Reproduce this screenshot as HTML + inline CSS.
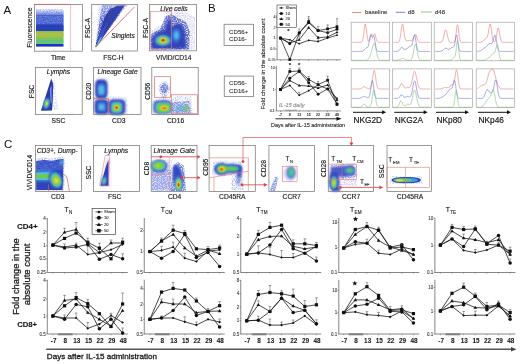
<!DOCTYPE html>
<html><head><meta charset="utf-8"><style>
html,body{margin:0;padding:0;background:#fff;width:520px;height:364px;overflow:hidden}
svg{display:block;filter:blur(0.3px)}
text{font-family:"Liberation Sans", sans-serif}
</style></head><body>
<svg width="520" height="364" viewBox="0 0 520 364">
<defs>
<linearGradient id="gA1" x1="0" y1="0" x2="0" y2="1"><stop offset="0" stop-color="#ffffff" stop-opacity="0"/><stop offset="0.5" stop-color="#b8c2f0"/><stop offset="1" stop-color="#4a60d0"/></linearGradient>
<linearGradient id="gA2" x1="0" y1="0" x2="0" y2="1"><stop offset="0" stop-color="#8a9ae6"/><stop offset="0.35" stop-color="#4d62d0"/><stop offset="1" stop-color="#2a38aa"/></linearGradient>
<filter id="b05" x="-30%" y="-30%" width="160%" height="160%"><feGaussianBlur stdDeviation="0.45"/></filter>
<filter id="b1" x="-30%" y="-30%" width="160%" height="160%"><feGaussianBlur stdDeviation="0.9"/></filter>
<filter id="spk" x="-10%" y="-10%" width="120%" height="120%"><feTurbulence type="fractalNoise" baseFrequency="0.85" numOctaves="2" seed="3" result="n"/><feComponentTransfer in="n" result="m"><feFuncA type="discrete" tableValues="0 0.1 0.5 0.9 1 1"/></feComponentTransfer><feComposite in="SourceGraphic" in2="m" operator="in" result="c"/><feGaussianBlur in="c" stdDeviation="0.35"/></filter>
<filter id="spk2" x="-10%" y="-10%" width="120%" height="120%"><feTurbulence type="fractalNoise" baseFrequency="0.9" numOctaves="2" seed="7" result="n"/><feComponentTransfer in="n" result="m"><feFuncA type="discrete" tableValues="0 0 0.15 0.5 0.9 1"/></feComponentTransfer><feComposite in="SourceGraphic" in2="m" operator="in" result="c"/><feGaussianBlur in="c" stdDeviation="0.4"/></filter>
</defs>
<rect width="520" height="364" fill="#fff"/>
<text x="3.50" y="14.00" font-size="11.5" text-anchor="start" font-weight="normal" font-style="normal" fill="#111" stroke="#111" stroke-width="0.00">A</text>
<rect x="36" y="7.5" width="27.5" height="9" fill="url(#gA1)"/>
<path d="M36,9 H63.5 V15 H36 Z" fill="#6f82dc" opacity="0.7" filter="url(#spk2)"/>
<rect x="36" y="15.5" width="27.5" height="16" fill="#3550c8" filter="url(#b05)"/>
<path d="M36,16 H63.5 V24 H36 Z" fill="#8da2ec" opacity="0.55" filter="url(#spk)"/>
<rect x="36" y="25" width="27.5" height="6" fill="#2a3bb0" opacity="0.8" filter="url(#b05)"/>
<rect x="36" y="31" width="27.5" height="13" fill="#7cc656" filter="url(#b05)"/>
<rect x="36" y="32.6" width="27.5" height="4.6" fill="#b8c448" opacity="0.7" filter="url(#b05)"/>
<path d="M36,33 H63.5 V36.5 H36 Z" fill="#e0a040" opacity="0.35" filter="url(#spk)"/>
<rect x="36" y="39.5" width="27.5" height="4" fill="#50c0a0" opacity="0.55" filter="url(#b05)"/>
<rect x="36" y="44" width="27.5" height="2.6" fill="#1f30c0" filter="url(#b05)"/>
<rect x="34.60" y="4.40" width="47.80" height="46.80" fill="none" stroke="#7a7a7a" stroke-width="0.75"/>
<line x1="44.16" y1="51.20" x2="44.16" y2="50.20" stroke="#999" stroke-width="0.4"/>
<line x1="34.60" y1="13.76" x2="35.60" y2="13.76" stroke="#999" stroke-width="0.4"/>
<line x1="53.72" y1="51.20" x2="53.72" y2="50.20" stroke="#999" stroke-width="0.4"/>
<line x1="34.60" y1="23.12" x2="35.60" y2="23.12" stroke="#999" stroke-width="0.4"/>
<line x1="63.28" y1="51.20" x2="63.28" y2="50.20" stroke="#999" stroke-width="0.4"/>
<line x1="34.60" y1="32.48" x2="35.60" y2="32.48" stroke="#999" stroke-width="0.4"/>
<line x1="72.84" y1="51.20" x2="72.84" y2="50.20" stroke="#999" stroke-width="0.4"/>
<line x1="34.60" y1="41.84" x2="35.60" y2="41.84" stroke="#999" stroke-width="0.4"/>
<polyline points="34.60,4.40 70.60,4.40" fill="none" stroke="#d86868" stroke-width="0.8"/>
<line x1="70.60" y1="4.40" x2="70.60" y2="51.20" stroke="#e09090" stroke-width="0.6"/>
<text x="32.30" y="27.70" font-size="6.7" text-anchor="middle" font-weight="normal" font-style="normal" fill="#111" stroke="#111" stroke-width="0.12" transform="rotate(-90 32.3 27.7)">Fluorescence</text>
<text x="58.20" y="59.60" font-size="6.7" text-anchor="middle" font-weight="normal" font-style="normal" fill="#111" stroke="#111" stroke-width="0.12">Time</text>
<path d="M95.5,47.5 L98.5,5 L128,5 Z" fill="#b0bcef" opacity="0.8" filter="url(#spk2)"/>
<path d="M95.3,47.5 L102,5 L126.5,5 Z" fill="url(#gA2)" opacity="0.95" filter="url(#spk)"/>
<path d="M95.5,47.3 L104,18 L110,9 L117,6 L124.5,5.5 L100,42 Z" fill="#2a37a4" stroke="none" stroke-width="0.7" opacity="0.9" filter="url(#b05)"/>
<path d="M95.6,47.2 L101,32 L107,22 L103,36 Z" fill="#3f5ad0" stroke="none" stroke-width="0.7" opacity="0.7" filter="url(#b05)"/>
<path d="M95.8,47 L99.5,39 L102.5,36 L97.5,46 Z" fill="#58c8e0" stroke="none" stroke-width="0.7" filter="url(#b05)"/>
<path d="M95.8,47.3 L97.8,43 L98.8,43.5 Z" fill="#73c84a" stroke="none" stroke-width="0.7" filter="url(#b05)"/>
<rect x="91.70" y="4.40" width="45.90" height="46.60" fill="none" stroke="#7a7a7a" stroke-width="0.75"/>
<line x1="100.88" y1="51.00" x2="100.88" y2="50.00" stroke="#999" stroke-width="0.4"/>
<line x1="91.70" y1="13.72" x2="92.70" y2="13.72" stroke="#999" stroke-width="0.4"/>
<line x1="110.06" y1="51.00" x2="110.06" y2="50.00" stroke="#999" stroke-width="0.4"/>
<line x1="91.70" y1="23.04" x2="92.70" y2="23.04" stroke="#999" stroke-width="0.4"/>
<line x1="119.24" y1="51.00" x2="119.24" y2="50.00" stroke="#999" stroke-width="0.4"/>
<line x1="91.70" y1="32.36" x2="92.70" y2="32.36" stroke="#999" stroke-width="0.4"/>
<line x1="128.42" y1="51.00" x2="128.42" y2="50.00" stroke="#999" stroke-width="0.4"/>
<line x1="91.70" y1="41.68" x2="92.70" y2="41.68" stroke="#999" stroke-width="0.4"/>
<line x1="95.50" y1="47.00" x2="134.60" y2="6.80" stroke="#d95a58" stroke-width="0.8"/>
<text x="90.30" y="28.00" font-size="6.7" text-anchor="middle" font-weight="normal" font-style="normal" fill="#111" stroke="#111" stroke-width="0.12" transform="rotate(-90 90.3 28.0)">FSC-A</text>
<text x="113.40" y="59.60" font-size="6.7" text-anchor="middle" font-weight="normal" font-style="normal" fill="#111" stroke="#111" stroke-width="0.12">FSC-H</text>
<text x="123.00" y="37.90" font-size="6.6" text-anchor="middle" font-weight="normal" font-style="italic" fill="#111" stroke="#111" stroke-width="0.12">Singlets</text>
<path d="M151,49.5 L151,30 L162,24 L166,10 L174,7 L184,10 L195,18 L195,49.5 Z" fill="#a8a6e6" opacity="0.55" filter="url(#spk2)"/>
<path d="M151,49.5 L151,34 L160,29 L166,16 L172,14 L178,18 L186,22 L190,32 L189,49.5 Z" fill="#3a4cc0" opacity="0.8" filter="url(#spk)"/>
<path d="M151.5,49 L152,38 L158,32 L165,30 L168,20 L171,19 L172,28 L175,24 L181,24 L185,32 L186,48 L170,49 Z" fill="#2b3ab0" stroke="none" stroke-width="0.7" opacity="0.9" filter="url(#b1)"/>
<ellipse cx="162.80" cy="40.50" rx="9.50" ry="6.20" fill="#3a5ad0" opacity="1.0" filter="url(#b1)"/>
<ellipse cx="176.30" cy="35.30" rx="4.80" ry="8.00" fill="#3a62d4" opacity="0.9" filter="url(#b1)"/>
<ellipse cx="176.30" cy="35.30" rx="3.00" ry="5.20" fill="#3a9ae0" opacity="1.0" filter="url(#b1)"/>
<ellipse cx="176.30" cy="35.30" rx="1.80" ry="3.30" fill="#52c6e6" opacity="0.9" filter="url(#b1)"/>
<ellipse cx="163.00" cy="40.50" rx="7.20" ry="4.70" fill="#52c6e6" opacity="1.0" filter="url(#b1)"/>
<ellipse cx="163.00" cy="40.50" rx="5.60" ry="3.60" fill="#73c84a" opacity="1.0" filter="url(#b1)"/>
<ellipse cx="163.10" cy="40.40" rx="3.30" ry="2.40" fill="#e5df2c" opacity="1.0" filter="url(#b1)"/>
<ellipse cx="163.10" cy="40.30" rx="1.70" ry="1.30" fill="#e2341e" opacity="1.0" filter="url(#b05)"/>
<rect x="149.50" y="4.40" width="47.10" height="46.40" fill="none" stroke="#7a7a7a" stroke-width="0.75"/>
<line x1="158.92" y1="50.80" x2="158.92" y2="49.80" stroke="#999" stroke-width="0.4"/>
<line x1="149.50" y1="13.68" x2="150.50" y2="13.68" stroke="#999" stroke-width="0.4"/>
<line x1="168.34" y1="50.80" x2="168.34" y2="49.80" stroke="#999" stroke-width="0.4"/>
<line x1="149.50" y1="22.96" x2="150.50" y2="22.96" stroke="#999" stroke-width="0.4"/>
<line x1="177.76" y1="50.80" x2="177.76" y2="49.80" stroke="#999" stroke-width="0.4"/>
<line x1="149.50" y1="32.24" x2="150.50" y2="32.24" stroke="#999" stroke-width="0.4"/>
<line x1="187.18" y1="50.80" x2="187.18" y2="49.80" stroke="#999" stroke-width="0.4"/>
<line x1="149.50" y1="41.52" x2="150.50" y2="41.52" stroke="#999" stroke-width="0.4"/>
<rect x="150.40" y="11.60" width="20.90" height="37.00" fill="none" stroke="#e08080" stroke-width="0.6"/>
<text x="147.70" y="28.00" font-size="6.7" text-anchor="middle" font-weight="normal" font-style="normal" fill="#111" stroke="#111" stroke-width="0.12" transform="rotate(-90 147.7 28.0)">FSC-A</text>
<text x="173.80" y="59.60" font-size="6.7" text-anchor="middle" font-weight="normal" font-style="normal" fill="#111" stroke="#111" stroke-width="0.12">ViViD/CD14</text>
<text x="173.90" y="11.40" font-size="6.7" text-anchor="middle" font-weight="normal" font-style="italic" fill="#111" stroke="#111" stroke-width="0.12">Live cells</text>
<path d="M42,111 L51,79 L55,84 L58.5,110 Z" fill="#b4bcec" opacity="0.7" filter="url(#spk2)"/>
<path d="M40.9,110.8 L46,95 L51.2,78.6 L53.2,84 L52.8,100 L52,110.6 Z" fill="#2c3aa8" stroke="none" stroke-width="0.7" filter="url(#b05)"/>
<path d="M49.8,89 L51.6,85 L52,104 L50.4,101 Z" fill="#8da0ee" stroke="none" stroke-width="0.7" opacity="0.75" filter="url(#b05)"/>
<ellipse cx="46.50" cy="103.50" rx="2.50" ry="5.00" fill="#3a8fe0" opacity="1.0" transform="rotate(14 46.5 103.5)" filter="url(#b1)"/>
<ellipse cx="46.50" cy="103.50" rx="2.00" ry="4.20" fill="#52c6e6" opacity="1.0" transform="rotate(14 46.5 103.5)" filter="url(#b1)"/>
<ellipse cx="46.60" cy="103.60" rx="1.60" ry="3.40" fill="#73c84a" opacity="1.0" transform="rotate(14 46.6 103.6)" filter="url(#b1)"/>
<ellipse cx="46.70" cy="103.60" rx="1.00" ry="2.00" fill="#d8e030" opacity="1.0" transform="rotate(14 46.7 103.6)" filter="url(#b05)"/>
<rect x="35.40" y="67.40" width="46.80" height="47.00" fill="none" stroke="#7a7a7a" stroke-width="0.75"/>
<line x1="44.76" y1="114.40" x2="44.76" y2="113.40" stroke="#999" stroke-width="0.4"/>
<line x1="35.40" y1="76.80" x2="36.40" y2="76.80" stroke="#999" stroke-width="0.4"/>
<line x1="54.12" y1="114.40" x2="54.12" y2="113.40" stroke="#999" stroke-width="0.4"/>
<line x1="35.40" y1="86.20" x2="36.40" y2="86.20" stroke="#999" stroke-width="0.4"/>
<line x1="63.48" y1="114.40" x2="63.48" y2="113.40" stroke="#999" stroke-width="0.4"/>
<line x1="35.40" y1="95.60" x2="36.40" y2="95.60" stroke="#999" stroke-width="0.4"/>
<line x1="72.84" y1="114.40" x2="72.84" y2="113.40" stroke="#999" stroke-width="0.4"/>
<line x1="35.40" y1="105.00" x2="36.40" y2="105.00" stroke="#999" stroke-width="0.4"/>
<text x="33.50" y="91.50" font-size="6.7" text-anchor="middle" font-weight="normal" font-style="normal" fill="#111" stroke="#111" stroke-width="0.12" transform="rotate(-90 33.5 91.5)">FSC</text>
<text x="58.40" y="123.10" font-size="6.7" text-anchor="middle" font-weight="normal" font-style="normal" fill="#111" stroke="#111" stroke-width="0.12">SSC</text>
<text x="58.50" y="74.20" font-size="6.7" text-anchor="middle" font-weight="normal" font-style="italic" fill="#111" stroke="#111" stroke-width="0.12">Lymphs</text>
<path d="M94,114 L94,97 L110,96 L127,97 L128,114 Z" fill="#aab6ee" opacity="0.6" filter="url(#spk2)"/>
<rect x="95.10" y="79.60" width="12.40" height="18.80" rx="3.41" ry="5.17" fill="#2d3fb5" opacity="1.0" filter="url(#b1)"/>
<rect x="94.70" y="99.40" width="13.80" height="14.80" rx="3.80" ry="4.07" fill="#2d3fb5" opacity="1.0" filter="url(#b1)"/>
<rect x="108.70" y="99.60" width="16.60" height="15.20" rx="4.57" ry="4.18" fill="#2d3fb5" opacity="1.0" filter="url(#b1)"/>
<rect x="97.00" y="83.00" width="8.60" height="13.20" rx="2.37" ry="3.63" fill="#3f6ad8" opacity="1.0" filter="url(#b1)"/>
<rect x="98.40" y="85.50" width="5.80" height="9.00" rx="1.59" ry="2.48" fill="#52c6e6" opacity="0.95" filter="url(#b1)"/>
<rect x="96.80" y="101.60" width="9.60" height="10.40" rx="2.64" ry="2.86" fill="#3f6ad8" opacity="1.0" filter="url(#b1)"/>
<rect x="98.80" y="104.00" width="5.60" height="6.00" rx="1.54" ry="1.65" fill="#52c6e6" opacity="0.95" filter="url(#b1)"/>
<rect x="110.40" y="101.00" width="12.80" height="12.40" rx="3.52" ry="3.41" fill="#3f6ad8" opacity="1.0" filter="url(#b1)"/>
<rect x="111.60" y="102.40" width="10.00" height="10.00" rx="2.75" ry="2.75" fill="#52c6e6" opacity="1.0" filter="url(#b1)"/>
<rect x="112.70" y="103.50" width="7.80" height="8.00" rx="2.15" ry="2.20" fill="#73c84a" opacity="1.0" filter="url(#b1)"/>
<ellipse cx="116.60" cy="107.60" rx="2.50" ry="2.40" fill="#e5df2c" opacity="1.0" filter="url(#b1)"/>
<ellipse cx="116.60" cy="107.60" rx="1.40" ry="1.20" fill="#e2341e" opacity="1.0" filter="url(#b05)"/>
<rect x="93.40" y="67.40" width="47.60" height="47.00" fill="none" stroke="#7a7a7a" stroke-width="0.75"/>
<line x1="102.92" y1="114.40" x2="102.92" y2="113.40" stroke="#999" stroke-width="0.4"/>
<line x1="93.40" y1="76.80" x2="94.40" y2="76.80" stroke="#999" stroke-width="0.4"/>
<line x1="112.44" y1="114.40" x2="112.44" y2="113.40" stroke="#999" stroke-width="0.4"/>
<line x1="93.40" y1="86.20" x2="94.40" y2="86.20" stroke="#999" stroke-width="0.4"/>
<line x1="121.96" y1="114.40" x2="121.96" y2="113.40" stroke="#999" stroke-width="0.4"/>
<line x1="93.40" y1="95.60" x2="94.40" y2="95.60" stroke="#999" stroke-width="0.4"/>
<line x1="131.48" y1="114.40" x2="131.48" y2="113.40" stroke="#999" stroke-width="0.4"/>
<line x1="93.40" y1="105.00" x2="94.40" y2="105.00" stroke="#999" stroke-width="0.4"/>
<polyline points="93.40,98.70 108.50,98.70 108.50,114.40" fill="none" stroke="#d95a58" stroke-width="0.8"/>
<text x="91.50" y="91.20" font-size="6.7" text-anchor="middle" font-weight="normal" font-style="normal" fill="#111" stroke="#111" stroke-width="0.12" transform="rotate(-90 91.5 91.2)">CD20</text>
<text x="118.80" y="123.10" font-size="6.7" text-anchor="middle" font-weight="normal" font-style="normal" fill="#111" stroke="#111" stroke-width="0.12">CD3</text>
<text x="117.60" y="74.20" font-size="6.7" text-anchor="middle" font-weight="normal" font-style="italic" fill="#111" stroke="#111" stroke-width="0.12">Lineage Gate</text>
<path d="M158.50,88.50 a6.00,7.50 0 1,0 12.00,0 a6.00,7.50 0 1,0 -12.00,0 Z" fill="#7a8ee0" opacity="0.7" filter="url(#spk2)"/>
<path d="M160.30,88.50 a4.00,5.00 0 1,0 8.00,0 a4.00,5.00 0 1,0 -8.00,0 Z" fill="#3e58c8" opacity="0.75" filter="url(#spk)"/>
<path d="M161,94 L167,94 L166,101 L162,101 Z" fill="#6a80dc" opacity="0.6" filter="url(#spk2)"/>
<path d="M153,114 L153,100 L172,99 L176,96 L191,96 L193,114 Z" fill="#95a3e8" opacity="0.6" filter="url(#spk2)"/>
<path d="M172,113.5 L172,102 L190,101 L191,113.5 Z" fill="#4058c8" opacity="0.55" filter="url(#spk)"/>
<rect x="153.50" y="100.50" width="18.00" height="13.00" rx="4.95" ry="3.58" fill="#2f44bc" opacity="0.95" filter="url(#b1)"/>
<rect x="155.20" y="102.30" width="15.60" height="10.40" rx="4.29" ry="2.86" fill="#52c6e6" opacity="0.9" filter="url(#b1)"/>
<rect x="157.00" y="103.60" width="13.00" height="8.40" rx="3.58" ry="2.31" fill="#73c84a" opacity="1.0" filter="url(#b1)"/>
<ellipse cx="164.20" cy="108.00" rx="4.20" ry="2.20" fill="#e5df2c" opacity="1.0" filter="url(#b1)"/>
<ellipse cx="164.40" cy="108.20" rx="2.40" ry="1.20" fill="#f08030" opacity="1.0" filter="url(#b05)"/>
<ellipse cx="181.00" cy="108.50" rx="6.00" ry="3.20" fill="#48b0d8" opacity="0.5" filter="url(#b1)"/>
<ellipse cx="186.00" cy="108.50" rx="2.80" ry="2.60" fill="#73c84a" opacity="0.75" filter="url(#b1)"/>
<rect x="151.80" y="67.40" width="46.40" height="47.00" fill="none" stroke="#7a7a7a" stroke-width="0.75"/>
<line x1="161.08" y1="114.40" x2="161.08" y2="113.40" stroke="#999" stroke-width="0.4"/>
<line x1="151.80" y1="76.80" x2="152.80" y2="76.80" stroke="#999" stroke-width="0.4"/>
<line x1="170.36" y1="114.40" x2="170.36" y2="113.40" stroke="#999" stroke-width="0.4"/>
<line x1="151.80" y1="86.20" x2="152.80" y2="86.20" stroke="#999" stroke-width="0.4"/>
<line x1="179.64" y1="114.40" x2="179.64" y2="113.40" stroke="#999" stroke-width="0.4"/>
<line x1="151.80" y1="95.60" x2="152.80" y2="95.60" stroke="#999" stroke-width="0.4"/>
<line x1="188.92" y1="114.40" x2="188.92" y2="113.40" stroke="#999" stroke-width="0.4"/>
<line x1="151.80" y1="105.00" x2="152.80" y2="105.00" stroke="#999" stroke-width="0.4"/>
<rect x="154.40" y="76.70" width="16.20" height="20.60" fill="none" stroke="#dd6a68" stroke-width="0.7"/>
<rect x="171.30" y="94.80" width="26.10" height="19.00" fill="none" stroke="#dd6a68" stroke-width="0.7"/>
<text x="150.00" y="91.20" font-size="6.7" text-anchor="middle" font-weight="normal" font-style="normal" fill="#111" stroke="#111" stroke-width="0.12" transform="rotate(-90 150.0 91.2)">CD56</text>
<text x="175.60" y="123.10" font-size="6.7" text-anchor="middle" font-weight="normal" font-style="normal" fill="#111" stroke="#111" stroke-width="0.12">CD16</text>
<text x="208.00" y="12.20" font-size="11.5" text-anchor="start" font-weight="normal" font-style="normal" fill="#111" stroke="#111" stroke-width="0.00">B</text>
<rect x="224.10" y="24.30" width="29.40" height="21.20" fill="none" stroke="#8a8a8a" stroke-width="0.9"/>
<text x="229.10" y="33.90" font-size="6.1" text-anchor="start" font-weight="normal" font-style="normal" fill="#333" stroke="#333" stroke-width="0.11">CD56+</text>
<text x="229.10" y="40.70" font-size="6.1" text-anchor="start" font-weight="normal" font-style="normal" fill="#333" stroke="#333" stroke-width="0.11">CD16-</text>
<rect x="224.30" y="76.10" width="29.20" height="20.50" fill="none" stroke="#8a8a8a" stroke-width="0.9"/>
<text x="229.10" y="85.20" font-size="6.1" text-anchor="start" font-weight="normal" font-style="normal" fill="#333" stroke="#333" stroke-width="0.11">CD56-</text>
<text x="229.10" y="92.50" font-size="6.1" text-anchor="start" font-weight="normal" font-style="normal" fill="#333" stroke="#333" stroke-width="0.11">CD16+</text>
<text x="265.30" y="64.00" font-size="6.05" text-anchor="middle" font-weight="normal" font-style="normal" fill="#222" stroke="#222" stroke-width="0.11" transform="rotate(-90 265.3 64.0)">Fold change in the absolute count</text>
<line x1="277.10" y1="15.00" x2="277.10" y2="59.80" stroke="#444" stroke-width="0.6"/>
<line x1="277.10" y1="59.80" x2="341.00" y2="59.80" stroke="#444" stroke-width="0.6"/>
<line x1="275.90" y1="17.00" x2="277.10" y2="17.00" stroke="#444" stroke-width="0.45"/>
<text x="275.50" y="18.33" font-size="3.7" text-anchor="end" font-weight="normal" font-style="normal" fill="#333" stroke="#333" stroke-width="0.07">4</text>
<line x1="275.90" y1="27.30" x2="277.10" y2="27.30" stroke="#444" stroke-width="0.45"/>
<text x="275.50" y="28.63" font-size="3.7" text-anchor="end" font-weight="normal" font-style="normal" fill="#333" stroke="#333" stroke-width="0.07">2</text>
<line x1="275.90" y1="38.00" x2="277.10" y2="38.00" stroke="#444" stroke-width="0.45"/>
<text x="275.50" y="39.33" font-size="3.7" text-anchor="end" font-weight="normal" font-style="normal" fill="#333" stroke="#333" stroke-width="0.07">1</text>
<line x1="275.90" y1="49.00" x2="277.10" y2="49.00" stroke="#444" stroke-width="0.45"/>
<text x="275.50" y="50.33" font-size="3.7" text-anchor="end" font-weight="normal" font-style="normal" fill="#333" stroke="#333" stroke-width="0.07">0.5</text>
<line x1="275.90" y1="59.80" x2="277.10" y2="59.80" stroke="#444" stroke-width="0.45"/>
<text x="275.50" y="61.13" font-size="3.7" text-anchor="end" font-weight="normal" font-style="normal" fill="#333" stroke="#333" stroke-width="0.07">0.25</text>
<line x1="280.50" y1="59.80" x2="280.50" y2="61.00" stroke="#444" stroke-width="0.45"/>
<line x1="289.80" y1="59.80" x2="289.80" y2="61.00" stroke="#444" stroke-width="0.45"/>
<line x1="299.20" y1="59.80" x2="299.20" y2="61.00" stroke="#444" stroke-width="0.45"/>
<line x1="308.70" y1="59.80" x2="308.70" y2="61.00" stroke="#444" stroke-width="0.45"/>
<line x1="318.10" y1="59.80" x2="318.10" y2="61.00" stroke="#444" stroke-width="0.45"/>
<line x1="327.60" y1="59.80" x2="327.60" y2="61.00" stroke="#444" stroke-width="0.45"/>
<line x1="337.00" y1="59.80" x2="337.00" y2="61.00" stroke="#444" stroke-width="0.45"/>
<polyline points="280.50,38.10 289.80,39.80 299.20,43.70 308.70,40.30 318.10,41.50 327.60,38.00 337.00,35.20" fill="none" stroke="#1a1a1a" stroke-width="0.75"/>
<line x1="318.10" y1="41.50" x2="318.10" y2="36.50" stroke="#5a5a5a" stroke-width="0.55"/>
<line x1="317.00" y1="36.50" x2="319.21" y2="36.50" stroke="#4a4a4a" stroke-width="0.55"/>
<path d="M280.50,36.95 L281.65,38.10 L280.50,39.25 L279.35,38.10 Z" fill="#111"/>
<path d="M289.80,38.65 L290.95,39.80 L289.80,40.95 L288.65,39.80 Z" fill="#111"/>
<path d="M299.20,42.55 L300.35,43.70 L299.20,44.85 L298.05,43.70 Z" fill="#111"/>
<path d="M308.70,39.15 L309.85,40.30 L308.70,41.45 L307.55,40.30 Z" fill="#111"/>
<path d="M318.10,40.35 L319.25,41.50 L318.10,42.65 L316.95,41.50 Z" fill="#111"/>
<path d="M327.60,36.85 L328.75,38.00 L327.60,39.15 L326.45,38.00 Z" fill="#111"/>
<path d="M337.00,34.05 L338.15,35.20 L337.00,36.35 L335.85,35.20 Z" fill="#111"/>
<polyline points="280.50,38.10 289.80,43.70 299.20,33.00 308.70,22.80 318.10,30.60 327.60,32.70 337.00,29.30" fill="none" stroke="#1a1a1a" stroke-width="0.75"/>
<line x1="308.70" y1="22.80" x2="308.70" y2="18.80" stroke="#5a5a5a" stroke-width="0.55"/>
<line x1="307.59" y1="18.80" x2="309.81" y2="18.80" stroke="#4a4a4a" stroke-width="0.55"/>
<circle cx="280.50" cy="38.10" r="1.49" fill="#111"/>
<circle cx="289.80" cy="43.70" r="1.49" fill="#111"/>
<circle cx="299.20" cy="33.00" r="1.49" fill="#111"/>
<circle cx="308.70" cy="22.80" r="1.49" fill="#111"/>
<circle cx="318.10" cy="30.60" r="1.49" fill="#111"/>
<circle cx="327.60" cy="32.70" r="1.49" fill="#111"/>
<circle cx="337.00" cy="29.30" r="1.49" fill="#111"/>
<polyline points="280.50,38.10 289.80,43.00 299.20,39.80 308.70,27.60 318.10,37.80 327.60,36.90 337.00,32.30" fill="none" stroke="#1a1a1a" stroke-width="0.75"/>
<line x1="299.20" y1="39.80" x2="299.20" y2="35.80" stroke="#5a5a5a" stroke-width="0.55"/>
<line x1="298.09" y1="35.80" x2="300.31" y2="35.80" stroke="#4a4a4a" stroke-width="0.55"/>
<line x1="327.60" y1="36.90" x2="327.60" y2="32.90" stroke="#5a5a5a" stroke-width="0.55"/>
<line x1="326.50" y1="32.90" x2="328.71" y2="32.90" stroke="#4a4a4a" stroke-width="0.55"/>
<path d="M280.50,36.48 L282.03,39.15 L278.97,39.15 Z" fill="#111"/>
<path d="M289.80,41.38 L291.33,44.05 L288.27,44.05 Z" fill="#111"/>
<path d="M299.20,38.18 L300.73,40.85 L297.67,40.85 Z" fill="#111"/>
<path d="M308.70,25.99 L310.23,28.65 L307.17,28.65 Z" fill="#111"/>
<path d="M318.10,36.18 L319.63,38.85 L316.57,38.85 Z" fill="#111"/>
<path d="M327.60,35.28 L329.13,37.95 L326.07,37.95 Z" fill="#111"/>
<path d="M337.00,30.68 L338.53,33.35 L335.47,33.35 Z" fill="#111"/>
<polyline points="280.50,38.10 289.80,59.60 299.20,33.00 308.70,21.60 318.10,30.60 327.60,28.90 337.00,26.70" fill="none" stroke="#1a1a1a" stroke-width="0.75"/>
<line x1="299.20" y1="33.00" x2="299.20" y2="29.00" stroke="#5a5a5a" stroke-width="0.55"/>
<line x1="298.09" y1="29.00" x2="300.31" y2="29.00" stroke="#4a4a4a" stroke-width="0.55"/>
<line x1="308.70" y1="21.60" x2="308.70" y2="16.60" stroke="#5a5a5a" stroke-width="0.55"/>
<line x1="307.59" y1="16.60" x2="309.81" y2="16.60" stroke="#4a4a4a" stroke-width="0.55"/>
<line x1="318.10" y1="30.60" x2="318.10" y2="26.60" stroke="#5a5a5a" stroke-width="0.55"/>
<line x1="317.00" y1="26.60" x2="319.21" y2="26.60" stroke="#4a4a4a" stroke-width="0.55"/>
<line x1="327.60" y1="28.90" x2="327.60" y2="24.90" stroke="#5a5a5a" stroke-width="0.55"/>
<line x1="326.50" y1="24.90" x2="328.71" y2="24.90" stroke="#4a4a4a" stroke-width="0.55"/>
<line x1="337.00" y1="26.70" x2="337.00" y2="18.70" stroke="#5a5a5a" stroke-width="0.55"/>
<line x1="335.89" y1="18.70" x2="338.11" y2="18.70" stroke="#4a4a4a" stroke-width="0.55"/>
<rect x="279.14" y="36.74" width="2.72" height="2.72" fill="#111"/>
<rect x="288.44" y="58.24" width="2.72" height="2.72" fill="#111"/>
<rect x="297.84" y="31.64" width="2.72" height="2.72" fill="#111"/>
<rect x="307.34" y="20.24" width="2.72" height="2.72" fill="#111"/>
<rect x="316.74" y="29.24" width="2.72" height="2.72" fill="#111"/>
<rect x="326.24" y="27.54" width="2.72" height="2.72" fill="#111"/>
<rect x="335.64" y="25.34" width="2.72" height="2.72" fill="#111"/>
<text x="288.50" y="33.20" font-size="6" text-anchor="middle" font-weight="bold" font-style="normal" fill="#111" stroke="#111" stroke-width="0.06">*</text>
<rect x="277.00" y="5.00" width="19.30" height="22.60" fill="#fff" stroke="#444" stroke-width="0.6"/>
<line x1="279.00" y1="7.90" x2="283.70" y2="7.90" stroke="#222" stroke-width="0.6"/>
<path d="M281.30,6.69 L282.51,7.90 L281.30,9.12 L280.09,7.90 Z" fill="#111"/>
<text x="285.60" y="9.30" font-size="3.9" text-anchor="start" font-weight="normal" font-style="normal" fill="#222" stroke="#222" stroke-width="0.07">Sham</text>
<line x1="279.00" y1="13.50" x2="283.70" y2="13.50" stroke="#222" stroke-width="0.6"/>
<circle cx="281.30" cy="13.50" r="1.57" fill="#111"/>
<text x="285.60" y="14.90" font-size="3.9" text-anchor="start" font-weight="normal" font-style="normal" fill="#222" stroke="#222" stroke-width="0.07">10</text>
<line x1="279.00" y1="18.90" x2="283.70" y2="18.90" stroke="#222" stroke-width="0.6"/>
<path d="M281.30,17.19 L282.92,20.01 L279.68,20.01 Z" fill="#111"/>
<text x="285.60" y="20.30" font-size="3.9" text-anchor="start" font-weight="normal" font-style="normal" fill="#222" stroke="#222" stroke-width="0.07">20</text>
<line x1="279.00" y1="24.30" x2="283.70" y2="24.30" stroke="#222" stroke-width="0.6"/>
<rect x="279.86" y="22.86" width="2.88" height="2.88" fill="#111"/>
<text x="285.60" y="25.70" font-size="3.9" text-anchor="start" font-weight="normal" font-style="normal" fill="#222" stroke="#222" stroke-width="0.07">50</text>
<line x1="276.40" y1="65.70" x2="276.40" y2="110.90" stroke="#444" stroke-width="0.6"/>
<line x1="276.40" y1="110.90" x2="341.00" y2="110.90" stroke="#444" stroke-width="0.6"/>
<line x1="275.20" y1="67.80" x2="276.40" y2="67.80" stroke="#444" stroke-width="0.45"/>
<text x="274.80" y="69.13" font-size="3.7" text-anchor="end" font-weight="normal" font-style="normal" fill="#333" stroke="#333" stroke-width="0.07">10</text>
<line x1="275.20" y1="89.40" x2="276.40" y2="89.40" stroke="#444" stroke-width="0.45"/>
<text x="274.80" y="90.73" font-size="3.7" text-anchor="end" font-weight="normal" font-style="normal" fill="#333" stroke="#333" stroke-width="0.07">1</text>
<line x1="275.20" y1="110.90" x2="276.40" y2="110.90" stroke="#444" stroke-width="0.45"/>
<text x="274.80" y="112.23" font-size="3.7" text-anchor="end" font-weight="normal" font-style="normal" fill="#333" stroke="#333" stroke-width="0.07">0.1</text>
<line x1="280.50" y1="110.90" x2="280.50" y2="112.10" stroke="#444" stroke-width="0.45"/>
<line x1="289.80" y1="110.90" x2="289.80" y2="112.10" stroke="#444" stroke-width="0.45"/>
<line x1="299.20" y1="110.90" x2="299.20" y2="112.10" stroke="#444" stroke-width="0.45"/>
<line x1="308.70" y1="110.90" x2="308.70" y2="112.10" stroke="#444" stroke-width="0.45"/>
<line x1="318.10" y1="110.90" x2="318.10" y2="112.10" stroke="#444" stroke-width="0.45"/>
<line x1="327.60" y1="110.90" x2="327.60" y2="112.10" stroke="#444" stroke-width="0.45"/>
<line x1="337.00" y1="110.90" x2="337.00" y2="112.10" stroke="#444" stroke-width="0.45"/>
<text x="280.50" y="116.00" font-size="3.6" text-anchor="middle" font-weight="bold" font-style="normal" fill="#333" stroke="#333" stroke-width="0.04">-7</text>
<text x="289.80" y="116.00" font-size="3.6" text-anchor="middle" font-weight="bold" font-style="normal" fill="#333" stroke="#333" stroke-width="0.04">8</text>
<text x="299.20" y="116.00" font-size="3.6" text-anchor="middle" font-weight="bold" font-style="normal" fill="#333" stroke="#333" stroke-width="0.04">13</text>
<text x="308.70" y="116.00" font-size="3.6" text-anchor="middle" font-weight="bold" font-style="normal" fill="#333" stroke="#333" stroke-width="0.04">15</text>
<text x="318.10" y="116.00" font-size="3.6" text-anchor="middle" font-weight="bold" font-style="normal" fill="#333" stroke="#333" stroke-width="0.04">22</text>
<text x="327.60" y="116.00" font-size="3.6" text-anchor="middle" font-weight="bold" font-style="normal" fill="#333" stroke="#333" stroke-width="0.04">29</text>
<text x="337.00" y="116.00" font-size="3.6" text-anchor="middle" font-weight="bold" font-style="normal" fill="#333" stroke="#333" stroke-width="0.04">48</text>
<polyline points="280.50,89.40 289.80,85.50 299.20,95.20 308.70,90.70 318.10,85.00 327.60,89.00 337.00,98.30" fill="none" stroke="#1a1a1a" stroke-width="0.75"/>
<line x1="299.20" y1="95.20" x2="299.20" y2="92.20" stroke="#5a5a5a" stroke-width="0.55"/>
<line x1="298.09" y1="92.20" x2="300.31" y2="92.20" stroke="#4a4a4a" stroke-width="0.55"/>
<path d="M280.50,88.25 L281.65,89.40 L280.50,90.55 L279.35,89.40 Z" fill="#111"/>
<path d="M289.80,84.35 L290.95,85.50 L289.80,86.65 L288.65,85.50 Z" fill="#111"/>
<path d="M299.20,94.05 L300.35,95.20 L299.20,96.35 L298.05,95.20 Z" fill="#111"/>
<path d="M308.70,89.55 L309.85,90.70 L308.70,91.85 L307.55,90.70 Z" fill="#111"/>
<path d="M318.10,83.85 L319.25,85.00 L318.10,86.15 L316.95,85.00 Z" fill="#111"/>
<path d="M327.60,87.85 L328.75,89.00 L327.60,90.15 L326.45,89.00 Z" fill="#111"/>
<path d="M337.00,97.15 L338.15,98.30 L337.00,99.45 L335.85,98.30 Z" fill="#111"/>
<polyline points="280.50,89.40 289.80,78.30 299.20,71.50 308.70,82.70 318.10,94.20 327.60,89.00 337.00,104.00" fill="none" stroke="#1a1a1a" stroke-width="0.75"/>
<circle cx="280.50" cy="89.40" r="1.49" fill="#111"/>
<circle cx="289.80" cy="78.30" r="1.49" fill="#111"/>
<circle cx="299.20" cy="71.50" r="1.49" fill="#111"/>
<circle cx="308.70" cy="82.70" r="1.49" fill="#111"/>
<circle cx="318.10" cy="94.20" r="1.49" fill="#111"/>
<circle cx="327.60" cy="89.00" r="1.49" fill="#111"/>
<circle cx="337.00" cy="104.00" r="1.49" fill="#111"/>
<polyline points="280.50,89.40 289.80,80.50 299.20,85.50 308.70,86.00 318.10,88.00 327.60,85.00 337.00,100.00" fill="none" stroke="#1a1a1a" stroke-width="0.75"/>
<path d="M280.50,87.79 L282.03,90.45 L278.97,90.45 Z" fill="#111"/>
<path d="M289.80,78.89 L291.33,81.55 L288.27,81.55 Z" fill="#111"/>
<path d="M299.20,83.89 L300.73,86.55 L297.67,86.55 Z" fill="#111"/>
<path d="M308.70,84.39 L310.23,87.05 L307.17,87.05 Z" fill="#111"/>
<path d="M318.10,86.39 L319.63,89.05 L316.57,89.05 Z" fill="#111"/>
<path d="M327.60,83.39 L329.13,86.05 L326.07,86.05 Z" fill="#111"/>
<path d="M337.00,98.39 L338.53,101.05 L335.47,101.05 Z" fill="#111"/>
<polyline points="280.50,89.40 289.80,71.50 299.20,71.00 308.70,79.50 318.10,84.60 327.60,80.20 337.00,104.50" fill="none" stroke="#1a1a1a" stroke-width="0.75"/>
<line x1="289.80" y1="71.50" x2="289.80" y2="68.50" stroke="#5a5a5a" stroke-width="0.55"/>
<line x1="288.69" y1="68.50" x2="290.91" y2="68.50" stroke="#4a4a4a" stroke-width="0.55"/>
<line x1="299.20" y1="71.00" x2="299.20" y2="68.00" stroke="#5a5a5a" stroke-width="0.55"/>
<line x1="298.09" y1="68.00" x2="300.31" y2="68.00" stroke="#4a4a4a" stroke-width="0.55"/>
<line x1="308.70" y1="79.50" x2="308.70" y2="76.50" stroke="#5a5a5a" stroke-width="0.55"/>
<line x1="307.59" y1="76.50" x2="309.81" y2="76.50" stroke="#4a4a4a" stroke-width="0.55"/>
<line x1="318.10" y1="84.60" x2="318.10" y2="81.60" stroke="#5a5a5a" stroke-width="0.55"/>
<line x1="317.00" y1="81.60" x2="319.21" y2="81.60" stroke="#4a4a4a" stroke-width="0.55"/>
<line x1="327.60" y1="80.20" x2="327.60" y2="76.20" stroke="#5a5a5a" stroke-width="0.55"/>
<line x1="326.50" y1="76.20" x2="328.71" y2="76.20" stroke="#4a4a4a" stroke-width="0.55"/>
<line x1="337.00" y1="104.50" x2="337.00" y2="100.50" stroke="#5a5a5a" stroke-width="0.55"/>
<line x1="335.89" y1="100.50" x2="338.11" y2="100.50" stroke="#4a4a4a" stroke-width="0.55"/>
<rect x="279.14" y="88.04" width="2.72" height="2.72" fill="#111"/>
<rect x="288.44" y="70.14" width="2.72" height="2.72" fill="#111"/>
<rect x="297.84" y="69.64" width="2.72" height="2.72" fill="#111"/>
<rect x="307.34" y="78.14" width="2.72" height="2.72" fill="#111"/>
<rect x="316.74" y="83.24" width="2.72" height="2.72" fill="#111"/>
<rect x="326.24" y="78.84" width="2.72" height="2.72" fill="#111"/>
<rect x="335.64" y="103.14" width="2.72" height="2.72" fill="#111"/>
<text x="289.80" y="67.00" font-size="6" text-anchor="middle" font-weight="bold" font-style="normal" fill="#111" stroke="#111" stroke-width="0.06">*</text>
<text x="299.20" y="67.00" font-size="6" text-anchor="middle" font-weight="bold" font-style="normal" fill="#111" stroke="#111" stroke-width="0.06">*</text>
<text x="279.00" y="106.90" font-size="5.5" text-anchor="start" font-weight="normal" font-style="italic" fill="#888" stroke="#888" stroke-width="0.10">IL-15 daily</text>
<line x1="285.20" y1="110.40" x2="297.00" y2="110.40" stroke="#999" stroke-width="1.3"/>
<line x1="275.50" y1="118.80" x2="338.00" y2="118.80" stroke="#111" stroke-width="0.9"/>
<path d="M341.5,118.8 L336.5,116.8 L336.5,120.8 Z" fill="#111" stroke="none" stroke-width="0.7"/>
<text x="271.00" y="126.90" font-size="5.45" text-anchor="start" font-weight="normal" font-style="normal" fill="#222" stroke="#222" stroke-width="0.10">Days after IL-15 administration</text>
<line x1="352.00" y1="12.50" x2="361.50" y2="12.50" stroke="#e26a6a" stroke-width="0.8"/>
<text x="365.00" y="14.20" font-size="6" text-anchor="start" font-weight="normal" font-style="normal" fill="#333" stroke="#333" stroke-width="0.11">baseline</text>
<line x1="395.80" y1="12.30" x2="405.40" y2="12.30" stroke="#6262cc" stroke-width="0.8"/>
<text x="407.80" y="14.20" font-size="6" text-anchor="start" font-weight="normal" font-style="normal" fill="#333" stroke="#333" stroke-width="0.11">d8</text>
<line x1="420.80" y1="12.00" x2="432.30" y2="12.00" stroke="#74bc70" stroke-width="0.8"/>
<text x="435.00" y="14.20" font-size="6" text-anchor="start" font-weight="normal" font-style="normal" fill="#333" stroke="#333" stroke-width="0.11">d48</text>
<rect x="351.20" y="22.20" width="38.50" height="38.60" fill="#fff" stroke="#a0a0a0" stroke-width="0.65"/>
<polyline points="352.20,42.40 352.58,42.41 352.96,42.44 353.34,42.40 353.72,42.40 354.10,42.41 354.48,42.37 354.86,42.40 355.24,42.41 355.62,42.43 356.00,42.36 356.38,42.38 356.76,42.36 357.14,42.43 357.52,42.42 357.90,42.35 358.28,42.45 358.66,42.45 359.04,42.42 359.42,42.41 359.80,42.36 360.18,42.34 360.56,42.38 360.94,42.28 361.32,42.19 361.71,41.91 362.09,41.36 362.47,40.68 362.85,39.28 363.23,37.42 363.61,34.54 363.99,31.45 364.37,28.18 364.75,25.71 365.13,24.13 365.51,24.06 365.89,26.15 366.27,28.80 366.65,31.87 367.03,34.91 367.41,37.34 367.79,39.26 368.17,40.53 368.55,41.03 368.93,41.30 369.31,40.65 369.69,39.86 370.07,38.29 370.45,37.03 370.83,35.53 371.21,34.02 371.59,33.76 371.97,34.43 372.35,34.80 372.73,35.69 373.11,35.60 373.49,35.15 373.87,34.85 374.25,34.33 374.63,33.80 375.01,34.12 375.39,35.32 375.77,37.13 376.15,38.58 376.53,39.68 376.91,40.80 377.29,41.46 377.67,41.88 378.05,42.27 378.43,42.30 378.81,42.38 379.19,42.39 379.57,42.37 379.96,42.42 380.34,42.36 380.72,42.41 381.10,42.36 381.48,42.39 381.86,42.37 382.24,42.38 382.62,42.45 383.00,42.43 383.38,42.38 383.76,42.44 384.14,42.37 384.52,42.39 384.90,42.44 385.28,42.41 385.66,42.36 386.04,42.45 386.42,42.37 386.80,42.38 387.18,42.43 387.56,42.38 387.94,42.38 388.32,42.36 388.70,42.36" fill="none" stroke="#e26a6a" stroke-width="0.55"/>
<polyline points="352.20,51.51 352.58,51.47 352.96,51.51 353.34,51.49 353.72,51.50 354.10,51.55 354.48,51.50 354.86,51.51 355.24,51.54 355.62,51.47 356.00,51.47 356.38,51.54 356.76,51.53 357.14,51.47 357.52,51.47 357.90,51.52 358.28,51.54 358.66,51.47 359.04,51.54 359.42,51.53 359.80,51.50 360.18,51.47 360.56,51.43 360.94,51.39 361.32,51.46 361.71,51.31 362.09,51.28 362.47,51.05 362.85,51.06 363.23,50.76 363.61,50.36 363.99,49.98 364.37,49.82 364.75,49.14 365.13,48.81 365.51,48.59 365.89,48.43 366.27,48.09 366.65,47.78 367.03,47.96 367.41,47.44 367.79,46.98 368.17,46.38 368.55,45.24 368.93,43.22 369.31,41.02 369.69,38.73 370.07,36.73 370.45,34.98 370.83,34.67 371.21,35.46 371.59,36.42 371.97,37.07 372.35,37.52 372.73,37.27 373.11,36.39 373.49,35.81 373.87,35.86 374.25,37.44 374.63,39.10 375.01,41.67 375.39,43.70 375.77,46.43 376.15,48.26 376.53,49.73 376.91,50.45 377.29,51.19 377.67,51.23 378.05,51.42 378.43,51.49 378.81,51.53 379.19,51.52 379.57,51.52 379.96,51.53 380.34,51.54 380.72,51.49 381.10,51.52 381.48,51.54 381.86,51.54 382.24,51.49 382.62,51.53 383.00,51.54 383.38,51.51 383.76,51.51 384.14,51.49 384.52,51.51 384.90,51.51 385.28,51.46 385.66,51.51 386.04,51.55 386.42,51.54 386.80,51.52 387.18,51.49 387.56,51.52 387.94,51.51 388.32,51.49 388.70,51.53" fill="none" stroke="#6262cc" stroke-width="0.55"/>
<polyline points="352.20,60.26 352.58,60.33 352.96,60.25 353.34,60.31 353.72,60.30 354.10,60.27 354.48,60.32 354.86,60.30 355.24,60.31 355.62,60.34 356.00,60.28 356.38,60.25 356.76,60.28 357.14,60.32 357.52,60.27 357.90,60.27 358.28,60.34 358.66,60.32 359.04,60.29 359.42,60.34 359.80,60.28 360.18,60.32 360.56,60.27 360.94,60.29 361.32,60.33 361.71,60.34 362.09,60.34 362.47,60.29 362.85,60.31 363.23,60.28 363.61,60.26 363.99,60.30 364.37,60.33 364.75,60.33 365.13,60.32 365.51,60.34 365.89,60.25 366.27,60.22 366.65,60.20 367.03,60.08 367.41,59.87 367.79,59.68 368.17,59.40 368.55,58.85 368.93,58.13 369.31,57.58 369.69,56.76 370.07,55.52 370.45,54.27 370.83,53.13 371.21,52.43 371.59,50.66 371.97,49.70 372.35,48.16 372.73,46.53 373.11,45.54 373.49,43.94 373.87,43.40 374.25,43.56 374.63,43.76 375.01,45.42 375.39,46.54 375.77,48.34 376.15,50.28 376.53,52.61 376.91,54.32 377.29,55.98 377.67,57.27 378.05,58.32 378.43,59.10 378.81,59.50 379.19,59.68 379.57,59.99 379.96,60.09 380.34,60.15 380.72,60.25 381.10,60.30 381.48,60.26 381.86,60.27 382.24,60.28 382.62,60.32 383.00,60.30 383.38,60.31 383.76,60.33 384.14,60.29 384.52,60.33 384.90,60.34 385.28,60.26 385.66,60.34 386.04,60.32 386.42,60.26 386.80,60.30 387.18,60.31 387.56,60.34 387.94,60.29 388.32,60.31 388.70,60.34" fill="none" stroke="#74bc70" stroke-width="0.55"/>
<line x1="358.90" y1="60.80" x2="358.90" y2="59.90" stroke="#aaa" stroke-width="0.4"/>
<line x1="366.60" y1="60.80" x2="366.60" y2="59.90" stroke="#aaa" stroke-width="0.4"/>
<line x1="374.30" y1="60.80" x2="374.30" y2="59.90" stroke="#aaa" stroke-width="0.4"/>
<line x1="382.00" y1="60.80" x2="382.00" y2="59.90" stroke="#aaa" stroke-width="0.4"/>
<rect x="351.20" y="68.90" width="38.50" height="38.70" fill="#fff" stroke="#a0a0a0" stroke-width="0.65"/>
<polyline points="352.20,89.03 352.58,89.04 352.96,89.00 353.34,89.02 353.72,88.97 354.10,89.02 354.48,89.03 354.86,89.01 355.24,89.02 355.62,88.97 356.00,89.04 356.38,89.05 356.76,89.05 357.14,89.00 357.52,89.03 357.90,88.98 358.28,89.04 358.66,89.03 359.04,88.96 359.42,88.91 359.80,88.92 360.18,88.88 360.56,88.82 360.94,88.67 361.32,88.36 361.71,88.42 362.09,87.91 362.47,87.90 362.85,87.36 363.23,87.14 363.61,87.09 363.99,86.64 364.37,86.55 364.75,86.73 365.13,86.93 365.51,87.18 365.89,87.37 366.27,87.76 366.65,87.87 367.03,88.30 367.41,88.23 367.79,88.47 368.17,88.71 368.55,88.78 368.93,88.88 369.31,88.86 369.69,88.77 370.07,88.68 370.45,88.20 370.83,87.44 371.21,86.41 371.59,85.09 371.97,83.09 372.35,80.17 372.73,77.78 373.11,75.11 373.49,72.47 373.87,70.99 374.25,70.28 374.63,71.28 375.01,73.03 375.39,75.59 375.77,78.02 376.15,81.35 376.53,83.49 376.91,85.35 377.29,86.92 377.67,87.76 378.05,88.32 378.43,88.72 378.81,88.79 379.19,88.93 379.57,88.96 379.96,89.04 380.34,89.04 380.72,88.98 381.10,89.00 381.48,88.96 381.86,88.99 382.24,89.03 382.62,89.04 383.00,89.00 383.38,88.98 383.76,88.97 384.14,89.01 384.52,89.04 384.90,88.96 385.28,89.03 385.66,88.95 386.04,88.97 386.42,88.97 386.80,89.02 387.18,88.98 387.56,88.99 387.94,89.01 388.32,88.96 388.70,89.02" fill="none" stroke="#e26a6a" stroke-width="0.55"/>
<polyline points="352.20,98.36 352.58,98.40 352.96,98.38 353.34,98.37 353.72,98.40 354.10,98.39 354.48,98.39 354.86,98.39 355.24,98.40 355.62,98.37 356.00,98.37 356.38,98.41 356.76,98.41 357.14,98.40 357.52,98.43 357.90,98.40 358.28,98.41 358.66,98.33 359.04,98.36 359.42,98.32 359.80,98.27 360.18,98.11 360.56,97.96 360.94,98.01 361.32,97.59 361.71,97.66 362.09,97.40 362.47,96.88 362.85,96.71 363.23,96.72 363.61,96.39 363.99,96.24 364.37,96.55 364.75,96.44 365.13,96.72 365.51,96.63 365.89,96.96 366.27,97.30 366.65,97.27 367.03,97.54 367.41,97.87 367.79,98.04 368.17,98.05 368.55,97.58 368.93,97.29 369.31,96.59 369.69,95.19 370.07,93.41 370.45,90.69 370.83,87.74 371.21,84.83 371.59,82.23 371.97,80.93 372.35,80.42 372.73,81.29 373.11,82.93 373.49,85.66 373.87,88.63 374.25,91.78 374.63,94.15 375.01,95.84 375.39,96.67 375.77,97.41 376.15,98.14 376.53,98.21 376.91,98.35 377.29,98.35 377.67,98.39 378.05,98.40 378.43,98.39 378.81,98.41 379.19,98.35 379.57,98.42 379.96,98.43 380.34,98.37 380.72,98.40 381.10,98.42 381.48,98.39 381.86,98.37 382.24,98.37 382.62,98.40 383.00,98.35 383.38,98.44 383.76,98.43 384.14,98.42 384.52,98.44 384.90,98.41 385.28,98.39 385.66,98.41 386.04,98.40 386.42,98.45 386.80,98.43 387.18,98.38 387.56,98.44 387.94,98.42 388.32,98.43 388.70,98.43" fill="none" stroke="#6262cc" stroke-width="0.55"/>
<polyline points="352.20,107.19 352.58,107.24 352.96,107.24 353.34,107.22 353.72,107.23 354.10,107.23 354.48,107.19 354.86,107.22 355.24,107.16 355.62,107.18 356.00,107.20 356.38,107.15 356.76,107.19 357.14,107.21 357.52,107.21 357.90,107.17 358.28,107.24 358.66,107.21 359.04,107.17 359.42,107.20 359.80,107.17 360.18,107.12 360.56,107.03 360.94,106.98 361.32,106.77 361.71,106.52 362.09,106.19 362.47,105.85 362.85,105.00 363.23,104.82 363.61,104.53 363.99,104.12 364.37,104.17 364.75,104.19 365.13,104.59 365.51,105.10 365.89,105.45 366.27,105.95 366.65,106.55 367.03,106.71 367.41,106.90 367.79,107.08 368.17,107.11 368.55,107.18 368.93,107.12 369.31,107.07 369.69,106.72 370.07,106.57 370.45,106.07 370.83,104.88 371.21,103.94 371.59,101.73 371.97,99.62 372.35,96.84 372.73,94.43 373.11,92.21 373.49,90.20 373.87,90.24 374.25,90.31 374.63,91.86 375.01,94.13 375.39,96.57 375.77,99.14 376.15,101.68 376.53,103.52 376.91,104.81 377.29,105.95 377.67,106.40 378.05,106.67 378.43,106.99 378.81,107.07 379.19,107.13 379.57,107.21 379.96,107.18 380.34,107.24 380.72,107.22 381.10,107.15 381.48,107.25 381.86,107.24 382.24,107.16 382.62,107.24 383.00,107.19 383.38,107.20 383.76,107.25 384.14,107.17 384.52,107.20 384.90,107.24 385.28,107.22 385.66,107.20 386.04,107.25 386.42,107.23 386.80,107.21 387.18,107.16 387.56,107.21 387.94,107.20 388.32,107.17 388.70,107.16" fill="none" stroke="#74bc70" stroke-width="0.55"/>
<line x1="358.90" y1="107.60" x2="358.90" y2="106.70" stroke="#aaa" stroke-width="0.4"/>
<line x1="366.60" y1="107.60" x2="366.60" y2="106.70" stroke="#aaa" stroke-width="0.4"/>
<line x1="374.30" y1="107.60" x2="374.30" y2="106.70" stroke="#aaa" stroke-width="0.4"/>
<line x1="382.00" y1="107.60" x2="382.00" y2="106.70" stroke="#aaa" stroke-width="0.4"/>
<line x1="353.00" y1="112.30" x2="383.20" y2="112.30" stroke="#111" stroke-width="1.0"/>
<path d="M386.10,112.3 L382.10,110.3 L382.10,114.3 Z" fill="#111" stroke="none" stroke-width="0.7"/>
<text x="353.50" y="122.70" font-size="8.3" text-anchor="start" font-weight="normal" font-style="normal" fill="#111" stroke="#111" stroke-width="0.15">NKG2D</text>
<rect x="392.50" y="22.20" width="38.80" height="38.60" fill="#fff" stroke="#a0a0a0" stroke-width="0.65"/>
<polyline points="393.50,42.40 393.88,42.36 394.26,42.39 394.64,42.42 395.02,42.40 395.40,42.38 395.78,42.41 396.16,42.39 396.54,42.43 396.91,42.40 397.29,42.43 397.67,42.40 398.05,42.31 398.43,42.10 398.81,41.69 399.19,41.42 399.57,40.45 399.95,38.95 400.33,36.78 400.71,34.13 401.09,31.42 401.47,28.38 401.85,25.90 402.23,24.36 402.61,24.12 402.98,24.67 403.36,26.79 403.74,30.04 404.12,32.90 404.50,35.55 404.88,37.28 405.26,38.90 405.64,40.03 406.02,40.67 406.40,41.01 406.78,40.88 407.16,41.02 407.54,40.75 407.92,40.66 408.30,40.81 408.68,40.69 409.05,40.67 409.43,40.55 409.81,40.59 410.19,40.51 410.57,40.60 410.95,40.80 411.33,40.84 411.71,40.47 412.09,40.31 412.47,40.26 412.85,39.63 413.23,38.93 413.61,37.68 413.99,36.70 414.37,35.55 414.75,35.01 415.12,34.24 415.50,34.37 415.88,35.00 416.26,35.46 416.64,36.71 417.02,38.04 417.40,39.30 417.78,40.09 418.16,40.87 418.54,41.35 418.92,42.01 419.30,42.07 419.68,42.21 420.06,42.34 420.44,42.37 420.82,42.41 421.19,42.37 421.57,42.43 421.95,42.36 422.33,42.37 422.71,42.42 423.09,42.36 423.47,42.38 423.85,42.42 424.23,42.42 424.61,42.38 424.99,42.36 425.37,42.39 425.75,42.42 426.13,42.39 426.51,42.36 426.89,42.42 427.26,42.41 427.64,42.44 428.02,42.44 428.40,42.44 428.78,42.39 429.16,42.43 429.54,42.38 429.92,42.38 430.30,42.39" fill="none" stroke="#e26a6a" stroke-width="0.55"/>
<polyline points="393.50,51.54 393.88,51.54 394.26,51.47 394.64,51.49 395.02,51.49 395.40,51.48 395.78,51.48 396.16,51.48 396.54,51.45 396.91,51.46 397.29,51.44 397.67,51.34 398.05,51.24 398.43,51.02 398.81,50.59 399.19,50.42 399.57,49.99 399.95,49.18 400.33,48.47 400.71,48.14 401.09,47.71 401.47,47.44 401.85,47.55 402.23,47.51 402.61,47.87 402.98,47.91 403.36,48.55 403.74,49.04 404.12,49.03 404.50,49.22 404.88,49.56 405.26,49.59 405.64,49.12 406.02,49.18 406.40,48.74 406.78,48.76 407.16,48.45 407.54,47.98 407.92,47.68 408.30,47.65 408.68,47.23 409.05,47.07 409.43,46.63 409.81,46.39 410.19,46.55 410.57,46.25 410.95,46.00 411.33,45.75 411.71,45.36 412.09,44.50 412.47,43.32 412.85,41.27 413.23,39.49 413.61,37.34 413.99,35.82 414.37,34.92 414.75,35.10 415.12,36.36 415.50,38.49 415.88,40.87 416.26,43.48 416.64,46.01 417.02,48.02 417.40,49.28 417.78,50.24 418.16,50.74 418.54,51.27 418.92,51.42 419.30,51.43 419.68,51.44 420.06,51.46 420.44,51.49 420.82,51.48 421.19,51.55 421.57,51.46 421.95,51.48 422.33,51.46 422.71,51.51 423.09,51.53 423.47,51.47 423.85,51.46 424.23,51.50 424.61,51.51 424.99,51.54 425.37,51.45 425.75,51.46 426.13,51.47 426.51,51.47 426.89,51.47 427.26,51.52 427.64,51.51 428.02,51.47 428.40,51.47 428.78,51.48 429.16,51.47 429.54,51.53 429.92,51.48 430.30,51.50" fill="none" stroke="#6262cc" stroke-width="0.55"/>
<polyline points="393.50,60.33 393.88,60.30 394.26,60.28 394.64,60.34 395.02,60.34 395.40,60.28 395.78,60.30 396.16,60.34 396.54,60.27 396.91,60.23 397.29,60.18 397.67,60.24 398.05,60.17 398.43,60.03 398.81,59.94 399.19,59.80 399.57,59.54 399.95,59.59 400.33,59.25 400.71,58.86 401.09,58.55 401.47,58.54 401.85,58.35 402.23,58.44 402.61,58.39 402.98,58.40 403.36,58.34 403.74,58.51 404.12,58.79 404.50,59.00 404.88,59.45 405.26,59.53 405.64,59.76 406.02,60.04 406.40,59.97 406.78,60.10 407.16,60.13 407.54,60.25 407.92,60.19 408.30,60.30 408.68,60.31 409.05,60.31 409.43,60.22 409.81,60.20 410.19,60.18 410.57,59.97 410.95,59.77 411.33,59.38 411.71,58.96 412.09,57.93 412.47,56.85 412.85,55.01 413.23,53.39 413.61,51.07 413.99,49.25 414.37,46.72 414.75,45.68 415.12,44.30 415.50,44.36 415.88,44.95 416.26,45.99 416.64,48.27 417.02,50.03 417.40,52.19 417.78,54.07 418.16,55.92 418.54,57.38 418.92,58.51 419.30,59.09 419.68,59.69 420.06,59.80 420.44,60.09 420.82,60.20 421.19,60.30 421.57,60.31 421.95,60.31 422.33,60.25 422.71,60.29 423.09,60.32 423.47,60.27 423.85,60.31 424.23,60.30 424.61,60.25 424.99,60.35 425.37,60.33 425.75,60.27 426.13,60.31 426.51,60.28 426.89,60.29 427.26,60.30 427.64,60.28 428.02,60.28 428.40,60.29 428.78,60.32 429.16,60.28 429.54,60.27 429.92,60.32 430.30,60.28" fill="none" stroke="#74bc70" stroke-width="0.55"/>
<line x1="400.26" y1="60.80" x2="400.26" y2="59.90" stroke="#aaa" stroke-width="0.4"/>
<line x1="408.02" y1="60.80" x2="408.02" y2="59.90" stroke="#aaa" stroke-width="0.4"/>
<line x1="415.78" y1="60.80" x2="415.78" y2="59.90" stroke="#aaa" stroke-width="0.4"/>
<line x1="423.54" y1="60.80" x2="423.54" y2="59.90" stroke="#aaa" stroke-width="0.4"/>
<rect x="392.50" y="68.90" width="38.80" height="38.70" fill="#fff" stroke="#a0a0a0" stroke-width="0.65"/>
<polyline points="393.50,89.04 393.88,89.01 394.26,89.02 394.64,88.98 395.02,89.03 395.40,88.96 395.78,88.96 396.16,88.95 396.54,89.00 396.91,88.99 397.29,88.89 397.67,88.84 398.05,88.75 398.43,88.51 398.81,87.97 399.19,87.51 399.57,86.81 399.95,85.99 400.33,85.27 400.71,84.28 401.09,84.06 401.47,83.41 401.85,83.41 402.23,83.76 402.61,84.39 402.98,85.16 403.36,85.74 403.74,86.45 404.12,87.08 404.50,87.34 404.88,87.73 405.26,87.94 405.64,88.03 406.02,87.88 406.40,87.73 406.78,87.61 407.16,87.31 407.54,87.40 407.92,87.40 408.30,87.55 408.68,87.36 409.05,87.46 409.43,87.43 409.81,87.33 410.19,86.96 410.57,86.25 410.95,85.13 411.33,84.22 411.71,82.79 412.09,80.82 412.47,78.75 412.85,76.83 413.23,74.66 413.61,73.40 413.99,72.37 414.37,71.33 414.75,71.41 415.12,72.05 415.50,72.71 415.88,74.83 416.26,76.49 416.64,78.24 417.02,80.20 417.40,82.18 417.78,84.01 418.16,85.44 418.54,86.37 418.92,87.45 419.30,87.82 419.68,88.28 420.06,88.45 420.44,88.81 420.82,88.81 421.19,88.97 421.57,88.96 421.95,88.99 422.33,89.00 422.71,88.97 423.09,89.04 423.47,89.05 423.85,89.03 424.23,89.01 424.61,88.96 424.99,89.03 425.37,88.98 425.75,89.04 426.13,88.97 426.51,89.01 426.89,89.03 427.26,88.97 427.64,89.00 428.02,88.96 428.40,88.95 428.78,88.97 429.16,89.05 429.54,89.04 429.92,89.02 430.30,88.98" fill="none" stroke="#e26a6a" stroke-width="0.55"/>
<polyline points="393.50,98.42 393.88,98.42 394.26,98.39 394.64,98.41 395.02,98.43 395.40,98.35 395.78,98.37 396.16,98.39 396.54,98.35 396.91,98.37 397.29,98.36 397.67,98.26 398.05,98.22 398.43,97.99 398.81,97.86 399.19,97.45 399.57,97.14 399.95,96.39 400.33,96.10 400.71,95.34 401.09,95.29 401.47,94.87 401.85,94.77 402.23,94.91 402.61,95.36 402.98,95.83 403.36,96.33 403.74,96.74 404.12,96.94 404.50,97.31 404.88,97.30 405.26,97.25 405.64,96.95 406.02,96.80 406.40,96.68 406.78,96.68 407.16,96.43 407.54,96.40 407.92,96.40 408.30,96.68 408.68,96.57 409.05,96.59 409.43,96.95 409.81,97.03 410.19,96.81 410.57,96.40 410.95,95.82 411.33,94.62 411.71,93.41 412.09,91.40 412.47,89.40 412.85,87.41 413.23,85.28 413.61,83.28 413.99,81.55 414.37,81.19 414.75,80.97 415.12,81.43 415.50,82.83 415.88,84.76 416.26,86.81 416.64,88.94 417.02,91.55 417.40,93.43 417.78,94.81 418.16,96.08 418.54,96.77 418.92,97.53 419.30,97.72 419.68,98.15 420.06,98.23 420.44,98.35 420.82,98.31 421.19,98.41 421.57,98.35 421.95,98.40 422.33,98.44 422.71,98.35 423.09,98.37 423.47,98.38 423.85,98.38 424.23,98.36 424.61,98.44 424.99,98.43 425.37,98.39 425.75,98.39 426.13,98.41 426.51,98.35 426.89,98.35 427.26,98.44 427.64,98.38 428.02,98.40 428.40,98.44 428.78,98.45 429.16,98.40 429.54,98.37 429.92,98.38 430.30,98.44" fill="none" stroke="#6262cc" stroke-width="0.55"/>
<polyline points="393.50,107.24 393.88,107.17 394.26,107.23 394.64,107.19 395.02,107.20 395.40,107.16 395.78,107.23 396.16,107.24 396.54,107.13 396.91,107.12 397.29,106.97 397.67,106.94 398.05,106.33 398.43,105.84 398.81,105.38 399.19,104.30 399.57,103.54 399.95,102.48 400.33,101.52 400.71,100.63 401.09,100.80 401.47,101.26 401.85,101.70 402.23,102.46 402.61,103.55 402.98,104.50 403.36,105.37 403.74,105.61 404.12,105.82 404.50,105.84 404.88,105.85 405.26,105.65 405.64,105.17 406.02,104.98 406.40,104.78 406.78,104.42 407.16,104.10 407.54,104.08 407.92,104.40 408.30,104.39 408.68,104.36 409.05,104.68 409.43,104.54 409.81,104.91 410.19,104.46 410.57,104.05 410.95,103.32 411.33,102.02 411.71,100.94 412.09,99.12 412.47,97.27 412.85,95.73 413.23,93.43 413.61,91.99 413.99,91.15 414.37,90.12 414.75,90.08 415.12,90.81 415.50,91.62 415.88,93.64 416.26,95.49 416.64,96.81 417.02,99.01 417.40,100.96 417.78,102.34 418.16,103.92 418.54,104.76 418.92,105.42 419.30,106.14 419.68,106.57 420.06,106.74 420.44,106.98 420.82,107.10 421.19,107.13 421.57,107.16 421.95,107.22 422.33,107.21 422.71,107.20 423.09,107.24 423.47,107.17 423.85,107.23 424.23,107.17 424.61,107.21 424.99,107.17 425.37,107.19 425.75,107.23 426.13,107.23 426.51,107.23 426.89,107.17 427.26,107.20 427.64,107.17 428.02,107.21 428.40,107.20 428.78,107.15 429.16,107.21 429.54,107.22 429.92,107.21 430.30,107.24" fill="none" stroke="#74bc70" stroke-width="0.55"/>
<line x1="400.26" y1="107.60" x2="400.26" y2="106.70" stroke="#aaa" stroke-width="0.4"/>
<line x1="408.02" y1="107.60" x2="408.02" y2="106.70" stroke="#aaa" stroke-width="0.4"/>
<line x1="415.78" y1="107.60" x2="415.78" y2="106.70" stroke="#aaa" stroke-width="0.4"/>
<line x1="423.54" y1="107.60" x2="423.54" y2="106.70" stroke="#aaa" stroke-width="0.4"/>
<line x1="394.30" y1="112.30" x2="424.80" y2="112.30" stroke="#111" stroke-width="1.0"/>
<path d="M427.70,112.3 L423.70,110.3 L423.70,114.3 Z" fill="#111" stroke="none" stroke-width="0.7"/>
<text x="394.80" y="122.70" font-size="8.3" text-anchor="start" font-weight="normal" font-style="normal" fill="#111" stroke="#111" stroke-width="0.15">NKG2A</text>
<rect x="434.20" y="22.20" width="38.40" height="38.60" fill="#fff" stroke="#a0a0a0" stroke-width="0.65"/>
<polyline points="435.20,42.37 435.58,42.37 435.96,42.35 436.34,42.40 436.72,42.39 437.10,42.39 437.47,42.38 437.85,42.43 438.23,42.36 438.61,42.44 438.99,42.41 439.37,42.40 439.75,42.42 440.13,42.34 440.51,42.29 440.89,42.24 441.27,42.07 441.65,41.83 442.02,41.54 442.40,40.89 442.78,39.89 443.16,38.83 443.54,37.07 443.92,35.74 444.30,33.54 444.68,31.88 445.06,30.46 445.44,30.00 445.82,29.96 446.20,30.49 446.57,31.18 446.95,33.00 447.33,34.78 447.71,36.49 448.09,38.48 448.47,39.36 448.85,40.57 449.23,41.38 449.61,41.93 449.99,41.94 450.37,42.21 450.75,42.34 451.12,42.31 451.50,42.35 451.88,42.43 452.26,42.36 452.64,42.38 453.02,42.36 453.40,42.34 453.78,42.20 454.16,41.88 454.54,41.72 454.92,40.73 455.30,39.18 455.68,36.59 456.05,33.54 456.43,30.31 456.81,26.94 457.19,24.96 457.57,24.76 457.95,25.52 458.33,28.11 458.71,31.87 459.09,34.96 459.47,37.47 459.85,39.69 460.23,41.09 460.60,41.61 460.98,42.11 461.36,42.32 461.74,42.40 462.12,42.40 462.50,42.44 462.88,42.40 463.26,42.39 463.64,42.43 464.02,42.39 464.40,42.43 464.78,42.37 465.15,42.38 465.53,42.37 465.91,42.40 466.29,42.37 466.67,42.37 467.05,42.37 467.43,42.40 467.81,42.38 468.19,42.39 468.57,42.45 468.95,42.42 469.33,42.44 469.70,42.37 470.08,42.39 470.46,42.36 470.84,42.42 471.22,42.39 471.60,42.38" fill="none" stroke="#e26a6a" stroke-width="0.55"/>
<polyline points="435.20,51.45 435.58,51.47 435.96,51.48 436.34,51.49 436.72,51.54 437.10,51.52 437.47,51.48 437.85,51.48 438.23,51.46 438.61,51.54 438.99,51.47 439.37,51.51 439.75,51.49 440.13,51.48 440.51,51.33 440.89,51.30 441.27,51.21 441.65,50.95 442.02,51.04 442.40,50.61 442.78,50.50 443.16,50.08 443.54,49.53 443.92,49.30 444.30,48.87 444.68,48.47 445.06,48.28 445.44,48.34 445.82,48.03 446.20,48.21 446.57,48.40 446.95,48.66 447.33,48.70 447.71,49.16 448.09,49.13 448.47,49.42 448.85,49.39 449.23,49.07 449.61,48.90 449.99,48.67 450.37,48.56 450.75,48.11 451.12,47.81 451.50,47.82 451.88,47.36 452.26,47.32 452.64,47.34 453.02,47.26 453.40,47.05 453.78,46.65 454.16,46.13 454.54,44.72 454.92,42.90 455.30,40.65 455.68,37.79 456.05,36.11 456.43,35.31 456.81,35.06 457.19,36.90 457.57,39.30 457.95,42.32 458.33,45.02 458.71,47.02 459.09,48.96 459.47,49.91 459.85,50.76 460.23,51.13 460.60,51.31 460.98,51.43 461.36,51.46 461.74,51.49 462.12,51.48 462.50,51.46 462.88,51.49 463.26,51.50 463.64,51.47 464.02,51.52 464.40,51.47 464.78,51.46 465.15,51.48 465.53,51.49 465.91,51.47 466.29,51.51 466.67,51.52 467.05,51.51 467.43,51.52 467.81,51.45 468.19,51.49 468.57,51.49 468.95,51.46 469.33,51.49 469.70,51.46 470.08,51.50 470.46,51.51 470.84,51.50 471.22,51.48 471.60,51.48" fill="none" stroke="#6262cc" stroke-width="0.55"/>
<polyline points="435.20,60.25 435.58,60.28 435.96,60.34 436.34,60.31 436.72,60.28 437.10,60.32 437.47,60.27 437.85,60.30 438.23,60.31 438.61,60.35 438.99,60.29 439.37,60.31 439.75,60.34 440.13,60.33 440.51,60.31 440.89,60.31 441.27,60.29 441.65,60.29 442.02,60.28 442.40,60.33 442.78,60.34 443.16,60.29 443.54,60.34 443.92,60.25 444.30,60.26 444.68,60.30 445.06,60.28 445.44,60.29 445.82,60.35 446.20,60.26 446.57,60.27 446.95,60.27 447.33,60.32 447.71,60.27 448.09,60.25 448.47,60.30 448.85,60.28 449.23,60.26 449.61,60.27 449.99,60.26 450.37,60.19 450.75,60.10 451.12,59.95 451.50,59.82 451.88,59.56 452.26,58.93 452.64,58.49 453.02,58.26 453.40,57.60 453.78,57.45 454.16,57.20 454.54,56.94 454.92,56.61 455.30,55.55 455.68,53.33 456.05,50.76 456.43,47.12 456.81,43.65 457.19,41.04 457.57,40.43 457.95,42.42 458.33,45.58 458.71,49.43 459.09,53.26 459.47,56.26 459.85,58.16 460.23,59.40 460.60,59.82 460.98,60.12 461.36,60.21 461.74,60.25 462.12,60.32 462.50,60.26 462.88,60.30 463.26,60.33 463.64,60.30 464.02,60.27 464.40,60.34 464.78,60.34 465.15,60.26 465.53,60.28 465.91,60.30 466.29,60.33 466.67,60.29 467.05,60.32 467.43,60.28 467.81,60.32 468.19,60.28 468.57,60.28 468.95,60.33 469.33,60.33 469.70,60.33 470.08,60.31 470.46,60.29 470.84,60.32 471.22,60.31 471.60,60.33" fill="none" stroke="#74bc70" stroke-width="0.55"/>
<line x1="441.88" y1="60.80" x2="441.88" y2="59.90" stroke="#aaa" stroke-width="0.4"/>
<line x1="449.56" y1="60.80" x2="449.56" y2="59.90" stroke="#aaa" stroke-width="0.4"/>
<line x1="457.24" y1="60.80" x2="457.24" y2="59.90" stroke="#aaa" stroke-width="0.4"/>
<line x1="464.92" y1="60.80" x2="464.92" y2="59.90" stroke="#aaa" stroke-width="0.4"/>
<rect x="434.20" y="68.90" width="38.40" height="38.70" fill="#fff" stroke="#a0a0a0" stroke-width="0.65"/>
<polyline points="435.20,89.03 435.58,88.96 435.96,88.99 436.34,89.02 436.72,88.97 437.10,88.97 437.47,88.95 437.85,89.01 438.23,89.04 438.61,89.04 438.99,88.95 439.37,89.00 439.75,88.95 440.13,88.95 440.51,88.89 440.89,88.90 441.27,88.84 441.65,88.55 442.02,88.64 442.40,88.30 442.78,88.11 443.16,88.02 443.54,88.01 443.92,87.95 444.30,87.47 444.68,87.44 445.06,87.25 445.44,87.42 445.82,87.41 446.20,87.40 446.57,87.42 446.95,87.66 447.33,87.68 447.71,87.43 448.09,87.39 448.47,87.34 448.85,87.20 449.23,87.03 449.61,86.48 449.99,86.30 450.37,85.91 450.75,85.73 451.12,85.16 451.50,84.96 451.88,84.77 452.26,85.06 452.64,84.60 453.02,84.51 453.40,83.90 453.78,83.24 454.16,81.81 454.54,80.31 454.92,77.72 455.30,75.44 455.68,72.68 456.05,70.71 456.43,69.96 456.81,70.18 457.19,71.63 457.57,73.97 457.95,77.00 458.33,80.55 458.71,82.91 459.09,84.95 459.47,86.57 459.85,87.72 460.23,88.51 460.60,88.59 460.98,88.90 461.36,88.94 461.74,88.97 462.12,89.02 462.50,88.99 462.88,88.95 463.26,89.00 463.64,89.02 464.02,89.01 464.40,88.98 464.78,89.04 465.15,89.04 465.53,89.05 465.91,88.99 466.29,89.03 466.67,89.02 467.05,88.97 467.43,88.95 467.81,88.97 468.19,88.96 468.57,88.96 468.95,88.99 469.33,89.03 469.70,88.98 470.08,89.00 470.46,88.95 470.84,88.97 471.22,89.05 471.60,88.95" fill="none" stroke="#e26a6a" stroke-width="0.55"/>
<polyline points="435.20,98.40 435.58,98.43 435.96,98.42 436.34,98.41 436.72,98.37 437.10,98.40 437.47,98.39 437.85,98.37 438.23,98.37 438.61,98.23 438.99,98.29 439.37,98.16 439.75,98.13 440.13,97.93 440.51,98.04 440.89,97.61 441.27,97.64 441.65,97.34 442.02,97.20 442.40,96.97 442.78,96.84 443.16,96.65 443.54,96.18 443.92,96.01 444.30,95.58 444.68,95.22 445.06,95.17 445.44,94.54 445.82,94.04 446.20,93.74 446.57,93.50 446.95,92.74 447.33,92.51 447.71,91.87 448.09,91.40 448.47,90.58 448.85,90.05 449.23,89.65 449.61,89.44 449.99,89.26 450.37,88.87 450.75,89.10 451.12,88.96 451.50,88.72 451.88,88.41 452.26,87.88 452.64,86.16 453.02,85.03 453.40,82.90 453.78,81.67 454.16,80.19 454.54,80.76 454.92,81.27 455.30,83.53 455.68,85.54 456.05,88.48 456.43,91.36 456.81,93.38 457.19,95.22 457.57,96.66 457.95,97.56 458.33,97.82 458.71,98.10 459.09,98.26 459.47,98.40 459.85,98.34 460.23,98.40 460.60,98.38 460.98,98.41 461.36,98.37 461.74,98.41 462.12,98.44 462.50,98.44 462.88,98.41 463.26,98.40 463.64,98.41 464.02,98.36 464.40,98.43 464.78,98.42 465.15,98.40 465.53,98.42 465.91,98.39 466.29,98.39 466.67,98.37 467.05,98.41 467.43,98.41 467.81,98.40 468.19,98.35 468.57,98.41 468.95,98.39 469.33,98.41 469.70,98.41 470.08,98.44 470.46,98.37 470.84,98.40 471.22,98.45 471.60,98.42" fill="none" stroke="#6262cc" stroke-width="0.55"/>
<polyline points="435.20,107.18 435.58,107.22 435.96,107.25 436.34,107.19 436.72,107.24 437.10,107.16 437.47,107.25 437.85,107.20 438.23,107.17 438.61,107.23 438.99,107.21 439.37,107.24 439.75,107.23 440.13,107.23 440.51,107.20 440.89,107.25 441.27,107.16 441.65,107.24 442.02,107.22 442.40,107.18 442.78,107.23 443.16,107.20 443.54,107.20 443.92,107.24 444.30,107.17 444.68,107.18 445.06,107.21 445.44,107.16 445.82,107.21 446.20,107.23 446.57,107.20 446.95,107.17 447.33,107.23 447.71,107.24 448.09,107.23 448.47,107.20 448.85,107.24 449.23,107.23 449.61,107.17 449.99,107.19 450.37,107.16 450.75,107.15 451.12,107.18 451.50,107.23 451.88,107.21 452.26,107.08 452.64,106.95 453.02,106.65 453.40,106.21 453.78,105.03 454.16,103.40 454.54,100.45 454.92,97.91 455.30,94.20 455.68,91.84 456.05,90.60 456.43,90.69 456.81,92.06 457.19,95.23 457.57,98.31 457.95,101.07 458.33,103.60 458.71,105.21 459.09,106.31 459.47,106.71 459.85,107.04 460.23,107.16 460.60,107.15 460.98,107.16 461.36,107.22 461.74,107.20 462.12,107.16 462.50,107.16 462.88,107.24 463.26,107.21 463.64,107.19 464.02,107.17 464.40,107.25 464.78,107.22 465.15,107.22 465.53,107.19 465.91,107.18 466.29,107.19 466.67,107.16 467.05,107.21 467.43,107.19 467.81,107.23 468.19,107.19 468.57,107.20 468.95,107.20 469.33,107.24 469.70,107.18 470.08,107.22 470.46,107.17 470.84,107.21 471.22,107.18 471.60,107.24" fill="none" stroke="#74bc70" stroke-width="0.55"/>
<line x1="441.88" y1="107.60" x2="441.88" y2="106.70" stroke="#aaa" stroke-width="0.4"/>
<line x1="449.56" y1="107.60" x2="449.56" y2="106.70" stroke="#aaa" stroke-width="0.4"/>
<line x1="457.24" y1="107.60" x2="457.24" y2="106.70" stroke="#aaa" stroke-width="0.4"/>
<line x1="464.92" y1="107.60" x2="464.92" y2="106.70" stroke="#aaa" stroke-width="0.4"/>
<line x1="436.00" y1="112.30" x2="466.10" y2="112.30" stroke="#111" stroke-width="1.0"/>
<path d="M469.00,112.3 L465.00,110.3 L465.00,114.3 Z" fill="#111" stroke="none" stroke-width="0.7"/>
<text x="436.50" y="122.70" font-size="8.3" text-anchor="start" font-weight="normal" font-style="normal" fill="#111" stroke="#111" stroke-width="0.15">NKp80</text>
<rect x="476.20" y="22.20" width="38.40" height="38.60" fill="#fff" stroke="#a0a0a0" stroke-width="0.65"/>
<polyline points="477.20,42.38 477.58,42.44 477.96,42.42 478.34,42.39 478.72,42.44 479.10,42.38 479.47,42.41 479.85,42.38 480.23,42.35 480.61,42.27 480.99,42.26 481.37,42.16 481.75,42.04 482.13,42.05 482.51,41.60 482.89,41.46 483.27,41.10 483.65,40.53 484.02,40.15 484.40,39.56 484.78,39.46 485.16,38.76 485.54,38.50 485.92,38.19 486.30,38.19 486.68,37.93 487.06,37.35 487.44,36.55 487.82,35.06 488.20,33.75 488.57,30.98 488.95,28.64 489.33,26.27 489.71,24.77 490.09,23.98 490.47,24.21 490.85,26.26 491.23,28.81 491.61,31.14 491.99,34.45 492.37,36.91 492.75,38.86 493.12,40.33 493.50,41.16 493.88,41.77 494.26,41.89 494.64,41.88 495.02,41.44 495.40,40.64 495.78,39.12 496.16,37.60 496.54,35.37 496.92,33.06 497.30,31.04 497.68,28.68 498.05,28.05 498.43,28.13 498.81,29.42 499.19,31.01 499.57,33.78 499.95,35.65 500.33,37.80 500.71,39.35 501.09,40.64 501.47,41.54 501.85,41.78 502.23,42.13 502.60,42.31 502.98,42.37 503.36,42.41 503.74,42.37 504.12,42.43 504.50,42.42 504.88,42.43 505.26,42.36 505.64,42.40 506.02,42.35 506.40,42.44 506.78,42.44 507.15,42.44 507.53,42.35 507.91,42.39 508.29,42.40 508.67,42.40 509.05,42.36 509.43,42.43 509.81,42.38 510.19,42.40 510.57,42.36 510.95,42.41 511.33,42.36 511.70,42.36 512.08,42.40 512.46,42.38 512.84,42.43 513.22,42.37 513.60,42.39" fill="none" stroke="#e26a6a" stroke-width="0.55"/>
<polyline points="477.20,51.36 477.58,51.35 477.96,51.33 478.34,51.29 478.72,51.20 479.10,51.23 479.47,50.88 479.85,51.01 480.23,50.61 480.61,50.74 480.99,50.38 481.37,50.12 481.75,49.97 482.13,49.83 482.51,49.63 482.89,49.14 483.27,48.70 483.65,48.49 484.02,48.54 484.40,48.24 484.78,47.96 485.16,47.41 485.54,47.30 485.92,46.73 486.30,46.42 486.68,46.14 487.06,46.10 487.44,45.50 487.82,45.20 488.20,44.34 488.57,44.19 488.95,43.69 489.33,43.58 489.71,43.37 490.09,43.82 490.47,43.53 490.85,43.70 491.23,43.83 491.61,43.86 491.99,43.56 492.37,42.69 492.75,41.65 493.12,40.59 493.50,38.75 493.88,37.19 494.26,36.28 494.64,35.23 495.02,35.30 495.40,36.10 495.78,37.57 496.16,39.45 496.54,41.72 496.92,43.96 497.30,45.78 497.68,47.87 498.05,48.83 498.43,49.98 498.81,50.62 499.19,50.97 499.57,51.21 499.95,51.32 500.33,51.43 500.71,51.45 501.09,51.49 501.47,51.47 501.85,51.52 502.23,51.50 502.60,51.45 502.98,51.49 503.36,51.55 503.74,51.45 504.12,51.51 504.50,51.55 504.88,51.49 505.26,51.51 505.64,51.49 506.02,51.48 506.40,51.51 506.78,51.51 507.15,51.48 507.53,51.50 507.91,51.50 508.29,51.53 508.67,51.46 509.05,51.46 509.43,51.48 509.81,51.48 510.19,51.53 510.57,51.49 510.95,51.54 511.33,51.49 511.70,51.48 512.08,51.52 512.46,51.46 512.84,51.55 513.22,51.53 513.60,51.48" fill="none" stroke="#6262cc" stroke-width="0.55"/>
<polyline points="477.20,60.28 477.58,60.33 477.96,60.33 478.34,60.31 478.72,60.26 479.10,60.33 479.47,60.25 479.85,60.31 480.23,60.30 480.61,60.34 480.99,60.31 481.37,60.24 481.75,60.34 482.13,60.31 482.51,60.28 482.89,60.20 483.27,60.26 483.65,60.19 484.02,60.18 484.40,60.15 484.78,60.07 485.16,59.77 485.54,59.87 485.92,59.58 486.30,59.50 486.68,59.14 487.06,58.91 487.44,58.63 487.82,58.20 488.20,57.98 488.57,57.86 488.95,57.26 489.33,56.99 489.71,57.03 490.09,56.66 490.47,56.29 490.85,55.73 491.23,55.36 491.61,55.05 491.99,54.96 492.37,54.32 492.75,54.12 493.12,53.37 493.50,53.19 493.88,53.02 494.26,52.94 494.64,52.13 495.02,51.92 495.40,50.64 495.78,48.92 496.16,47.49 496.54,45.83 496.92,44.89 497.30,44.79 497.68,45.24 498.05,47.14 498.43,49.37 498.81,52.28 499.19,54.40 499.57,56.78 499.95,58.02 500.33,59.17 500.71,59.62 501.09,60.01 501.47,60.15 501.85,60.24 502.23,60.29 502.60,60.30 502.98,60.29 503.36,60.31 503.74,60.33 504.12,60.29 504.50,60.31 504.88,60.30 505.26,60.35 505.64,60.28 506.02,60.32 506.40,60.27 506.78,60.28 507.15,60.32 507.53,60.31 507.91,60.28 508.29,60.26 508.67,60.33 509.05,60.29 509.43,60.32 509.81,60.29 510.19,60.31 510.57,60.31 510.95,60.35 511.33,60.34 511.70,60.30 512.08,60.30 512.46,60.27 512.84,60.33 513.22,60.26 513.60,60.28" fill="none" stroke="#74bc70" stroke-width="0.55"/>
<line x1="483.88" y1="60.80" x2="483.88" y2="59.90" stroke="#aaa" stroke-width="0.4"/>
<line x1="491.56" y1="60.80" x2="491.56" y2="59.90" stroke="#aaa" stroke-width="0.4"/>
<line x1="499.24" y1="60.80" x2="499.24" y2="59.90" stroke="#aaa" stroke-width="0.4"/>
<line x1="506.92" y1="60.80" x2="506.92" y2="59.90" stroke="#aaa" stroke-width="0.4"/>
<rect x="476.20" y="68.90" width="38.40" height="38.70" fill="#fff" stroke="#a0a0a0" stroke-width="0.65"/>
<polyline points="477.20,88.58 477.58,88.15 477.96,88.20 478.34,87.95 478.72,87.71 479.10,87.36 479.47,87.01 479.85,87.04 480.23,86.66 480.61,86.38 480.99,85.76 481.37,85.80 481.75,85.29 482.13,85.07 482.51,85.06 482.89,84.96 483.27,84.62 483.65,84.87 484.02,84.70 484.40,84.74 484.78,84.58 485.16,84.19 485.54,83.60 485.92,83.32 486.30,82.40 486.68,81.16 487.06,80.31 487.44,78.90 487.82,77.19 488.20,75.74 488.57,74.21 488.95,73.35 489.33,72.10 489.71,71.30 490.09,70.62 490.47,70.03 490.85,69.91 491.23,69.41 491.61,69.11 491.99,68.85 492.37,68.88 492.75,69.18 493.12,68.89 493.50,70.02 493.88,70.92 494.26,71.93 494.64,73.32 495.02,75.03 495.40,76.52 495.78,78.19 496.16,79.85 496.54,81.14 496.92,82.09 497.30,83.11 497.68,84.58 498.05,85.19 498.43,86.17 498.81,86.60 499.19,87.27 499.57,87.70 499.95,88.20 500.33,88.55 500.71,88.60 501.09,88.75 501.47,88.83 501.85,88.88 502.23,89.00 502.60,88.93 502.98,89.03 503.36,89.01 503.74,88.95 504.12,89.04 504.50,88.96 504.88,89.01 505.26,88.96 505.64,89.05 506.02,88.98 506.40,89.04 506.78,88.96 507.15,89.02 507.53,88.96 507.91,88.95 508.29,89.01 508.67,89.05 509.05,89.02 509.43,89.04 509.81,89.03 510.19,89.00 510.57,88.96 510.95,89.00 511.33,88.97 511.70,89.00 512.08,88.99 512.46,89.00 512.84,88.97 513.22,89.02 513.60,88.99" fill="none" stroke="#e26a6a" stroke-width="0.55"/>
<polyline points="477.20,98.40 477.58,98.36 477.96,98.40 478.34,98.41 478.72,98.45 479.10,98.41 479.47,98.36 479.85,98.38 480.23,98.38 480.61,98.41 480.99,98.43 481.37,98.41 481.75,98.37 482.13,98.30 482.51,98.17 482.89,98.07 483.27,97.44 483.65,97.16 484.02,96.59 484.40,95.84 484.78,94.86 485.16,93.80 485.54,92.87 485.92,91.36 486.30,90.73 486.68,90.36 487.06,89.48 487.44,89.52 487.82,90.22 488.20,90.71 488.57,90.69 488.95,91.23 489.33,92.14 489.71,92.42 490.09,92.58 490.47,92.77 490.85,92.94 491.23,92.98 491.61,92.47 491.99,92.30 492.37,92.29 492.75,91.69 493.12,90.54 493.50,88.82 493.88,86.94 494.26,84.90 494.64,82.65 495.02,81.50 495.40,80.04 495.78,80.03 496.16,80.65 496.54,82.03 496.92,84.44 497.30,86.81 497.68,89.26 498.05,92.01 498.43,93.64 498.81,95.22 499.19,96.42 499.57,97.28 499.95,97.88 500.33,98.02 500.71,98.21 501.09,98.34 501.47,98.34 501.85,98.39 502.23,98.37 502.60,98.44 502.98,98.37 503.36,98.37 503.74,98.38 504.12,98.38 504.50,98.42 504.88,98.42 505.26,98.43 505.64,98.40 506.02,98.36 506.40,98.43 506.78,98.37 507.15,98.37 507.53,98.39 507.91,98.45 508.29,98.39 508.67,98.39 509.05,98.44 509.43,98.45 509.81,98.39 510.19,98.36 510.57,98.43 510.95,98.43 511.33,98.38 511.70,98.43 512.08,98.39 512.46,98.38 512.84,98.41 513.22,98.42 513.60,98.40" fill="none" stroke="#6262cc" stroke-width="0.55"/>
<polyline points="477.20,107.23 477.58,107.14 477.96,107.19 478.34,107.17 478.72,107.12 479.10,107.19 479.47,107.08 479.85,107.04 480.23,107.07 480.61,107.00 480.99,106.98 481.37,106.66 481.75,106.69 482.13,106.20 482.51,106.16 482.89,105.96 483.27,105.31 483.65,104.89 484.02,104.69 484.40,104.32 484.78,103.74 485.16,103.32 485.54,102.52 485.92,101.92 486.30,101.22 486.68,100.74 487.06,100.58 487.44,99.59 487.82,99.19 488.20,98.87 488.57,98.29 488.95,98.07 489.33,97.58 489.71,97.07 490.09,96.73 490.47,96.00 490.85,95.10 491.23,94.17 491.61,92.86 491.99,92.05 492.37,90.49 492.75,89.99 493.12,89.75 493.50,90.34 493.88,91.65 494.26,93.23 494.64,94.77 495.02,96.58 495.40,98.75 495.78,100.82 496.16,102.36 496.54,104.00 496.92,105.14 497.30,105.72 497.68,106.33 498.05,106.78 498.43,106.88 498.81,107.00 499.19,107.16 499.57,107.21 499.95,107.13 500.33,107.22 500.71,107.19 501.09,107.15 501.47,107.17 501.85,107.17 502.23,107.22 502.60,107.17 502.98,107.15 503.36,107.17 503.74,107.23 504.12,107.20 504.50,107.22 504.88,107.20 505.26,107.17 505.64,107.15 506.02,107.18 506.40,107.15 506.78,107.18 507.15,107.21 507.53,107.19 507.91,107.20 508.29,107.21 508.67,107.18 509.05,107.19 509.43,107.24 509.81,107.21 510.19,107.19 510.57,107.20 510.95,107.20 511.33,107.18 511.70,107.24 512.08,107.17 512.46,107.24 512.84,107.24 513.22,107.24 513.60,107.17" fill="none" stroke="#74bc70" stroke-width="0.55"/>
<line x1="483.88" y1="107.60" x2="483.88" y2="106.70" stroke="#aaa" stroke-width="0.4"/>
<line x1="491.56" y1="107.60" x2="491.56" y2="106.70" stroke="#aaa" stroke-width="0.4"/>
<line x1="499.24" y1="107.60" x2="499.24" y2="106.70" stroke="#aaa" stroke-width="0.4"/>
<line x1="506.92" y1="107.60" x2="506.92" y2="106.70" stroke="#aaa" stroke-width="0.4"/>
<line x1="478.00" y1="112.30" x2="508.10" y2="112.30" stroke="#111" stroke-width="1.0"/>
<path d="M511.00,112.3 L507.00,110.3 L507.00,114.3 Z" fill="#111" stroke="none" stroke-width="0.7"/>
<text x="478.50" y="122.70" font-size="8.3" text-anchor="start" font-weight="normal" font-style="normal" fill="#111" stroke="#111" stroke-width="0.15">NKp46</text>
<text x="4.00" y="147.60" font-size="11.5" text-anchor="start" font-weight="normal" font-style="normal" fill="#111" stroke="#111" stroke-width="0.00">C</text>
<path d="M35.9,190.8 L35.9,158.5 L44,157.5 L52,158.5 L58,157 L64.5,156.5 L64.5,175 L64,190.8 Z" fill="#8e9ce6" opacity="0.8" filter="url(#spk2)"/>
<path d="M36.2,190 L36.2,161 L44,160 L52,161 L58,159.5 L63.4,159 L63.2,176 L62.5,190 Z" fill="#3043b8" stroke="none" stroke-width="0.7" filter="url(#b05)"/>
<path d="M36.2,161 L63,160 L63,170 L36.2,171 Z" fill="#5a78e0" opacity="0.7" filter="url(#spk)"/>
<ellipse cx="61.50" cy="162.50" rx="1.80" ry="2.50" fill="#52c6e6" opacity="0.8" filter="url(#b1)"/>
<path d="M36.2,170.5 L54,170 L54,181.5 L36.2,181.5 Z" fill="#3a8fe0" stroke="none" stroke-width="0.7" opacity="0.9" filter="url(#b1)"/>
<path d="M36.2,172.5 L52,172.2 L52,180 L36.2,180 Z" fill="#52c6e6" stroke="none" stroke-width="0.7" opacity="0.95" filter="url(#b05)"/>
<path d="M36.2,174.2 L50,174 L50,178.4 L36.2,178.4 Z" fill="#73c84a" stroke="none" stroke-width="0.7" opacity="0.95" filter="url(#b05)"/>
<ellipse cx="56.00" cy="179.50" rx="6.80" ry="9.50" fill="#2f4ac0" opacity="1.0" transform="rotate(-20 56 179.5)" filter="url(#b1)"/>
<ellipse cx="56.00" cy="180.00" rx="5.30" ry="7.60" fill="#52c6e6" opacity="1.0" transform="rotate(-20 56 180)" filter="url(#b1)"/>
<ellipse cx="56.10" cy="180.30" rx="4.20" ry="6.20" fill="#73c84a" opacity="1.0" transform="rotate(-20 56.1 180.3)" filter="url(#b1)"/>
<ellipse cx="56.30" cy="180.50" rx="2.30" ry="3.20" fill="#e5df2c" opacity="1.0" transform="rotate(-20 56.3 180.5)" filter="url(#b1)"/>
<rect x="35.60" y="145.50" width="45.80" height="46.00" fill="none" stroke="#7a7a7a" stroke-width="0.75"/>
<line x1="44.76" y1="191.50" x2="44.76" y2="190.50" stroke="#999" stroke-width="0.4"/>
<line x1="35.60" y1="154.70" x2="36.60" y2="154.70" stroke="#999" stroke-width="0.4"/>
<line x1="53.92" y1="191.50" x2="53.92" y2="190.50" stroke="#999" stroke-width="0.4"/>
<line x1="35.60" y1="163.90" x2="36.60" y2="163.90" stroke="#999" stroke-width="0.4"/>
<line x1="63.08" y1="191.50" x2="63.08" y2="190.50" stroke="#999" stroke-width="0.4"/>
<line x1="35.60" y1="173.10" x2="36.60" y2="173.10" stroke="#999" stroke-width="0.4"/>
<line x1="72.24" y1="191.50" x2="72.24" y2="190.50" stroke="#999" stroke-width="0.4"/>
<line x1="35.60" y1="182.30" x2="36.60" y2="182.30" stroke="#999" stroke-width="0.4"/>
<path d="M48.5,191 L48.5,184.5" fill="none" stroke="#d95a58" stroke-width="0.7"/>
<path d="M63.5,174.5 Q66.5,175 67.3,179 L69.3,191" fill="none" stroke="#d95a58" stroke-width="0.7"/>
<text x="57.20" y="153.00" font-size="6.7" text-anchor="middle" font-weight="normal" font-style="italic" fill="#111" stroke="#111" stroke-width="0.12">CD3+, Dump-</text>
<text x="32.30" y="172.50" font-size="6.7" text-anchor="middle" font-weight="normal" font-style="normal" fill="#111" stroke="#111" stroke-width="0.12" transform="rotate(-90 32.3 172.5)">ViViD/CD14</text>
<text x="57.80" y="198.90" font-size="6.7" text-anchor="middle" font-weight="normal" font-style="normal" fill="#111" stroke="#111" stroke-width="0.12">CD3</text>
<path d="M100,186.5 L107,158 L110,158 L110.5,186.5 Z" fill="#d8c8f0" stroke="none" stroke-width="0.7" opacity="0.7" filter="url(#b1)"/>
<path d="M100.5,186 L106,166 L108.5,160 L108.5,186 Z" fill="#2d3fb5" stroke="none" stroke-width="0.7" filter="url(#b05)"/>
<ellipse cx="104.00" cy="180.50" rx="2.30" ry="5.00" fill="#3f62d8" opacity="1.0" transform="rotate(15 104 180.5)" filter="url(#b1)"/>
<ellipse cx="104.00" cy="181.00" rx="1.70" ry="3.30" fill="#52c6e6" opacity="1.0" transform="rotate(15 104 181)" filter="url(#b1)"/>
<ellipse cx="104.00" cy="181.00" rx="1.20" ry="2.30" fill="#73c84a" opacity="1.0" transform="rotate(15 104 181)" filter="url(#b1)"/>
<rect x="93.40" y="145.50" width="46.00" height="46.00" fill="none" stroke="#7a7a7a" stroke-width="0.75"/>
<line x1="102.60" y1="191.50" x2="102.60" y2="190.50" stroke="#999" stroke-width="0.4"/>
<line x1="93.40" y1="154.70" x2="94.40" y2="154.70" stroke="#999" stroke-width="0.4"/>
<line x1="111.80" y1="191.50" x2="111.80" y2="190.50" stroke="#999" stroke-width="0.4"/>
<line x1="93.40" y1="163.90" x2="94.40" y2="163.90" stroke="#999" stroke-width="0.4"/>
<line x1="121.00" y1="191.50" x2="121.00" y2="190.50" stroke="#999" stroke-width="0.4"/>
<line x1="93.40" y1="173.10" x2="94.40" y2="173.10" stroke="#999" stroke-width="0.4"/>
<line x1="130.20" y1="191.50" x2="130.20" y2="190.50" stroke="#999" stroke-width="0.4"/>
<line x1="93.40" y1="182.30" x2="94.40" y2="182.30" stroke="#999" stroke-width="0.4"/>
<polygon points="99.70,185.60 105.20,155.50 109.80,155.50 108.20,185.60" fill="none" stroke="#e07a78" stroke-width="0.55"/>
<text x="116.30" y="152.60" font-size="6.9" text-anchor="middle" font-weight="normal" font-style="italic" fill="#111" stroke="#111" stroke-width="0.12">Lymphs</text>
<text x="91.30" y="172.50" font-size="6.7" text-anchor="middle" font-weight="normal" font-style="normal" fill="#111" stroke="#111" stroke-width="0.12" transform="rotate(-90 91.3 172.5)">SSC</text>
<text x="114.60" y="198.90" font-size="6.7" text-anchor="middle" font-weight="normal" font-style="normal" fill="#111" stroke="#111" stroke-width="0.12">FSC</text>
<path d="M151.8,190.5 L151.8,168 L160,167 L171,170 L172,190.5 Z" fill="#5a70d8" opacity="0.65" filter="url(#spk)"/>
<path d="M151.8,190.5 L151.8,160 L172,160 L173,190.5 Z" fill="#a8b4ee" opacity="0.6" filter="url(#spk2)"/>
<ellipse cx="159.20" cy="166.00" rx="8.30" ry="6.30" fill="#3046bc" opacity="1.0" filter="url(#b1)"/>
<ellipse cx="158.80" cy="165.80" rx="7.00" ry="5.00" fill="#52c6e6" opacity="1.0" filter="url(#b1)"/>
<ellipse cx="158.60" cy="165.80" rx="5.60" ry="3.80" fill="#73c84a" opacity="1.0" filter="url(#b1)"/>
<ellipse cx="158.00" cy="165.80" rx="2.60" ry="1.90" fill="#b8d838" opacity="0.9" filter="url(#b1)"/>
<path d="M171,191 L173,166 L178,162 L184,166 L186,191 Z" fill="#5068d4" opacity="0.8" filter="url(#spk)"/>
<ellipse cx="177.80" cy="177.00" rx="4.60" ry="12.50" fill="#3046bc" opacity="1.0" transform="rotate(-10 177.8 177)" filter="url(#b1)"/>
<ellipse cx="178.50" cy="182.50" rx="3.80" ry="7.50" fill="#3f62d8" opacity="1.0" transform="rotate(-6 178.5 182.5)" filter="url(#b1)"/>
<ellipse cx="178.60" cy="184.00" rx="3.10" ry="6.30" fill="#52c6e6" opacity="1.0" filter="url(#b1)"/>
<ellipse cx="178.60" cy="184.30" rx="2.50" ry="5.20" fill="#73c84a" opacity="1.0" filter="url(#b1)"/>
<ellipse cx="178.60" cy="184.50" rx="1.60" ry="3.40" fill="#e5df2c" opacity="1.0" filter="url(#b1)"/>
<ellipse cx="178.60" cy="184.80" rx="0.90" ry="1.90" fill="#e2341e" opacity="1.0" filter="url(#b05)"/>
<rect x="151.20" y="145.50" width="45.80" height="46.00" fill="none" stroke="#7a7a7a" stroke-width="0.75"/>
<line x1="160.36" y1="191.50" x2="160.36" y2="190.50" stroke="#999" stroke-width="0.4"/>
<line x1="151.20" y1="154.70" x2="152.20" y2="154.70" stroke="#999" stroke-width="0.4"/>
<line x1="169.52" y1="191.50" x2="169.52" y2="190.50" stroke="#999" stroke-width="0.4"/>
<line x1="151.20" y1="163.90" x2="152.20" y2="163.90" stroke="#999" stroke-width="0.4"/>
<line x1="178.68" y1="191.50" x2="178.68" y2="190.50" stroke="#999" stroke-width="0.4"/>
<line x1="151.20" y1="173.10" x2="152.20" y2="173.10" stroke="#999" stroke-width="0.4"/>
<line x1="187.84" y1="191.50" x2="187.84" y2="190.50" stroke="#999" stroke-width="0.4"/>
<line x1="151.20" y1="182.30" x2="152.20" y2="182.30" stroke="#999" stroke-width="0.4"/>
<line x1="151.20" y1="156.80" x2="197.50" y2="156.80" stroke="#dc4040" stroke-width="0.8"/>
<line x1="169.20" y1="156.80" x2="169.20" y2="191.50" stroke="#e07878" stroke-width="0.5"/>
<line x1="151.20" y1="174.30" x2="169.20" y2="174.30" stroke="#e07878" stroke-width="0.55"/>
<circle cx="160.8" cy="156.8" r="1.4" fill="#dc4040"/>
<line x1="181.40" y1="177.70" x2="197.50" y2="177.70" stroke="#dc4040" stroke-width="0.8"/>
<circle cx="181.4" cy="177.7" r="1.4" fill="#dc4040"/>
<path d="M200.5,156.8 L197.3,154.9 L197.3,158.7 Z" fill="#dc4040" stroke="none" stroke-width="0.7"/>
<path d="M200.5,177.7 L197.3,175.8 L197.3,179.6 Z" fill="#dc4040" stroke="none" stroke-width="0.7"/>
<text x="174.10" y="152.60" font-size="6.9" text-anchor="middle" font-weight="normal" font-style="italic" fill="#111" stroke="#111" stroke-width="0.12">Lineage Gate</text>
<text x="148.60" y="168.50" font-size="6.7" text-anchor="middle" font-weight="normal" font-style="normal" fill="#111" stroke="#111" stroke-width="0.12" transform="rotate(-90 148.6 168.5)">CD8</text>
<text x="174.60" y="198.90" font-size="6.7" text-anchor="middle" font-weight="normal" font-style="normal" fill="#111" stroke="#111" stroke-width="0.12">CD4</text>
<path d="M212,176 L213,162 L222,160 L242,161 L243,176 Z" fill="#a8b4ee" opacity="0.7" filter="url(#spk2)"/>
<path d="M231,190 L232,176 L243,175 L244,190 Z" fill="#5a70d8" opacity="0.55" filter="url(#spk2)"/>
<ellipse cx="238.50" cy="179.00" rx="2.20" ry="6.00" fill="#4a62d0" opacity="0.6" filter="url(#b1)"/>
<ellipse cx="221.50" cy="169.00" rx="7.50" ry="6.00" fill="#2d3fb5" opacity="1.0" filter="url(#b1)"/>
<ellipse cx="232.00" cy="168.60" rx="9.50" ry="4.60" fill="#2d3fb5" opacity="1.0" filter="url(#b1)"/>
<ellipse cx="239.50" cy="171.00" rx="2.60" ry="6.50" fill="#3046bc" opacity="0.9" filter="url(#b1)"/>
<ellipse cx="221.80" cy="169.00" rx="5.80" ry="4.60" fill="#3aa0d8" opacity="1.0" filter="url(#b1)"/>
<ellipse cx="231.00" cy="168.60" rx="8.50" ry="3.20" fill="#3aa0d8" opacity="1.0" filter="url(#b1)"/>
<ellipse cx="222.00" cy="169.00" rx="4.60" ry="3.60" fill="#73c84a" opacity="1.0" filter="url(#b1)"/>
<ellipse cx="230.50" cy="168.60" rx="7.50" ry="2.20" fill="#73c84a" opacity="0.95" filter="url(#b1)"/>
<ellipse cx="222.00" cy="169.10" rx="3.00" ry="2.50" fill="#e5df2c" opacity="1.0" filter="url(#b1)"/>
<ellipse cx="221.60" cy="169.30" rx="1.70" ry="1.50" fill="#f07020" opacity="1.0" filter="url(#b05)"/>
<rect x="209.10" y="145.50" width="46.20" height="46.00" fill="none" stroke="#7a7a7a" stroke-width="0.75"/>
<line x1="218.34" y1="191.50" x2="218.34" y2="190.50" stroke="#999" stroke-width="0.4"/>
<line x1="209.10" y1="154.70" x2="210.10" y2="154.70" stroke="#999" stroke-width="0.4"/>
<line x1="227.58" y1="191.50" x2="227.58" y2="190.50" stroke="#999" stroke-width="0.4"/>
<line x1="209.10" y1="163.90" x2="210.10" y2="163.90" stroke="#999" stroke-width="0.4"/>
<line x1="236.82" y1="191.50" x2="236.82" y2="190.50" stroke="#999" stroke-width="0.4"/>
<line x1="209.10" y1="173.10" x2="210.10" y2="173.10" stroke="#999" stroke-width="0.4"/>
<line x1="246.06" y1="191.50" x2="246.06" y2="190.50" stroke="#999" stroke-width="0.4"/>
<line x1="209.10" y1="182.30" x2="210.10" y2="182.30" stroke="#999" stroke-width="0.4"/>
<polyline points="209.10,157.80 248.30,157.80 248.30,171.30 209.10,177.80" fill="none" stroke="#e07070" stroke-width="0.6"/>
<line x1="214.00" y1="177.00" x2="214.00" y2="191.50" stroke="#e07070" stroke-width="0.55"/>
<line x1="248.30" y1="171.30" x2="248.30" y2="191.50" stroke="#e07070" stroke-width="0.55"/>
<text x="207.80" y="167.20" font-size="6.7" text-anchor="middle" font-weight="normal" font-style="normal" fill="#111" stroke="#111" stroke-width="0.12" transform="rotate(-90 207.8 167.2)">CD95</text>
<text x="232.30" y="198.90" font-size="6.7" text-anchor="middle" font-weight="normal" font-style="normal" fill="#111" stroke="#111" stroke-width="0.12">CD45RA</text>
<polyline points="243.00,161.60 243.00,137.50 351.40,137.50 351.40,143.00" fill="none" stroke="#e05858" stroke-width="0.7"/>
<circle cx="243.0" cy="161.6" r="1.4" fill="#dc4040"/>
<path d="M351.4,146.2 L349.5,142.6 L353.3,142.6 Z" fill="#dc4040" stroke="none" stroke-width="0.7"/>
<line x1="241.80" y1="184.80" x2="264.00" y2="184.80" stroke="#dc4040" stroke-width="0.8"/>
<circle cx="241.8" cy="184.8" r="1.4" fill="#dc4040"/>
<path d="M267.5,184.8 L263.8,182.9 L263.8,186.7 Z" fill="#dc4040" stroke="none" stroke-width="0.7"/>
<path d="M269.5,191 L275,176.5 L278.5,178 L275,191 Z" fill="#6a80d8" opacity="0.8" filter="url(#spk)"/>
<ellipse cx="290.00" cy="173.50" rx="6.50" ry="7.50" fill="#c9c4ec" opacity="0.8" filter="url(#b1)"/>
<ellipse cx="291.00" cy="172.70" rx="4.30" ry="6.00" fill="#3f62d8" opacity="0.8" filter="url(#b1)"/>
<ellipse cx="291.20" cy="172.30" rx="3.20" ry="4.70" fill="#40b0c0" opacity="1.0" filter="url(#b1)"/>
<ellipse cx="291.40" cy="172.00" rx="2.20" ry="3.30" fill="#5fc080" opacity="1.0" filter="url(#b1)"/>
<rect x="268.90" y="145.50" width="45.70" height="46.00" fill="none" stroke="#7a7a7a" stroke-width="0.75"/>
<line x1="278.04" y1="191.50" x2="278.04" y2="190.50" stroke="#999" stroke-width="0.4"/>
<line x1="268.90" y1="154.70" x2="269.90" y2="154.70" stroke="#999" stroke-width="0.4"/>
<line x1="287.18" y1="191.50" x2="287.18" y2="190.50" stroke="#999" stroke-width="0.4"/>
<line x1="268.90" y1="163.90" x2="269.90" y2="163.90" stroke="#999" stroke-width="0.4"/>
<line x1="296.32" y1="191.50" x2="296.32" y2="190.50" stroke="#999" stroke-width="0.4"/>
<line x1="268.90" y1="173.10" x2="269.90" y2="173.10" stroke="#999" stroke-width="0.4"/>
<line x1="305.46" y1="191.50" x2="305.46" y2="190.50" stroke="#999" stroke-width="0.4"/>
<line x1="268.90" y1="182.30" x2="269.90" y2="182.30" stroke="#999" stroke-width="0.4"/>
<rect x="282.40" y="166.30" width="14.70" height="15.00" fill="none" stroke="#e07878" stroke-width="0.6"/>
<text x="285.50" y="160.70" font-size="6.5" text-anchor="start" font-weight="normal" font-style="normal" fill="#111" stroke="#111" stroke-width="0.12">T</text>
<text x="290.10" y="162.60" font-size="4.2" text-anchor="start" font-weight="normal" font-style="normal" fill="#111" stroke="#111" stroke-width="0.08">N</text>
<text x="266.00" y="168.50" font-size="6.7" text-anchor="middle" font-weight="normal" font-style="normal" fill="#111" stroke="#111" stroke-width="0.12" transform="rotate(-90 266.0 168.5)">CD28</text>
<text x="291.70" y="198.90" font-size="6.7" text-anchor="middle" font-weight="normal" font-style="normal" fill="#111" stroke="#111" stroke-width="0.12">CCR7</text>
<path d="M338,186 L340,175 L356,174 L357,186 Z" fill="#c0b0e8" opacity="0.8" filter="url(#spk2)"/>
<path d="M329,178 L330,164.5 L345,164 L356,163.5 L357,177 L345,178.5 Z" fill="#8e9ce6" opacity="0.8" filter="url(#spk2)"/>
<path d="M330,176 L331,167 L342,166 L352,165 L355,168 L355,175 L345,177 Z" fill="#3a50c4" stroke="none" stroke-width="0.7" opacity="0.9" filter="url(#b1)"/>
<ellipse cx="349.50" cy="170.50" rx="5.00" ry="3.30" fill="#3aa0d8" opacity="0.9" filter="url(#b1)"/>
<ellipse cx="349.80" cy="170.60" rx="3.00" ry="2.00" fill="#73c84a" opacity="0.9" filter="url(#b1)"/>
<ellipse cx="334.20" cy="182.00" rx="5.20" ry="9.50" fill="#2d3fb5" opacity="1.0" filter="url(#b1)"/>
<ellipse cx="334.00" cy="182.50" rx="3.60" ry="7.40" fill="#3f62d8" opacity="1.0" filter="url(#b1)"/>
<ellipse cx="333.90" cy="182.70" rx="2.80" ry="6.00" fill="#52c6e6" opacity="1.0" filter="url(#b1)"/>
<ellipse cx="333.90" cy="182.70" rx="2.20" ry="4.80" fill="#73c84a" opacity="1.0" filter="url(#b1)"/>
<ellipse cx="333.90" cy="183.00" rx="1.30" ry="3.00" fill="#e5df2c" opacity="1.0" filter="url(#b1)"/>
<ellipse cx="338.00" cy="189.50" rx="2.50" ry="1.80" fill="#2030a0" opacity="0.9" filter="url(#b1)"/>
<rect x="328.30" y="145.50" width="45.30" height="46.00" fill="none" stroke="#7a7a7a" stroke-width="0.75"/>
<line x1="337.36" y1="191.50" x2="337.36" y2="190.50" stroke="#999" stroke-width="0.4"/>
<line x1="328.30" y1="154.70" x2="329.30" y2="154.70" stroke="#999" stroke-width="0.4"/>
<line x1="346.42" y1="191.50" x2="346.42" y2="190.50" stroke="#999" stroke-width="0.4"/>
<line x1="328.30" y1="163.90" x2="329.30" y2="163.90" stroke="#999" stroke-width="0.4"/>
<line x1="355.48" y1="191.50" x2="355.48" y2="190.50" stroke="#999" stroke-width="0.4"/>
<line x1="328.30" y1="173.10" x2="329.30" y2="173.10" stroke="#999" stroke-width="0.4"/>
<line x1="364.54" y1="191.50" x2="364.54" y2="190.50" stroke="#999" stroke-width="0.4"/>
<line x1="328.30" y1="182.30" x2="329.30" y2="182.30" stroke="#999" stroke-width="0.4"/>
<rect x="328.30" y="164.10" width="28.40" height="15.30" fill="none" stroke="#e07878" stroke-width="0.6"/>
<line x1="342.00" y1="164.10" x2="342.00" y2="179.40" stroke="#e07878" stroke-width="0.5"/>
<text x="331.20" y="160.70" font-size="6.5" text-anchor="start" font-weight="normal" font-style="normal" fill="#111" stroke="#111" stroke-width="0.12">T</text>
<text x="336.00" y="162.60" font-size="4.2" text-anchor="start" font-weight="normal" font-style="normal" fill="#111" stroke="#111" stroke-width="0.08">TM</text>
<text x="352.20" y="160.70" font-size="6.5" text-anchor="start" font-weight="normal" font-style="normal" fill="#111" stroke="#111" stroke-width="0.12">T</text>
<text x="357.00" y="162.60" font-size="4.2" text-anchor="start" font-weight="normal" font-style="normal" fill="#111" stroke="#111" stroke-width="0.08">CM</text>
<text x="360.00" y="184.40" font-size="6.5" text-anchor="start" font-weight="normal" font-style="normal" fill="#111" stroke="#111" stroke-width="0.12">T</text>
<text x="364.40" y="186.00" font-size="4.0" text-anchor="start" font-weight="normal" font-style="normal" fill="#111" stroke="#111" stroke-width="0.07">EF</text>
<line x1="340.30" y1="187.40" x2="379.50" y2="187.40" stroke="#dc4040" stroke-width="0.8"/>
<circle cx="340.3" cy="187.4" r="1.4" fill="#dc4040"/>
<path d="M383.2,187.4 L379.4,185.5 L379.4,189.3 Z" fill="#dc4040" stroke="none" stroke-width="0.7"/>
<text x="325.50" y="168.50" font-size="6.7" text-anchor="middle" font-weight="normal" font-style="normal" fill="#111" stroke="#111" stroke-width="0.12" transform="rotate(-90 325.5 168.5)">CD28</text>
<text x="351.00" y="198.90" font-size="6.7" text-anchor="middle" font-weight="normal" font-style="normal" fill="#111" stroke="#111" stroke-width="0.12">CCR7</text>
<path d="M390,184 L391,176 L422,176 L423,184 Z" fill="#a8b4ee" opacity="0.7" filter="url(#spk2)"/>
<rect x="391.70" y="177.00" width="29.00" height="6.20" rx="13.05" ry="2.79" fill="#2d3fb5" opacity="1.0" filter="url(#b05)"/>
<rect x="393.00" y="177.90" width="25.00" height="4.40" rx="11.25" ry="1.98" fill="#3aa0d8" opacity="1.0" filter="url(#b05)"/>
<rect x="394.00" y="178.70" width="18.00" height="3.00" rx="8.10" ry="1.35" fill="#73c84a" opacity="1.0" filter="url(#b05)"/>
<ellipse cx="399.50" cy="180.30" rx="4.00" ry="1.10" fill="#e5df2c" opacity="1.0" filter="url(#b05)"/>
<rect x="387.00" y="145.50" width="44.60" height="46.00" fill="none" stroke="#7a7a7a" stroke-width="0.75"/>
<line x1="395.92" y1="191.50" x2="395.92" y2="190.50" stroke="#999" stroke-width="0.4"/>
<line x1="387.00" y1="154.70" x2="388.00" y2="154.70" stroke="#999" stroke-width="0.4"/>
<line x1="404.84" y1="191.50" x2="404.84" y2="190.50" stroke="#999" stroke-width="0.4"/>
<line x1="387.00" y1="163.90" x2="388.00" y2="163.90" stroke="#999" stroke-width="0.4"/>
<line x1="413.76" y1="191.50" x2="413.76" y2="190.50" stroke="#999" stroke-width="0.4"/>
<line x1="387.00" y1="173.10" x2="388.00" y2="173.10" stroke="#999" stroke-width="0.4"/>
<line x1="422.68" y1="191.50" x2="422.68" y2="190.50" stroke="#999" stroke-width="0.4"/>
<line x1="387.00" y1="182.30" x2="388.00" y2="182.30" stroke="#999" stroke-width="0.4"/>
<rect x="387.00" y="167.20" width="42.60" height="20.20" fill="none" stroke="#e07878" stroke-width="0.6"/>
<line x1="405.50" y1="167.20" x2="405.50" y2="187.40" stroke="#e07878" stroke-width="0.55"/>
<text x="388.30" y="162.30" font-size="6.5" text-anchor="start" font-weight="normal" font-style="normal" fill="#111" stroke="#111" stroke-width="0.12">T</text>
<text x="393.10" y="164.20" font-size="4.2" text-anchor="start" font-weight="normal" font-style="normal" fill="#111" stroke="#111" stroke-width="0.08">EM</text>
<text x="409.00" y="162.30" font-size="6.5" text-anchor="start" font-weight="normal" font-style="normal" fill="#111" stroke="#111" stroke-width="0.12">T</text>
<text x="413.80" y="164.20" font-size="4.2" text-anchor="start" font-weight="normal" font-style="normal" fill="#111" stroke="#111" stroke-width="0.08">TE</text>
<text x="384.50" y="171.30" font-size="6.7" text-anchor="middle" font-weight="normal" font-style="normal" fill="#111" stroke="#111" stroke-width="0.12" transform="rotate(-90 384.5 171.3)">SSC</text>
<text x="410.00" y="198.90" font-size="6.7" text-anchor="middle" font-weight="normal" font-style="normal" fill="#111" stroke="#111" stroke-width="0.12">CD45RA</text>
<line x1="47.30" y1="218.00" x2="47.30" y2="272.50" stroke="#444" stroke-width="0.65"/>
<line x1="47.30" y1="272.50" x2="127.80" y2="272.50" stroke="#444" stroke-width="0.65"/>
<line x1="46.10" y1="218.70" x2="47.30" y2="218.70" stroke="#444" stroke-width="0.45"/>
<text x="45.70" y="220.32" font-size="4.5" text-anchor="end" font-weight="normal" font-style="normal" fill="#333" stroke="#333" stroke-width="0.08">4</text>
<line x1="46.10" y1="232.00" x2="47.30" y2="232.00" stroke="#444" stroke-width="0.45"/>
<text x="45.70" y="233.62" font-size="4.5" text-anchor="end" font-weight="normal" font-style="normal" fill="#333" stroke="#333" stroke-width="0.08">2</text>
<line x1="46.10" y1="245.60" x2="47.30" y2="245.60" stroke="#444" stroke-width="0.45"/>
<text x="45.70" y="247.22" font-size="4.5" text-anchor="end" font-weight="normal" font-style="normal" fill="#333" stroke="#333" stroke-width="0.08">1</text>
<line x1="46.10" y1="258.80" x2="47.30" y2="258.80" stroke="#444" stroke-width="0.45"/>
<text x="45.70" y="260.42" font-size="4.5" text-anchor="end" font-weight="normal" font-style="normal" fill="#333" stroke="#333" stroke-width="0.08">0.5</text>
<line x1="46.10" y1="272.50" x2="47.30" y2="272.50" stroke="#444" stroke-width="0.45"/>
<text x="45.70" y="274.12" font-size="4.5" text-anchor="end" font-weight="normal" font-style="normal" fill="#333" stroke="#333" stroke-width="0.08">0.25</text>
<line x1="52.90" y1="272.50" x2="52.90" y2="273.70" stroke="#444" stroke-width="0.45"/>
<line x1="64.52" y1="272.50" x2="64.52" y2="273.70" stroke="#444" stroke-width="0.45"/>
<line x1="76.14" y1="272.50" x2="76.14" y2="273.70" stroke="#444" stroke-width="0.45"/>
<line x1="87.76" y1="272.50" x2="87.76" y2="273.70" stroke="#444" stroke-width="0.45"/>
<line x1="99.38" y1="272.50" x2="99.38" y2="273.70" stroke="#444" stroke-width="0.45"/>
<line x1="111.00" y1="272.50" x2="111.00" y2="273.70" stroke="#444" stroke-width="0.45"/>
<line x1="122.62" y1="272.50" x2="122.62" y2="273.70" stroke="#444" stroke-width="0.45"/>
<polyline points="52.90,245.10 64.52,247.00 76.14,245.10 87.76,254.50 99.38,252.60 111.00,249.70 122.62,244.50" fill="none" stroke="#1a1a1a" stroke-width="0.8"/>
<line x1="64.52" y1="247.00" x2="64.52" y2="244.00" stroke="#5a5a5a" stroke-width="0.55"/>
<line x1="63.22" y1="244.00" x2="65.82" y2="244.00" stroke="#4a4a4a" stroke-width="0.55"/>
<line x1="87.76" y1="254.50" x2="87.76" y2="246.50" stroke="#5a5a5a" stroke-width="0.55"/>
<line x1="86.46" y1="246.50" x2="89.06" y2="246.50" stroke="#4a4a4a" stroke-width="0.55"/>
<line x1="99.38" y1="252.60" x2="99.38" y2="246.60" stroke="#5a5a5a" stroke-width="0.55"/>
<line x1="98.08" y1="246.60" x2="100.68" y2="246.60" stroke="#4a4a4a" stroke-width="0.55"/>
<path d="M52.90,243.75 L54.25,245.10 L52.90,246.45 L51.55,245.10 Z" fill="#111"/>
<path d="M64.52,245.65 L65.87,247.00 L64.52,248.35 L63.17,247.00 Z" fill="#111"/>
<path d="M76.14,243.75 L77.49,245.10 L76.14,246.45 L74.79,245.10 Z" fill="#111"/>
<path d="M87.76,253.15 L89.11,254.50 L87.76,255.85 L86.41,254.50 Z" fill="#111"/>
<path d="M99.38,251.25 L100.73,252.60 L99.38,253.95 L98.03,252.60 Z" fill="#111"/>
<path d="M111.00,248.35 L112.35,249.70 L111.00,251.05 L109.65,249.70 Z" fill="#111"/>
<path d="M122.62,243.15 L123.97,244.50 L122.62,245.85 L121.27,244.50 Z" fill="#111"/>
<polyline points="52.90,245.10 64.52,248.00 76.14,247.10 87.76,244.40 99.38,259.30 111.00,254.50 122.62,258.80" fill="none" stroke="#1a1a1a" stroke-width="0.8"/>
<line x1="76.14" y1="247.10" x2="76.14" y2="243.10" stroke="#5a5a5a" stroke-width="0.55"/>
<line x1="74.84" y1="243.10" x2="77.44" y2="243.10" stroke="#4a4a4a" stroke-width="0.55"/>
<line x1="122.62" y1="258.80" x2="122.62" y2="253.80" stroke="#5a5a5a" stroke-width="0.55"/>
<line x1="121.32" y1="253.80" x2="123.92" y2="253.80" stroke="#4a4a4a" stroke-width="0.55"/>
<circle cx="52.90" cy="245.10" r="1.75" fill="#111"/>
<circle cx="64.52" cy="248.00" r="1.75" fill="#111"/>
<circle cx="76.14" cy="247.10" r="1.75" fill="#111"/>
<circle cx="87.76" cy="244.40" r="1.75" fill="#111"/>
<circle cx="99.38" cy="259.30" r="1.75" fill="#111"/>
<circle cx="111.00" cy="254.50" r="1.75" fill="#111"/>
<circle cx="122.62" cy="258.80" r="1.75" fill="#111"/>
<polyline points="52.90,245.10 64.52,232.30 76.14,229.50 87.76,243.80 99.38,252.60 111.00,243.00 122.62,243.00" fill="none" stroke="#1a1a1a" stroke-width="0.8"/>
<line x1="64.52" y1="232.30" x2="64.52" y2="228.30" stroke="#5a5a5a" stroke-width="0.55"/>
<line x1="63.22" y1="228.30" x2="65.82" y2="228.30" stroke="#4a4a4a" stroke-width="0.55"/>
<line x1="76.14" y1="229.50" x2="76.14" y2="222.50" stroke="#5a5a5a" stroke-width="0.55"/>
<line x1="74.84" y1="222.50" x2="77.44" y2="222.50" stroke="#4a4a4a" stroke-width="0.55"/>
<line x1="111.00" y1="243.00" x2="111.00" y2="240.00" stroke="#5a5a5a" stroke-width="0.55"/>
<line x1="109.70" y1="240.00" x2="112.30" y2="240.00" stroke="#4a4a4a" stroke-width="0.55"/>
<path d="M52.90,243.20 L54.70,246.34 L51.09,246.34 Z" fill="#111"/>
<path d="M64.52,230.40 L66.33,233.54 L62.71,233.54 Z" fill="#111"/>
<path d="M76.14,227.60 L77.95,230.74 L74.33,230.74 Z" fill="#111"/>
<path d="M87.76,241.90 L89.56,245.04 L85.95,245.04 Z" fill="#111"/>
<path d="M99.38,250.70 L101.19,253.84 L97.57,253.84 Z" fill="#111"/>
<path d="M111.00,241.10 L112.81,244.24 L109.19,244.24 Z" fill="#111"/>
<path d="M122.62,241.10 L124.43,244.24 L120.81,244.24 Z" fill="#111"/>
<polyline points="52.90,245.10 64.52,238.40 76.14,233.10 87.76,242.20 99.38,248.30 111.00,258.80 122.62,242.20" fill="none" stroke="#1a1a1a" stroke-width="0.8"/>
<line x1="87.76" y1="242.20" x2="87.76" y2="238.20" stroke="#5a5a5a" stroke-width="0.55"/>
<line x1="86.46" y1="238.20" x2="89.06" y2="238.20" stroke="#4a4a4a" stroke-width="0.55"/>
<line x1="99.38" y1="248.30" x2="99.38" y2="243.30" stroke="#5a5a5a" stroke-width="0.55"/>
<line x1="98.08" y1="243.30" x2="100.68" y2="243.30" stroke="#4a4a4a" stroke-width="0.55"/>
<line x1="122.62" y1="242.20" x2="122.62" y2="238.20" stroke="#5a5a5a" stroke-width="0.55"/>
<line x1="121.32" y1="238.20" x2="123.92" y2="238.20" stroke="#4a4a4a" stroke-width="0.55"/>
<rect x="51.30" y="243.50" width="3.20" height="3.20" fill="#111"/>
<rect x="62.92" y="236.80" width="3.20" height="3.20" fill="#111"/>
<rect x="74.54" y="231.50" width="3.20" height="3.20" fill="#111"/>
<rect x="86.16" y="240.60" width="3.20" height="3.20" fill="#111"/>
<rect x="97.78" y="246.70" width="3.20" height="3.20" fill="#111"/>
<rect x="109.40" y="257.20" width="3.20" height="3.20" fill="#111"/>
<rect x="121.02" y="240.60" width="3.20" height="3.20" fill="#111"/>
<text x="64.60" y="211.90" font-size="6.9" text-anchor="start" font-weight="normal" font-style="normal" fill="#111" stroke="#111" stroke-width="0.12">T</text>
<text x="69.10" y="214.30" font-size="4.6" text-anchor="start" font-weight="normal" font-style="normal" fill="#111" stroke="#111" stroke-width="0.08">N</text>
<line x1="144.25" y1="218.00" x2="144.25" y2="272.50" stroke="#444" stroke-width="0.65"/>
<line x1="144.25" y1="272.50" x2="224.75" y2="272.50" stroke="#444" stroke-width="0.65"/>
<line x1="143.05" y1="230.50" x2="144.25" y2="230.50" stroke="#444" stroke-width="0.45"/>
<text x="142.65" y="232.12" font-size="4.5" text-anchor="end" font-weight="normal" font-style="normal" fill="#333" stroke="#333" stroke-width="0.08">2</text>
<line x1="143.05" y1="251.25" x2="144.25" y2="251.25" stroke="#444" stroke-width="0.45"/>
<text x="142.65" y="252.87" font-size="4.5" text-anchor="end" font-weight="normal" font-style="normal" fill="#333" stroke="#333" stroke-width="0.08">1</text>
<line x1="143.05" y1="272.00" x2="144.25" y2="272.00" stroke="#444" stroke-width="0.45"/>
<text x="142.65" y="273.62" font-size="4.5" text-anchor="end" font-weight="normal" font-style="normal" fill="#333" stroke="#333" stroke-width="0.08">0.5</text>
<line x1="149.90" y1="272.50" x2="149.90" y2="273.70" stroke="#444" stroke-width="0.45"/>
<line x1="161.52" y1="272.50" x2="161.52" y2="273.70" stroke="#444" stroke-width="0.45"/>
<line x1="173.14" y1="272.50" x2="173.14" y2="273.70" stroke="#444" stroke-width="0.45"/>
<line x1="184.76" y1="272.50" x2="184.76" y2="273.70" stroke="#444" stroke-width="0.45"/>
<line x1="196.38" y1="272.50" x2="196.38" y2="273.70" stroke="#444" stroke-width="0.45"/>
<line x1="208.00" y1="272.50" x2="208.00" y2="273.70" stroke="#444" stroke-width="0.45"/>
<line x1="219.62" y1="272.50" x2="219.62" y2="273.70" stroke="#444" stroke-width="0.45"/>
<polyline points="149.90,251.60 161.52,250.40 173.14,247.10 184.76,258.20 196.38,261.50 208.00,251.00 219.62,250.00" fill="none" stroke="#1a1a1a" stroke-width="0.8"/>
<line x1="161.52" y1="250.40" x2="161.52" y2="246.40" stroke="#5a5a5a" stroke-width="0.55"/>
<line x1="160.22" y1="246.40" x2="162.82" y2="246.40" stroke="#4a4a4a" stroke-width="0.55"/>
<line x1="173.14" y1="247.10" x2="173.14" y2="242.10" stroke="#5a5a5a" stroke-width="0.55"/>
<line x1="171.84" y1="242.10" x2="174.44" y2="242.10" stroke="#4a4a4a" stroke-width="0.55"/>
<line x1="184.76" y1="258.20" x2="184.76" y2="253.20" stroke="#5a5a5a" stroke-width="0.55"/>
<line x1="183.46" y1="253.20" x2="186.06" y2="253.20" stroke="#4a4a4a" stroke-width="0.55"/>
<path d="M149.90,250.25 L151.25,251.60 L149.90,252.95 L148.55,251.60 Z" fill="#111"/>
<path d="M161.52,249.05 L162.87,250.40 L161.52,251.75 L160.17,250.40 Z" fill="#111"/>
<path d="M173.14,245.75 L174.49,247.10 L173.14,248.45 L171.79,247.10 Z" fill="#111"/>
<path d="M184.76,256.85 L186.11,258.20 L184.76,259.55 L183.41,258.20 Z" fill="#111"/>
<path d="M196.38,260.15 L197.73,261.50 L196.38,262.85 L195.03,261.50 Z" fill="#111"/>
<path d="M208.00,249.65 L209.35,251.00 L208.00,252.35 L206.65,251.00 Z" fill="#111"/>
<path d="M219.62,248.65 L220.97,250.00 L219.62,251.35 L218.27,250.00 Z" fill="#111"/>
<polyline points="149.90,251.60 161.52,258.20 173.14,251.60 184.76,234.40 196.38,257.50 208.00,252.50 219.62,266.40" fill="none" stroke="#1a1a1a" stroke-width="0.8"/>
<circle cx="149.90" cy="251.60" r="1.75" fill="#111"/>
<circle cx="161.52" cy="258.20" r="1.75" fill="#111"/>
<circle cx="173.14" cy="251.60" r="1.75" fill="#111"/>
<circle cx="184.76" cy="234.40" r="1.75" fill="#111"/>
<circle cx="196.38" cy="257.50" r="1.75" fill="#111"/>
<circle cx="208.00" cy="252.50" r="1.75" fill="#111"/>
<circle cx="219.62" cy="266.40" r="1.75" fill="#111"/>
<polyline points="149.90,251.60 161.52,241.00 173.14,234.40 184.76,248.00 196.38,256.20 208.00,250.00 219.62,253.70" fill="none" stroke="#1a1a1a" stroke-width="0.8"/>
<path d="M149.90,249.70 L151.71,252.84 L148.09,252.84 Z" fill="#111"/>
<path d="M161.52,239.10 L163.33,242.24 L159.72,242.24 Z" fill="#111"/>
<path d="M173.14,232.50 L174.95,235.64 L171.34,235.64 Z" fill="#111"/>
<path d="M184.76,246.10 L186.56,249.24 L182.95,249.24 Z" fill="#111"/>
<path d="M196.38,254.30 L198.19,257.44 L194.57,257.44 Z" fill="#111"/>
<path d="M208.00,248.10 L209.81,251.24 L206.19,251.24 Z" fill="#111"/>
<path d="M219.62,251.80 L221.43,254.94 L217.81,254.94 Z" fill="#111"/>
<polyline points="149.90,251.60 161.52,241.00 173.14,230.20 184.76,233.50 196.38,248.80 208.00,249.60 219.62,248.00" fill="none" stroke="#1a1a1a" stroke-width="0.8"/>
<line x1="161.52" y1="241.00" x2="161.52" y2="238.00" stroke="#5a5a5a" stroke-width="0.55"/>
<line x1="160.22" y1="238.00" x2="162.82" y2="238.00" stroke="#4a4a4a" stroke-width="0.55"/>
<line x1="173.14" y1="230.20" x2="173.14" y2="225.20" stroke="#5a5a5a" stroke-width="0.55"/>
<line x1="171.84" y1="225.20" x2="174.44" y2="225.20" stroke="#4a4a4a" stroke-width="0.55"/>
<line x1="184.76" y1="233.50" x2="184.76" y2="230.50" stroke="#5a5a5a" stroke-width="0.55"/>
<line x1="183.46" y1="230.50" x2="186.06" y2="230.50" stroke="#4a4a4a" stroke-width="0.55"/>
<line x1="208.00" y1="249.60" x2="208.00" y2="246.60" stroke="#5a5a5a" stroke-width="0.55"/>
<line x1="206.70" y1="246.60" x2="209.30" y2="246.60" stroke="#4a4a4a" stroke-width="0.55"/>
<line x1="219.62" y1="248.00" x2="219.62" y2="245.00" stroke="#5a5a5a" stroke-width="0.55"/>
<line x1="218.32" y1="245.00" x2="220.92" y2="245.00" stroke="#4a4a4a" stroke-width="0.55"/>
<rect x="148.30" y="250.00" width="3.20" height="3.20" fill="#111"/>
<rect x="159.92" y="239.40" width="3.20" height="3.20" fill="#111"/>
<rect x="171.54" y="228.60" width="3.20" height="3.20" fill="#111"/>
<rect x="183.16" y="231.90" width="3.20" height="3.20" fill="#111"/>
<rect x="194.78" y="247.20" width="3.20" height="3.20" fill="#111"/>
<rect x="206.40" y="248.00" width="3.20" height="3.20" fill="#111"/>
<rect x="218.02" y="246.40" width="3.20" height="3.20" fill="#111"/>
<text x="160.75" y="211.90" font-size="6.9" text-anchor="start" font-weight="normal" font-style="normal" fill="#111" stroke="#111" stroke-width="0.12">T</text>
<text x="165.25" y="214.30" font-size="4.6" text-anchor="start" font-weight="normal" font-style="normal" fill="#111" stroke="#111" stroke-width="0.08">CM</text>
<line x1="240.75" y1="218.00" x2="240.75" y2="272.50" stroke="#444" stroke-width="0.65"/>
<line x1="240.75" y1="272.50" x2="321.25" y2="272.50" stroke="#444" stroke-width="0.65"/>
<line x1="239.55" y1="218.75" x2="240.75" y2="218.75" stroke="#444" stroke-width="0.45"/>
<text x="239.15" y="220.37" font-size="4.5" text-anchor="end" font-weight="normal" font-style="normal" fill="#333" stroke="#333" stroke-width="0.08">4</text>
<line x1="239.55" y1="236.25" x2="240.75" y2="236.25" stroke="#444" stroke-width="0.45"/>
<text x="239.15" y="237.87" font-size="4.5" text-anchor="end" font-weight="normal" font-style="normal" fill="#333" stroke="#333" stroke-width="0.08">2</text>
<line x1="239.55" y1="254.25" x2="240.75" y2="254.25" stroke="#444" stroke-width="0.45"/>
<text x="239.15" y="255.87" font-size="4.5" text-anchor="end" font-weight="normal" font-style="normal" fill="#333" stroke="#333" stroke-width="0.08">1</text>
<line x1="239.55" y1="272.00" x2="240.75" y2="272.00" stroke="#444" stroke-width="0.45"/>
<text x="239.15" y="273.62" font-size="4.5" text-anchor="end" font-weight="normal" font-style="normal" fill="#333" stroke="#333" stroke-width="0.08">0.5</text>
<line x1="246.70" y1="272.50" x2="246.70" y2="273.70" stroke="#444" stroke-width="0.45"/>
<line x1="258.32" y1="272.50" x2="258.32" y2="273.70" stroke="#444" stroke-width="0.45"/>
<line x1="269.94" y1="272.50" x2="269.94" y2="273.70" stroke="#444" stroke-width="0.45"/>
<line x1="281.56" y1="272.50" x2="281.56" y2="273.70" stroke="#444" stroke-width="0.45"/>
<line x1="293.18" y1="272.50" x2="293.18" y2="273.70" stroke="#444" stroke-width="0.45"/>
<line x1="304.80" y1="272.50" x2="304.80" y2="273.70" stroke="#444" stroke-width="0.45"/>
<line x1="316.42" y1="272.50" x2="316.42" y2="273.70" stroke="#444" stroke-width="0.45"/>
<polyline points="246.70,254.20 258.32,252.90 269.94,254.50 281.56,257.50 293.18,257.50 304.80,253.20 316.42,246.30" fill="none" stroke="#1a1a1a" stroke-width="0.8"/>
<line x1="258.32" y1="252.90" x2="258.32" y2="245.90" stroke="#5a5a5a" stroke-width="0.55"/>
<line x1="257.02" y1="245.90" x2="259.62" y2="245.90" stroke="#4a4a4a" stroke-width="0.55"/>
<line x1="269.94" y1="254.50" x2="269.94" y2="247.50" stroke="#5a5a5a" stroke-width="0.55"/>
<line x1="268.64" y1="247.50" x2="271.24" y2="247.50" stroke="#4a4a4a" stroke-width="0.55"/>
<line x1="281.56" y1="257.50" x2="281.56" y2="250.50" stroke="#5a5a5a" stroke-width="0.55"/>
<line x1="280.26" y1="250.50" x2="282.86" y2="250.50" stroke="#4a4a4a" stroke-width="0.55"/>
<line x1="293.18" y1="257.50" x2="293.18" y2="253.50" stroke="#5a5a5a" stroke-width="0.55"/>
<line x1="291.88" y1="253.50" x2="294.48" y2="253.50" stroke="#4a4a4a" stroke-width="0.55"/>
<path d="M246.70,252.85 L248.05,254.20 L246.70,255.55 L245.35,254.20 Z" fill="#111"/>
<path d="M258.32,251.55 L259.67,252.90 L258.32,254.25 L256.97,252.90 Z" fill="#111"/>
<path d="M269.94,253.15 L271.29,254.50 L269.94,255.85 L268.59,254.50 Z" fill="#111"/>
<path d="M281.56,256.15 L282.91,257.50 L281.56,258.85 L280.21,257.50 Z" fill="#111"/>
<path d="M293.18,256.15 L294.53,257.50 L293.18,258.85 L291.83,257.50 Z" fill="#111"/>
<path d="M304.80,251.85 L306.15,253.20 L304.80,254.55 L303.45,253.20 Z" fill="#111"/>
<path d="M316.42,244.95 L317.77,246.30 L316.42,247.65 L315.07,246.30 Z" fill="#111"/>
<polyline points="246.70,254.20 258.32,252.90 269.94,245.00 281.56,229.50 293.18,248.80 304.80,253.20 316.42,261.10" fill="none" stroke="#1a1a1a" stroke-width="0.8"/>
<line x1="316.42" y1="261.10" x2="316.42" y2="257.10" stroke="#5a5a5a" stroke-width="0.55"/>
<line x1="315.12" y1="257.10" x2="317.72" y2="257.10" stroke="#4a4a4a" stroke-width="0.55"/>
<circle cx="246.70" cy="254.20" r="1.75" fill="#111"/>
<circle cx="258.32" cy="252.90" r="1.75" fill="#111"/>
<circle cx="269.94" cy="245.00" r="1.75" fill="#111"/>
<circle cx="281.56" cy="229.50" r="1.75" fill="#111"/>
<circle cx="293.18" cy="248.80" r="1.75" fill="#111"/>
<circle cx="304.80" cy="253.20" r="1.75" fill="#111"/>
<circle cx="316.42" cy="261.10" r="1.75" fill="#111"/>
<polyline points="246.70,254.20 258.32,239.70 269.94,236.40 281.56,236.10 293.18,246.30 304.80,248.80 316.42,247.10" fill="none" stroke="#1a1a1a" stroke-width="0.8"/>
<path d="M246.70,252.30 L248.50,255.44 L244.89,255.44 Z" fill="#111"/>
<path d="M258.32,237.80 L260.12,240.94 L256.51,240.94 Z" fill="#111"/>
<path d="M269.94,234.50 L271.75,237.64 L268.13,237.64 Z" fill="#111"/>
<path d="M281.56,234.20 L283.37,237.34 L279.75,237.34 Z" fill="#111"/>
<path d="M293.18,244.40 L294.99,247.54 L291.38,247.54 Z" fill="#111"/>
<path d="M304.80,246.90 L306.60,250.04 L302.99,250.04 Z" fill="#111"/>
<path d="M316.42,245.20 L318.22,248.34 L314.61,248.34 Z" fill="#111"/>
<polyline points="246.70,254.20 258.32,234.40 269.94,227.40 281.56,225.20 293.18,243.80 304.80,243.80 316.42,245.50" fill="none" stroke="#1a1a1a" stroke-width="0.8"/>
<line x1="258.32" y1="234.40" x2="258.32" y2="230.40" stroke="#5a5a5a" stroke-width="0.55"/>
<line x1="257.02" y1="230.40" x2="259.62" y2="230.40" stroke="#4a4a4a" stroke-width="0.55"/>
<line x1="269.94" y1="227.40" x2="269.94" y2="222.40" stroke="#5a5a5a" stroke-width="0.55"/>
<line x1="268.64" y1="222.40" x2="271.24" y2="222.40" stroke="#4a4a4a" stroke-width="0.55"/>
<line x1="293.18" y1="243.80" x2="293.18" y2="239.80" stroke="#5a5a5a" stroke-width="0.55"/>
<line x1="291.88" y1="239.80" x2="294.48" y2="239.80" stroke="#4a4a4a" stroke-width="0.55"/>
<line x1="304.80" y1="243.80" x2="304.80" y2="238.80" stroke="#5a5a5a" stroke-width="0.55"/>
<line x1="303.50" y1="238.80" x2="306.10" y2="238.80" stroke="#4a4a4a" stroke-width="0.55"/>
<line x1="316.42" y1="245.50" x2="316.42" y2="242.50" stroke="#5a5a5a" stroke-width="0.55"/>
<line x1="315.12" y1="242.50" x2="317.72" y2="242.50" stroke="#4a4a4a" stroke-width="0.55"/>
<rect x="245.10" y="252.60" width="3.20" height="3.20" fill="#111"/>
<rect x="256.72" y="232.80" width="3.20" height="3.20" fill="#111"/>
<rect x="268.34" y="225.80" width="3.20" height="3.20" fill="#111"/>
<rect x="279.96" y="223.60" width="3.20" height="3.20" fill="#111"/>
<rect x="291.58" y="242.20" width="3.20" height="3.20" fill="#111"/>
<rect x="303.20" y="242.20" width="3.20" height="3.20" fill="#111"/>
<rect x="314.82" y="243.90" width="3.20" height="3.20" fill="#111"/>
<text x="256.35" y="211.90" font-size="6.9" text-anchor="start" font-weight="normal" font-style="normal" fill="#111" stroke="#111" stroke-width="0.12">T</text>
<text x="260.85" y="214.30" font-size="4.6" text-anchor="start" font-weight="normal" font-style="normal" fill="#111" stroke="#111" stroke-width="0.08">TM</text>
<line x1="338.80" y1="218.00" x2="338.80" y2="272.50" stroke="#444" stroke-width="0.65"/>
<line x1="338.80" y1="272.50" x2="419.30" y2="272.50" stroke="#444" stroke-width="0.65"/>
<line x1="337.60" y1="222.50" x2="338.80" y2="222.50" stroke="#444" stroke-width="0.45"/>
<text x="337.20" y="224.12" font-size="4.5" text-anchor="end" font-weight="normal" font-style="normal" fill="#333" stroke="#333" stroke-width="0.08">10</text>
<line x1="337.60" y1="247.50" x2="338.80" y2="247.50" stroke="#444" stroke-width="0.45"/>
<text x="337.20" y="249.12" font-size="4.5" text-anchor="end" font-weight="normal" font-style="normal" fill="#333" stroke="#333" stroke-width="0.08">1</text>
<line x1="337.60" y1="272.50" x2="338.80" y2="272.50" stroke="#444" stroke-width="0.45"/>
<text x="337.20" y="274.12" font-size="4.5" text-anchor="end" font-weight="normal" font-style="normal" fill="#333" stroke="#333" stroke-width="0.08">0.1</text>
<line x1="343.70" y1="272.50" x2="343.70" y2="273.70" stroke="#444" stroke-width="0.45"/>
<line x1="355.32" y1="272.50" x2="355.32" y2="273.70" stroke="#444" stroke-width="0.45"/>
<line x1="366.94" y1="272.50" x2="366.94" y2="273.70" stroke="#444" stroke-width="0.45"/>
<line x1="378.56" y1="272.50" x2="378.56" y2="273.70" stroke="#444" stroke-width="0.45"/>
<line x1="390.18" y1="272.50" x2="390.18" y2="273.70" stroke="#444" stroke-width="0.45"/>
<line x1="401.80" y1="272.50" x2="401.80" y2="273.70" stroke="#444" stroke-width="0.45"/>
<line x1="413.42" y1="272.50" x2="413.42" y2="273.70" stroke="#444" stroke-width="0.45"/>
<polyline points="343.70,248.00 355.32,244.30 366.94,243.30 378.56,253.20 390.18,254.50 401.80,249.00 413.42,254.50" fill="none" stroke="#1a1a1a" stroke-width="0.8"/>
<line x1="378.56" y1="253.20" x2="378.56" y2="250.20" stroke="#5a5a5a" stroke-width="0.55"/>
<line x1="377.26" y1="250.20" x2="379.86" y2="250.20" stroke="#4a4a4a" stroke-width="0.55"/>
<path d="M343.70,246.65 L345.05,248.00 L343.70,249.35 L342.35,248.00 Z" fill="#111"/>
<path d="M355.32,242.95 L356.67,244.30 L355.32,245.65 L353.97,244.30 Z" fill="#111"/>
<path d="M366.94,241.95 L368.29,243.30 L366.94,244.65 L365.59,243.30 Z" fill="#111"/>
<path d="M378.56,251.85 L379.91,253.20 L378.56,254.55 L377.21,253.20 Z" fill="#111"/>
<path d="M390.18,253.15 L391.53,254.50 L390.18,255.85 L388.83,254.50 Z" fill="#111"/>
<path d="M401.80,247.65 L403.15,249.00 L401.80,250.35 L400.45,249.00 Z" fill="#111"/>
<path d="M413.42,253.15 L414.77,254.50 L413.42,255.85 L412.07,254.50 Z" fill="#111"/>
<polyline points="343.70,248.00 355.32,241.70 366.94,243.30 378.56,230.20 390.18,247.10 401.80,244.70 413.42,259.80" fill="none" stroke="#1a1a1a" stroke-width="0.8"/>
<line x1="366.94" y1="243.30" x2="366.94" y2="239.30" stroke="#5a5a5a" stroke-width="0.55"/>
<line x1="365.64" y1="239.30" x2="368.24" y2="239.30" stroke="#4a4a4a" stroke-width="0.55"/>
<circle cx="343.70" cy="248.00" r="1.75" fill="#111"/>
<circle cx="355.32" cy="241.70" r="1.75" fill="#111"/>
<circle cx="366.94" cy="243.30" r="1.75" fill="#111"/>
<circle cx="378.56" cy="230.20" r="1.75" fill="#111"/>
<circle cx="390.18" cy="247.10" r="1.75" fill="#111"/>
<circle cx="401.80" cy="244.70" r="1.75" fill="#111"/>
<circle cx="413.42" cy="259.80" r="1.75" fill="#111"/>
<polyline points="343.70,248.00 355.32,234.40 366.94,226.50 378.56,240.50 390.18,247.10 401.80,250.40 413.42,254.50" fill="none" stroke="#1a1a1a" stroke-width="0.8"/>
<path d="M343.70,246.10 L345.50,249.24 L341.89,249.24 Z" fill="#111"/>
<path d="M355.32,232.50 L357.12,235.64 L353.51,235.64 Z" fill="#111"/>
<path d="M366.94,224.60 L368.75,227.74 L365.13,227.74 Z" fill="#111"/>
<path d="M378.56,238.60 L380.37,241.74 L376.75,241.74 Z" fill="#111"/>
<path d="M390.18,245.20 L391.99,248.34 L388.38,248.34 Z" fill="#111"/>
<path d="M401.80,248.50 L403.60,251.64 L399.99,251.64 Z" fill="#111"/>
<path d="M413.42,252.60 L415.22,255.74 L411.61,255.74 Z" fill="#111"/>
<polyline points="343.70,248.00 355.32,229.50 366.94,226.50 378.56,230.20 390.18,248.00 401.80,247.00 413.42,249.60" fill="none" stroke="#1a1a1a" stroke-width="0.8"/>
<line x1="366.94" y1="226.50" x2="366.94" y2="222.50" stroke="#5a5a5a" stroke-width="0.55"/>
<line x1="365.64" y1="222.50" x2="368.24" y2="222.50" stroke="#4a4a4a" stroke-width="0.55"/>
<line x1="378.56" y1="230.20" x2="378.56" y2="227.20" stroke="#5a5a5a" stroke-width="0.55"/>
<line x1="377.26" y1="227.20" x2="379.86" y2="227.20" stroke="#4a4a4a" stroke-width="0.55"/>
<line x1="401.80" y1="247.00" x2="401.80" y2="244.00" stroke="#5a5a5a" stroke-width="0.55"/>
<line x1="400.50" y1="244.00" x2="403.10" y2="244.00" stroke="#4a4a4a" stroke-width="0.55"/>
<rect x="342.10" y="246.40" width="3.20" height="3.20" fill="#111"/>
<rect x="353.72" y="227.90" width="3.20" height="3.20" fill="#111"/>
<rect x="365.34" y="224.90" width="3.20" height="3.20" fill="#111"/>
<rect x="376.96" y="228.60" width="3.20" height="3.20" fill="#111"/>
<rect x="388.58" y="246.40" width="3.20" height="3.20" fill="#111"/>
<rect x="400.20" y="245.40" width="3.20" height="3.20" fill="#111"/>
<rect x="411.82" y="248.00" width="3.20" height="3.20" fill="#111"/>
<polygon points="355.50,216.40 356.21,218.12 358.07,218.27 356.66,219.48 357.09,221.28 355.50,220.31 353.91,221.28 354.34,219.48 352.93,218.27 354.79,218.12" fill="#111"/>
<text x="350.10" y="211.90" font-size="6.9" text-anchor="start" font-weight="normal" font-style="normal" fill="#111" stroke="#111" stroke-width="0.12">T</text>
<text x="354.60" y="214.30" font-size="4.6" text-anchor="start" font-weight="normal" font-style="normal" fill="#111" stroke="#111" stroke-width="0.08">EM</text>
<line x1="434.90" y1="218.00" x2="434.90" y2="272.50" stroke="#444" stroke-width="0.65"/>
<line x1="434.90" y1="272.50" x2="515.40" y2="272.50" stroke="#444" stroke-width="0.65"/>
<line x1="433.70" y1="218.00" x2="434.90" y2="218.00" stroke="#444" stroke-width="0.45"/>
<text x="433.30" y="219.62" font-size="4.5" text-anchor="end" font-weight="normal" font-style="normal" fill="#333" stroke="#333" stroke-width="0.08">10</text>
<line x1="433.70" y1="245.50" x2="434.90" y2="245.50" stroke="#444" stroke-width="0.45"/>
<text x="433.30" y="247.12" font-size="4.5" text-anchor="end" font-weight="normal" font-style="normal" fill="#333" stroke="#333" stroke-width="0.08">1</text>
<line x1="433.70" y1="272.50" x2="434.90" y2="272.50" stroke="#444" stroke-width="0.45"/>
<text x="433.30" y="274.12" font-size="4.5" text-anchor="end" font-weight="normal" font-style="normal" fill="#333" stroke="#333" stroke-width="0.08">0.1</text>
<line x1="440.40" y1="272.50" x2="440.40" y2="273.70" stroke="#444" stroke-width="0.45"/>
<line x1="452.02" y1="272.50" x2="452.02" y2="273.70" stroke="#444" stroke-width="0.45"/>
<line x1="463.64" y1="272.50" x2="463.64" y2="273.70" stroke="#444" stroke-width="0.45"/>
<line x1="475.26" y1="272.50" x2="475.26" y2="273.70" stroke="#444" stroke-width="0.45"/>
<line x1="486.88" y1="272.50" x2="486.88" y2="273.70" stroke="#444" stroke-width="0.45"/>
<line x1="498.50" y1="272.50" x2="498.50" y2="273.70" stroke="#444" stroke-width="0.45"/>
<line x1="510.12" y1="272.50" x2="510.12" y2="273.70" stroke="#444" stroke-width="0.45"/>
<polyline points="440.40,245.10 452.02,238.90 463.64,250.40 475.26,252.60 486.88,250.00 498.50,245.10 510.12,254.50" fill="none" stroke="#1a1a1a" stroke-width="0.8"/>
<line x1="475.26" y1="252.60" x2="475.26" y2="249.60" stroke="#5a5a5a" stroke-width="0.55"/>
<line x1="473.96" y1="249.60" x2="476.56" y2="249.60" stroke="#4a4a4a" stroke-width="0.55"/>
<path d="M440.40,243.75 L441.75,245.10 L440.40,246.45 L439.05,245.10 Z" fill="#111"/>
<path d="M452.02,237.55 L453.37,238.90 L452.02,240.25 L450.67,238.90 Z" fill="#111"/>
<path d="M463.64,249.05 L464.99,250.40 L463.64,251.75 L462.29,250.40 Z" fill="#111"/>
<path d="M475.26,251.25 L476.61,252.60 L475.26,253.95 L473.91,252.60 Z" fill="#111"/>
<path d="M486.88,248.65 L488.23,250.00 L486.88,251.35 L485.53,250.00 Z" fill="#111"/>
<path d="M498.50,243.75 L499.85,245.10 L498.50,246.45 L497.15,245.10 Z" fill="#111"/>
<path d="M510.12,253.15 L511.47,254.50 L510.12,255.85 L508.77,254.50 Z" fill="#111"/>
<polyline points="440.40,245.10 452.02,238.90 463.64,246.60 475.26,229.00 486.88,243.50 498.50,235.60 510.12,263.10" fill="none" stroke="#1a1a1a" stroke-width="0.8"/>
<line x1="510.12" y1="263.10" x2="510.12" y2="259.10" stroke="#5a5a5a" stroke-width="0.55"/>
<line x1="508.82" y1="259.10" x2="511.42" y2="259.10" stroke="#4a4a4a" stroke-width="0.55"/>
<circle cx="440.40" cy="245.10" r="1.75" fill="#111"/>
<circle cx="452.02" cy="238.90" r="1.75" fill="#111"/>
<circle cx="463.64" cy="246.60" r="1.75" fill="#111"/>
<circle cx="475.26" cy="229.00" r="1.75" fill="#111"/>
<circle cx="486.88" cy="243.50" r="1.75" fill="#111"/>
<circle cx="498.50" cy="235.60" r="1.75" fill="#111"/>
<circle cx="510.12" cy="263.10" r="1.75" fill="#111"/>
<polyline points="440.40,245.10 452.02,231.10 463.64,238.10 475.26,239.70 486.88,242.70 498.50,239.70 510.12,254.50" fill="none" stroke="#1a1a1a" stroke-width="0.8"/>
<line x1="463.64" y1="238.10" x2="463.64" y2="234.10" stroke="#5a5a5a" stroke-width="0.55"/>
<line x1="462.34" y1="234.10" x2="464.94" y2="234.10" stroke="#4a4a4a" stroke-width="0.55"/>
<path d="M440.40,243.20 L442.20,246.34 L438.59,246.34 Z" fill="#111"/>
<path d="M452.02,229.20 L453.82,232.34 L450.21,232.34 Z" fill="#111"/>
<path d="M463.64,236.20 L465.44,239.34 L461.83,239.34 Z" fill="#111"/>
<path d="M475.26,237.80 L477.06,240.94 L473.45,240.94 Z" fill="#111"/>
<path d="M486.88,240.80 L488.69,243.94 L485.07,243.94 Z" fill="#111"/>
<path d="M498.50,237.80 L500.31,240.94 L496.69,240.94 Z" fill="#111"/>
<path d="M510.12,252.60 L511.93,255.74 L508.31,255.74 Z" fill="#111"/>
<polyline points="440.40,245.10 452.02,227.40 463.64,229.50 475.26,229.00 486.88,244.30 498.50,245.10 510.12,251.20" fill="none" stroke="#1a1a1a" stroke-width="0.8"/>
<line x1="452.02" y1="227.40" x2="452.02" y2="224.40" stroke="#5a5a5a" stroke-width="0.55"/>
<line x1="450.72" y1="224.40" x2="453.32" y2="224.40" stroke="#4a4a4a" stroke-width="0.55"/>
<line x1="463.64" y1="229.50" x2="463.64" y2="226.50" stroke="#5a5a5a" stroke-width="0.55"/>
<line x1="462.34" y1="226.50" x2="464.94" y2="226.50" stroke="#4a4a4a" stroke-width="0.55"/>
<line x1="475.26" y1="229.00" x2="475.26" y2="226.00" stroke="#5a5a5a" stroke-width="0.55"/>
<line x1="473.96" y1="226.00" x2="476.56" y2="226.00" stroke="#4a4a4a" stroke-width="0.55"/>
<line x1="486.88" y1="244.30" x2="486.88" y2="241.30" stroke="#5a5a5a" stroke-width="0.55"/>
<line x1="485.58" y1="241.30" x2="488.18" y2="241.30" stroke="#4a4a4a" stroke-width="0.55"/>
<line x1="498.50" y1="245.10" x2="498.50" y2="242.10" stroke="#5a5a5a" stroke-width="0.55"/>
<line x1="497.20" y1="242.10" x2="499.80" y2="242.10" stroke="#4a4a4a" stroke-width="0.55"/>
<line x1="510.12" y1="251.20" x2="510.12" y2="247.20" stroke="#5a5a5a" stroke-width="0.55"/>
<line x1="508.82" y1="247.20" x2="511.42" y2="247.20" stroke="#4a4a4a" stroke-width="0.55"/>
<rect x="438.80" y="243.50" width="3.20" height="3.20" fill="#111"/>
<rect x="450.42" y="225.80" width="3.20" height="3.20" fill="#111"/>
<rect x="462.04" y="227.90" width="3.20" height="3.20" fill="#111"/>
<rect x="473.66" y="227.40" width="3.20" height="3.20" fill="#111"/>
<rect x="485.28" y="242.70" width="3.20" height="3.20" fill="#111"/>
<rect x="496.90" y="243.50" width="3.20" height="3.20" fill="#111"/>
<rect x="508.52" y="249.60" width="3.20" height="3.20" fill="#111"/>
<text x="445.70" y="211.90" font-size="6.9" text-anchor="start" font-weight="normal" font-style="normal" fill="#111" stroke="#111" stroke-width="0.12">T</text>
<text x="450.20" y="214.30" font-size="4.6" text-anchor="start" font-weight="normal" font-style="normal" fill="#111" stroke="#111" stroke-width="0.08">TE</text>
<line x1="47.30" y1="279.80" x2="47.30" y2="334.00" stroke="#444" stroke-width="0.65"/>
<line x1="47.30" y1="334.00" x2="127.80" y2="334.00" stroke="#444" stroke-width="0.65"/>
<line x1="46.10" y1="280.50" x2="47.30" y2="280.50" stroke="#444" stroke-width="0.45"/>
<text x="45.70" y="282.12" font-size="4.5" text-anchor="end" font-weight="normal" font-style="normal" fill="#333" stroke="#333" stroke-width="0.08">4</text>
<line x1="46.10" y1="299.00" x2="47.30" y2="299.00" stroke="#444" stroke-width="0.45"/>
<text x="45.70" y="300.62" font-size="4.5" text-anchor="end" font-weight="normal" font-style="normal" fill="#333" stroke="#333" stroke-width="0.08">2</text>
<line x1="46.10" y1="316.00" x2="47.30" y2="316.00" stroke="#444" stroke-width="0.45"/>
<text x="45.70" y="317.62" font-size="4.5" text-anchor="end" font-weight="normal" font-style="normal" fill="#333" stroke="#333" stroke-width="0.08">1</text>
<line x1="46.10" y1="333.90" x2="47.30" y2="333.90" stroke="#444" stroke-width="0.45"/>
<text x="45.70" y="335.52" font-size="4.5" text-anchor="end" font-weight="normal" font-style="normal" fill="#333" stroke="#333" stroke-width="0.08">0.5</text>
<line x1="52.90" y1="334.00" x2="52.90" y2="335.20" stroke="#444" stroke-width="0.45"/>
<line x1="64.52" y1="334.00" x2="64.52" y2="335.20" stroke="#444" stroke-width="0.45"/>
<line x1="76.14" y1="334.00" x2="76.14" y2="335.20" stroke="#444" stroke-width="0.45"/>
<line x1="87.76" y1="334.00" x2="87.76" y2="335.20" stroke="#444" stroke-width="0.45"/>
<line x1="99.38" y1="334.00" x2="99.38" y2="335.20" stroke="#444" stroke-width="0.45"/>
<line x1="111.00" y1="334.00" x2="111.00" y2="335.20" stroke="#444" stroke-width="0.45"/>
<line x1="122.62" y1="334.00" x2="122.62" y2="335.20" stroke="#444" stroke-width="0.45"/>
<line x1="57.90" y1="334.30" x2="72.70" y2="334.30" stroke="#808080" stroke-width="2.0"/>
<text x="53.60" y="342.50" font-size="6.4" text-anchor="middle" font-weight="bold" font-style="normal" fill="#1a1a1a" stroke="#1a1a1a" stroke-width="0.06">-7</text>
<text x="65.22" y="342.50" font-size="6.4" text-anchor="middle" font-weight="bold" font-style="normal" fill="#1a1a1a" stroke="#1a1a1a" stroke-width="0.06">8</text>
<text x="76.84" y="342.50" font-size="6.4" text-anchor="middle" font-weight="bold" font-style="normal" fill="#1a1a1a" stroke="#1a1a1a" stroke-width="0.06">13</text>
<text x="88.46" y="342.50" font-size="6.4" text-anchor="middle" font-weight="bold" font-style="normal" fill="#1a1a1a" stroke="#1a1a1a" stroke-width="0.06">15</text>
<text x="100.08" y="342.50" font-size="6.4" text-anchor="middle" font-weight="bold" font-style="normal" fill="#1a1a1a" stroke="#1a1a1a" stroke-width="0.06">22</text>
<text x="111.70" y="342.50" font-size="6.4" text-anchor="middle" font-weight="bold" font-style="normal" fill="#1a1a1a" stroke="#1a1a1a" stroke-width="0.06">29</text>
<text x="123.32" y="342.50" font-size="6.4" text-anchor="middle" font-weight="bold" font-style="normal" fill="#1a1a1a" stroke="#1a1a1a" stroke-width="0.06">48</text>
<polyline points="52.90,316.00 64.52,318.00 76.14,318.00 87.76,328.40 99.38,324.10 111.00,315.50 122.62,322.50" fill="none" stroke="#1a1a1a" stroke-width="0.8"/>
<line x1="64.52" y1="318.00" x2="64.52" y2="315.00" stroke="#5a5a5a" stroke-width="0.55"/>
<line x1="63.22" y1="315.00" x2="65.82" y2="315.00" stroke="#4a4a4a" stroke-width="0.55"/>
<line x1="76.14" y1="318.00" x2="76.14" y2="313.00" stroke="#5a5a5a" stroke-width="0.55"/>
<line x1="74.84" y1="313.00" x2="77.44" y2="313.00" stroke="#4a4a4a" stroke-width="0.55"/>
<line x1="87.76" y1="328.40" x2="87.76" y2="322.40" stroke="#5a5a5a" stroke-width="0.55"/>
<line x1="86.46" y1="322.40" x2="89.06" y2="322.40" stroke="#4a4a4a" stroke-width="0.55"/>
<path d="M52.90,314.65 L54.25,316.00 L52.90,317.35 L51.55,316.00 Z" fill="#111"/>
<path d="M64.52,316.65 L65.87,318.00 L64.52,319.35 L63.17,318.00 Z" fill="#111"/>
<path d="M76.14,316.65 L77.49,318.00 L76.14,319.35 L74.79,318.00 Z" fill="#111"/>
<path d="M87.76,327.05 L89.11,328.40 L87.76,329.75 L86.41,328.40 Z" fill="#111"/>
<path d="M99.38,322.75 L100.73,324.10 L99.38,325.45 L98.03,324.10 Z" fill="#111"/>
<path d="M111.00,314.15 L112.35,315.50 L111.00,316.85 L109.65,315.50 Z" fill="#111"/>
<path d="M122.62,321.15 L123.97,322.50 L122.62,323.85 L121.27,322.50 Z" fill="#111"/>
<polyline points="52.90,316.00 64.52,319.30 76.14,304.50 87.76,306.80 99.38,328.80 111.00,319.30 122.62,333.00" fill="none" stroke="#1a1a1a" stroke-width="0.8"/>
<line x1="111.00" y1="319.30" x2="111.00" y2="313.30" stroke="#5a5a5a" stroke-width="0.55"/>
<line x1="109.70" y1="313.30" x2="112.30" y2="313.30" stroke="#4a4a4a" stroke-width="0.55"/>
<line x1="122.62" y1="333.00" x2="122.62" y2="328.00" stroke="#5a5a5a" stroke-width="0.55"/>
<line x1="121.32" y1="328.00" x2="123.92" y2="328.00" stroke="#4a4a4a" stroke-width="0.55"/>
<circle cx="52.90" cy="316.00" r="1.75" fill="#111"/>
<circle cx="64.52" cy="319.30" r="1.75" fill="#111"/>
<circle cx="76.14" cy="304.50" r="1.75" fill="#111"/>
<circle cx="87.76" cy="306.80" r="1.75" fill="#111"/>
<circle cx="99.38" cy="328.80" r="1.75" fill="#111"/>
<circle cx="111.00" cy="319.30" r="1.75" fill="#111"/>
<circle cx="122.62" cy="333.00" r="1.75" fill="#111"/>
<polyline points="52.90,316.00 64.52,300.40 76.14,299.00 87.76,312.60 99.38,319.20 111.00,326.20 122.62,310.60" fill="none" stroke="#1a1a1a" stroke-width="0.8"/>
<line x1="64.52" y1="300.40" x2="64.52" y2="295.40" stroke="#5a5a5a" stroke-width="0.55"/>
<line x1="63.22" y1="295.40" x2="65.82" y2="295.40" stroke="#4a4a4a" stroke-width="0.55"/>
<path d="M52.90,314.10 L54.70,317.24 L51.09,317.24 Z" fill="#111"/>
<path d="M64.52,298.50 L66.33,301.63 L62.71,301.63 Z" fill="#111"/>
<path d="M76.14,297.10 L77.95,300.24 L74.33,300.24 Z" fill="#111"/>
<path d="M87.76,310.70 L89.56,313.84 L85.95,313.84 Z" fill="#111"/>
<path d="M99.38,317.30 L101.19,320.44 L97.57,320.44 Z" fill="#111"/>
<path d="M111.00,324.30 L112.81,327.44 L109.19,327.44 Z" fill="#111"/>
<path d="M122.62,308.70 L124.43,311.84 L120.81,311.84 Z" fill="#111"/>
<polyline points="52.90,316.00 64.52,305.80 76.14,297.60 87.76,303.70 99.38,313.70 111.00,326.50 122.62,304.00" fill="none" stroke="#1a1a1a" stroke-width="0.8"/>
<line x1="76.14" y1="297.60" x2="76.14" y2="292.60" stroke="#5a5a5a" stroke-width="0.55"/>
<line x1="74.84" y1="292.60" x2="77.44" y2="292.60" stroke="#4a4a4a" stroke-width="0.55"/>
<line x1="87.76" y1="303.70" x2="87.76" y2="299.70" stroke="#5a5a5a" stroke-width="0.55"/>
<line x1="86.46" y1="299.70" x2="89.06" y2="299.70" stroke="#4a4a4a" stroke-width="0.55"/>
<line x1="122.62" y1="304.00" x2="122.62" y2="293.00" stroke="#5a5a5a" stroke-width="0.55"/>
<line x1="121.32" y1="293.00" x2="123.92" y2="293.00" stroke="#4a4a4a" stroke-width="0.55"/>
<rect x="51.30" y="314.40" width="3.20" height="3.20" fill="#111"/>
<rect x="62.92" y="304.20" width="3.20" height="3.20" fill="#111"/>
<rect x="74.54" y="296.00" width="3.20" height="3.20" fill="#111"/>
<rect x="86.16" y="302.10" width="3.20" height="3.20" fill="#111"/>
<rect x="97.78" y="312.10" width="3.20" height="3.20" fill="#111"/>
<rect x="109.40" y="324.90" width="3.20" height="3.20" fill="#111"/>
<rect x="121.02" y="302.40" width="3.20" height="3.20" fill="#111"/>
<line x1="144.25" y1="279.80" x2="144.25" y2="334.00" stroke="#444" stroke-width="0.65"/>
<line x1="144.25" y1="334.00" x2="224.75" y2="334.00" stroke="#444" stroke-width="0.65"/>
<line x1="143.05" y1="288.75" x2="144.25" y2="288.75" stroke="#444" stroke-width="0.45"/>
<text x="142.65" y="290.37" font-size="4.5" text-anchor="end" font-weight="normal" font-style="normal" fill="#333" stroke="#333" stroke-width="0.08">4</text>
<line x1="143.05" y1="304.25" x2="144.25" y2="304.25" stroke="#444" stroke-width="0.45"/>
<text x="142.65" y="305.87" font-size="4.5" text-anchor="end" font-weight="normal" font-style="normal" fill="#333" stroke="#333" stroke-width="0.08">2</text>
<line x1="143.05" y1="319.50" x2="144.25" y2="319.50" stroke="#444" stroke-width="0.45"/>
<text x="142.65" y="321.12" font-size="4.5" text-anchor="end" font-weight="normal" font-style="normal" fill="#333" stroke="#333" stroke-width="0.08">1</text>
<line x1="143.05" y1="334.20" x2="144.25" y2="334.20" stroke="#444" stroke-width="0.45"/>
<text x="142.65" y="335.82" font-size="4.5" text-anchor="end" font-weight="normal" font-style="normal" fill="#333" stroke="#333" stroke-width="0.08">0.5</text>
<line x1="149.90" y1="334.00" x2="149.90" y2="335.20" stroke="#444" stroke-width="0.45"/>
<line x1="161.52" y1="334.00" x2="161.52" y2="335.20" stroke="#444" stroke-width="0.45"/>
<line x1="173.14" y1="334.00" x2="173.14" y2="335.20" stroke="#444" stroke-width="0.45"/>
<line x1="184.76" y1="334.00" x2="184.76" y2="335.20" stroke="#444" stroke-width="0.45"/>
<line x1="196.38" y1="334.00" x2="196.38" y2="335.20" stroke="#444" stroke-width="0.45"/>
<line x1="208.00" y1="334.00" x2="208.00" y2="335.20" stroke="#444" stroke-width="0.45"/>
<line x1="219.62" y1="334.00" x2="219.62" y2="335.20" stroke="#444" stroke-width="0.45"/>
<line x1="154.90" y1="334.30" x2="169.70" y2="334.30" stroke="#808080" stroke-width="2.0"/>
<text x="150.60" y="342.50" font-size="6.4" text-anchor="middle" font-weight="bold" font-style="normal" fill="#1a1a1a" stroke="#1a1a1a" stroke-width="0.06">-7</text>
<text x="162.22" y="342.50" font-size="6.4" text-anchor="middle" font-weight="bold" font-style="normal" fill="#1a1a1a" stroke="#1a1a1a" stroke-width="0.06">8</text>
<text x="173.84" y="342.50" font-size="6.4" text-anchor="middle" font-weight="bold" font-style="normal" fill="#1a1a1a" stroke="#1a1a1a" stroke-width="0.06">13</text>
<text x="185.46" y="342.50" font-size="6.4" text-anchor="middle" font-weight="bold" font-style="normal" fill="#1a1a1a" stroke="#1a1a1a" stroke-width="0.06">15</text>
<text x="197.08" y="342.50" font-size="6.4" text-anchor="middle" font-weight="bold" font-style="normal" fill="#1a1a1a" stroke="#1a1a1a" stroke-width="0.06">22</text>
<text x="208.70" y="342.50" font-size="6.4" text-anchor="middle" font-weight="bold" font-style="normal" fill="#1a1a1a" stroke="#1a1a1a" stroke-width="0.06">29</text>
<text x="220.32" y="342.50" font-size="6.4" text-anchor="middle" font-weight="bold" font-style="normal" fill="#1a1a1a" stroke="#1a1a1a" stroke-width="0.06">48</text>
<polyline points="149.90,319.30 161.52,318.00 173.14,318.00 184.76,321.80 196.38,325.10 208.00,319.30 219.62,322.10" fill="none" stroke="#1a1a1a" stroke-width="0.8"/>
<line x1="161.52" y1="318.00" x2="161.52" y2="316.00" stroke="#5a5a5a" stroke-width="0.55"/>
<line x1="160.22" y1="316.00" x2="162.82" y2="316.00" stroke="#4a4a4a" stroke-width="0.55"/>
<line x1="184.76" y1="321.80" x2="184.76" y2="316.80" stroke="#5a5a5a" stroke-width="0.55"/>
<line x1="183.46" y1="316.80" x2="186.06" y2="316.80" stroke="#4a4a4a" stroke-width="0.55"/>
<line x1="196.38" y1="325.10" x2="196.38" y2="322.10" stroke="#5a5a5a" stroke-width="0.55"/>
<line x1="195.08" y1="322.10" x2="197.68" y2="322.10" stroke="#4a4a4a" stroke-width="0.55"/>
<line x1="219.62" y1="322.10" x2="219.62" y2="319.10" stroke="#5a5a5a" stroke-width="0.55"/>
<line x1="218.32" y1="319.10" x2="220.92" y2="319.10" stroke="#4a4a4a" stroke-width="0.55"/>
<path d="M149.90,317.95 L151.25,319.30 L149.90,320.65 L148.55,319.30 Z" fill="#111"/>
<path d="M161.52,316.65 L162.87,318.00 L161.52,319.35 L160.17,318.00 Z" fill="#111"/>
<path d="M173.14,316.65 L174.49,318.00 L173.14,319.35 L171.79,318.00 Z" fill="#111"/>
<path d="M184.76,320.45 L186.11,321.80 L184.76,323.15 L183.41,321.80 Z" fill="#111"/>
<path d="M196.38,323.75 L197.73,325.10 L196.38,326.45 L195.03,325.10 Z" fill="#111"/>
<path d="M208.00,317.95 L209.35,319.30 L208.00,320.65 L206.65,319.30 Z" fill="#111"/>
<path d="M219.62,320.75 L220.97,322.10 L219.62,323.45 L218.27,322.10 Z" fill="#111"/>
<polyline points="149.90,319.30 161.52,318.00 173.14,310.60 184.76,297.10 196.38,315.50 208.00,311.40 219.62,327.10" fill="none" stroke="#1a1a1a" stroke-width="0.8"/>
<circle cx="149.90" cy="319.30" r="1.75" fill="#111"/>
<circle cx="161.52" cy="318.00" r="1.75" fill="#111"/>
<circle cx="173.14" cy="310.60" r="1.75" fill="#111"/>
<circle cx="184.76" cy="297.10" r="1.75" fill="#111"/>
<circle cx="196.38" cy="315.50" r="1.75" fill="#111"/>
<circle cx="208.00" cy="311.40" r="1.75" fill="#111"/>
<circle cx="219.62" cy="327.10" r="1.75" fill="#111"/>
<polyline points="149.90,319.30 161.52,302.00 173.14,304.00 184.76,304.00 196.38,312.60 208.00,311.40 219.62,311.00" fill="none" stroke="#1a1a1a" stroke-width="0.8"/>
<line x1="161.52" y1="302.00" x2="161.52" y2="299.00" stroke="#5a5a5a" stroke-width="0.55"/>
<line x1="160.22" y1="299.00" x2="162.82" y2="299.00" stroke="#4a4a4a" stroke-width="0.55"/>
<line x1="173.14" y1="304.00" x2="173.14" y2="299.00" stroke="#5a5a5a" stroke-width="0.55"/>
<line x1="171.84" y1="299.00" x2="174.44" y2="299.00" stroke="#4a4a4a" stroke-width="0.55"/>
<path d="M149.90,317.40 L151.71,320.54 L148.09,320.54 Z" fill="#111"/>
<path d="M161.52,300.10 L163.33,303.24 L159.72,303.24 Z" fill="#111"/>
<path d="M173.14,302.10 L174.95,305.24 L171.34,305.24 Z" fill="#111"/>
<path d="M184.76,302.10 L186.56,305.24 L182.95,305.24 Z" fill="#111"/>
<path d="M196.38,310.70 L198.19,313.84 L194.57,313.84 Z" fill="#111"/>
<path d="M208.00,309.50 L209.81,312.63 L206.19,312.63 Z" fill="#111"/>
<path d="M219.62,309.10 L221.43,312.24 L217.81,312.24 Z" fill="#111"/>
<polyline points="149.90,319.30 161.52,292.10 173.14,288.40 184.76,290.00 196.38,301.00 208.00,311.40 219.62,305.70" fill="none" stroke="#1a1a1a" stroke-width="0.8"/>
<line x1="173.14" y1="288.40" x2="173.14" y2="282.40" stroke="#5a5a5a" stroke-width="0.55"/>
<line x1="171.84" y1="282.40" x2="174.44" y2="282.40" stroke="#4a4a4a" stroke-width="0.55"/>
<line x1="196.38" y1="301.00" x2="196.38" y2="298.00" stroke="#5a5a5a" stroke-width="0.55"/>
<line x1="195.08" y1="298.00" x2="197.68" y2="298.00" stroke="#4a4a4a" stroke-width="0.55"/>
<line x1="208.00" y1="311.40" x2="208.00" y2="308.40" stroke="#5a5a5a" stroke-width="0.55"/>
<line x1="206.70" y1="308.40" x2="209.30" y2="308.40" stroke="#4a4a4a" stroke-width="0.55"/>
<line x1="219.62" y1="305.70" x2="219.62" y2="301.70" stroke="#5a5a5a" stroke-width="0.55"/>
<line x1="218.32" y1="301.70" x2="220.92" y2="301.70" stroke="#4a4a4a" stroke-width="0.55"/>
<rect x="148.30" y="317.70" width="3.20" height="3.20" fill="#111"/>
<rect x="159.92" y="290.50" width="3.20" height="3.20" fill="#111"/>
<rect x="171.54" y="286.80" width="3.20" height="3.20" fill="#111"/>
<rect x="183.16" y="288.40" width="3.20" height="3.20" fill="#111"/>
<rect x="194.78" y="299.40" width="3.20" height="3.20" fill="#111"/>
<rect x="206.40" y="309.80" width="3.20" height="3.20" fill="#111"/>
<rect x="218.02" y="304.10" width="3.20" height="3.20" fill="#111"/>
<line x1="240.75" y1="279.80" x2="240.75" y2="334.00" stroke="#444" stroke-width="0.65"/>
<line x1="240.75" y1="334.00" x2="321.25" y2="334.00" stroke="#444" stroke-width="0.65"/>
<line x1="239.55" y1="280.50" x2="240.75" y2="280.50" stroke="#444" stroke-width="0.45"/>
<text x="239.15" y="282.12" font-size="4.5" text-anchor="end" font-weight="normal" font-style="normal" fill="#333" stroke="#333" stroke-width="0.08">8</text>
<line x1="239.55" y1="293.75" x2="240.75" y2="293.75" stroke="#444" stroke-width="0.45"/>
<text x="239.15" y="295.37" font-size="4.5" text-anchor="end" font-weight="normal" font-style="normal" fill="#333" stroke="#333" stroke-width="0.08">4</text>
<line x1="239.55" y1="307.00" x2="240.75" y2="307.00" stroke="#444" stroke-width="0.45"/>
<text x="239.15" y="308.62" font-size="4.5" text-anchor="end" font-weight="normal" font-style="normal" fill="#333" stroke="#333" stroke-width="0.08">2</text>
<line x1="239.55" y1="320.75" x2="240.75" y2="320.75" stroke="#444" stroke-width="0.45"/>
<text x="239.15" y="322.37" font-size="4.5" text-anchor="end" font-weight="normal" font-style="normal" fill="#333" stroke="#333" stroke-width="0.08">1</text>
<line x1="239.55" y1="334.20" x2="240.75" y2="334.20" stroke="#444" stroke-width="0.45"/>
<text x="239.15" y="335.82" font-size="4.5" text-anchor="end" font-weight="normal" font-style="normal" fill="#333" stroke="#333" stroke-width="0.08">0.5</text>
<line x1="246.70" y1="334.00" x2="246.70" y2="335.20" stroke="#444" stroke-width="0.45"/>
<line x1="258.32" y1="334.00" x2="258.32" y2="335.20" stroke="#444" stroke-width="0.45"/>
<line x1="269.94" y1="334.00" x2="269.94" y2="335.20" stroke="#444" stroke-width="0.45"/>
<line x1="281.56" y1="334.00" x2="281.56" y2="335.20" stroke="#444" stroke-width="0.45"/>
<line x1="293.18" y1="334.00" x2="293.18" y2="335.20" stroke="#444" stroke-width="0.45"/>
<line x1="304.80" y1="334.00" x2="304.80" y2="335.20" stroke="#444" stroke-width="0.45"/>
<line x1="316.42" y1="334.00" x2="316.42" y2="335.20" stroke="#444" stroke-width="0.45"/>
<line x1="251.70" y1="334.30" x2="266.50" y2="334.30" stroke="#808080" stroke-width="2.0"/>
<text x="247.40" y="342.50" font-size="6.4" text-anchor="middle" font-weight="bold" font-style="normal" fill="#1a1a1a" stroke="#1a1a1a" stroke-width="0.06">-7</text>
<text x="259.02" y="342.50" font-size="6.4" text-anchor="middle" font-weight="bold" font-style="normal" fill="#1a1a1a" stroke="#1a1a1a" stroke-width="0.06">8</text>
<text x="270.64" y="342.50" font-size="6.4" text-anchor="middle" font-weight="bold" font-style="normal" fill="#1a1a1a" stroke="#1a1a1a" stroke-width="0.06">13</text>
<text x="282.26" y="342.50" font-size="6.4" text-anchor="middle" font-weight="bold" font-style="normal" fill="#1a1a1a" stroke="#1a1a1a" stroke-width="0.06">15</text>
<text x="293.88" y="342.50" font-size="6.4" text-anchor="middle" font-weight="bold" font-style="normal" fill="#1a1a1a" stroke="#1a1a1a" stroke-width="0.06">22</text>
<text x="305.50" y="342.50" font-size="6.4" text-anchor="middle" font-weight="bold" font-style="normal" fill="#1a1a1a" stroke="#1a1a1a" stroke-width="0.06">29</text>
<text x="317.12" y="342.50" font-size="6.4" text-anchor="middle" font-weight="bold" font-style="normal" fill="#1a1a1a" stroke="#1a1a1a" stroke-width="0.06">48</text>
<polyline points="246.70,320.80 258.32,320.20 269.94,325.10 281.56,325.10 293.18,323.00 304.80,315.90 316.42,324.60" fill="none" stroke="#1a1a1a" stroke-width="0.8"/>
<line x1="258.32" y1="320.20" x2="258.32" y2="316.20" stroke="#5a5a5a" stroke-width="0.55"/>
<line x1="257.02" y1="316.20" x2="259.62" y2="316.20" stroke="#4a4a4a" stroke-width="0.55"/>
<line x1="269.94" y1="325.10" x2="269.94" y2="319.10" stroke="#5a5a5a" stroke-width="0.55"/>
<line x1="268.64" y1="319.10" x2="271.24" y2="319.10" stroke="#4a4a4a" stroke-width="0.55"/>
<line x1="281.56" y1="325.10" x2="281.56" y2="322.10" stroke="#5a5a5a" stroke-width="0.55"/>
<line x1="280.26" y1="322.10" x2="282.86" y2="322.10" stroke="#4a4a4a" stroke-width="0.55"/>
<line x1="293.18" y1="323.00" x2="293.18" y2="320.00" stroke="#5a5a5a" stroke-width="0.55"/>
<line x1="291.88" y1="320.00" x2="294.48" y2="320.00" stroke="#4a4a4a" stroke-width="0.55"/>
<path d="M246.70,319.45 L248.05,320.80 L246.70,322.15 L245.35,320.80 Z" fill="#111"/>
<path d="M258.32,318.85 L259.67,320.20 L258.32,321.55 L256.97,320.20 Z" fill="#111"/>
<path d="M269.94,323.75 L271.29,325.10 L269.94,326.45 L268.59,325.10 Z" fill="#111"/>
<path d="M281.56,323.75 L282.91,325.10 L281.56,326.45 L280.21,325.10 Z" fill="#111"/>
<path d="M293.18,321.65 L294.53,323.00 L293.18,324.35 L291.83,323.00 Z" fill="#111"/>
<path d="M304.80,314.55 L306.15,315.90 L304.80,317.25 L303.45,315.90 Z" fill="#111"/>
<path d="M316.42,323.25 L317.77,324.60 L316.42,325.95 L315.07,324.60 Z" fill="#111"/>
<polyline points="246.70,320.80 258.32,320.20 269.94,311.40 281.56,298.20 293.18,312.60 304.80,310.30 316.42,323.80" fill="none" stroke="#1a1a1a" stroke-width="0.8"/>
<line x1="281.56" y1="298.20" x2="281.56" y2="294.20" stroke="#5a5a5a" stroke-width="0.55"/>
<line x1="280.26" y1="294.20" x2="282.86" y2="294.20" stroke="#4a4a4a" stroke-width="0.55"/>
<line x1="316.42" y1="323.80" x2="316.42" y2="319.80" stroke="#5a5a5a" stroke-width="0.55"/>
<line x1="315.12" y1="319.80" x2="317.72" y2="319.80" stroke="#4a4a4a" stroke-width="0.55"/>
<circle cx="246.70" cy="320.80" r="1.75" fill="#111"/>
<circle cx="258.32" cy="320.20" r="1.75" fill="#111"/>
<circle cx="269.94" cy="311.40" r="1.75" fill="#111"/>
<circle cx="281.56" cy="298.20" r="1.75" fill="#111"/>
<circle cx="293.18" cy="312.60" r="1.75" fill="#111"/>
<circle cx="304.80" cy="310.30" r="1.75" fill="#111"/>
<circle cx="316.42" cy="323.80" r="1.75" fill="#111"/>
<polyline points="246.70,320.80 258.32,304.80 269.94,311.40 281.56,298.20 293.18,306.00 304.80,310.30 316.42,323.80" fill="none" stroke="#1a1a1a" stroke-width="0.8"/>
<line x1="258.32" y1="304.80" x2="258.32" y2="300.80" stroke="#5a5a5a" stroke-width="0.55"/>
<line x1="257.02" y1="300.80" x2="259.62" y2="300.80" stroke="#4a4a4a" stroke-width="0.55"/>
<line x1="269.94" y1="311.40" x2="269.94" y2="306.40" stroke="#5a5a5a" stroke-width="0.55"/>
<line x1="268.64" y1="306.40" x2="271.24" y2="306.40" stroke="#4a4a4a" stroke-width="0.55"/>
<path d="M246.70,318.90 L248.50,322.04 L244.89,322.04 Z" fill="#111"/>
<path d="M258.32,302.90 L260.12,306.04 L256.51,306.04 Z" fill="#111"/>
<path d="M269.94,309.50 L271.75,312.63 L268.13,312.63 Z" fill="#111"/>
<path d="M281.56,296.30 L283.37,299.44 L279.75,299.44 Z" fill="#111"/>
<path d="M293.18,304.10 L294.99,307.24 L291.38,307.24 Z" fill="#111"/>
<path d="M304.80,308.40 L306.60,311.54 L302.99,311.54 Z" fill="#111"/>
<path d="M316.42,321.90 L318.22,325.04 L314.61,325.04 Z" fill="#111"/>
<polyline points="246.70,320.80 258.32,294.50 269.94,292.50 281.56,293.80 293.18,296.10 304.80,306.50 316.42,304.80" fill="none" stroke="#1a1a1a" stroke-width="0.8"/>
<line x1="258.32" y1="294.50" x2="258.32" y2="290.50" stroke="#5a5a5a" stroke-width="0.55"/>
<line x1="257.02" y1="290.50" x2="259.62" y2="290.50" stroke="#4a4a4a" stroke-width="0.55"/>
<line x1="269.94" y1="292.50" x2="269.94" y2="285.50" stroke="#5a5a5a" stroke-width="0.55"/>
<line x1="268.64" y1="285.50" x2="271.24" y2="285.50" stroke="#4a4a4a" stroke-width="0.55"/>
<line x1="281.56" y1="293.80" x2="281.56" y2="290.80" stroke="#5a5a5a" stroke-width="0.55"/>
<line x1="280.26" y1="290.80" x2="282.86" y2="290.80" stroke="#4a4a4a" stroke-width="0.55"/>
<line x1="293.18" y1="296.10" x2="293.18" y2="289.10" stroke="#5a5a5a" stroke-width="0.55"/>
<line x1="291.88" y1="289.10" x2="294.48" y2="289.10" stroke="#4a4a4a" stroke-width="0.55"/>
<line x1="304.80" y1="306.50" x2="304.80" y2="300.50" stroke="#5a5a5a" stroke-width="0.55"/>
<line x1="303.50" y1="300.50" x2="306.10" y2="300.50" stroke="#4a4a4a" stroke-width="0.55"/>
<line x1="316.42" y1="304.80" x2="316.42" y2="297.80" stroke="#5a5a5a" stroke-width="0.55"/>
<line x1="315.12" y1="297.80" x2="317.72" y2="297.80" stroke="#4a4a4a" stroke-width="0.55"/>
<rect x="245.10" y="319.20" width="3.20" height="3.20" fill="#111"/>
<rect x="256.72" y="292.90" width="3.20" height="3.20" fill="#111"/>
<rect x="268.34" y="290.90" width="3.20" height="3.20" fill="#111"/>
<rect x="279.96" y="292.20" width="3.20" height="3.20" fill="#111"/>
<rect x="291.58" y="294.50" width="3.20" height="3.20" fill="#111"/>
<rect x="303.20" y="304.90" width="3.20" height="3.20" fill="#111"/>
<rect x="314.82" y="303.20" width="3.20" height="3.20" fill="#111"/>
<line x1="338.80" y1="279.80" x2="338.80" y2="334.00" stroke="#444" stroke-width="0.65"/>
<line x1="338.80" y1="334.00" x2="419.30" y2="334.00" stroke="#444" stroke-width="0.65"/>
<line x1="337.60" y1="290.50" x2="338.80" y2="290.50" stroke="#444" stroke-width="0.45"/>
<text x="337.20" y="292.12" font-size="4.5" text-anchor="end" font-weight="normal" font-style="normal" fill="#333" stroke="#333" stroke-width="0.08">10</text>
<line x1="337.60" y1="312.50" x2="338.80" y2="312.50" stroke="#444" stroke-width="0.45"/>
<text x="337.20" y="314.12" font-size="4.5" text-anchor="end" font-weight="normal" font-style="normal" fill="#333" stroke="#333" stroke-width="0.08">1</text>
<line x1="337.60" y1="334.20" x2="338.80" y2="334.20" stroke="#444" stroke-width="0.45"/>
<text x="337.20" y="335.82" font-size="4.5" text-anchor="end" font-weight="normal" font-style="normal" fill="#333" stroke="#333" stroke-width="0.08">0.1</text>
<line x1="343.70" y1="334.00" x2="343.70" y2="335.20" stroke="#444" stroke-width="0.45"/>
<line x1="355.32" y1="334.00" x2="355.32" y2="335.20" stroke="#444" stroke-width="0.45"/>
<line x1="366.94" y1="334.00" x2="366.94" y2="335.20" stroke="#444" stroke-width="0.45"/>
<line x1="378.56" y1="334.00" x2="378.56" y2="335.20" stroke="#444" stroke-width="0.45"/>
<line x1="390.18" y1="334.00" x2="390.18" y2="335.20" stroke="#444" stroke-width="0.45"/>
<line x1="401.80" y1="334.00" x2="401.80" y2="335.20" stroke="#444" stroke-width="0.45"/>
<line x1="413.42" y1="334.00" x2="413.42" y2="335.20" stroke="#444" stroke-width="0.45"/>
<line x1="348.70" y1="334.30" x2="363.50" y2="334.30" stroke="#808080" stroke-width="2.0"/>
<text x="344.40" y="342.50" font-size="6.4" text-anchor="middle" font-weight="bold" font-style="normal" fill="#1a1a1a" stroke="#1a1a1a" stroke-width="0.06">-7</text>
<text x="356.02" y="342.50" font-size="6.4" text-anchor="middle" font-weight="bold" font-style="normal" fill="#1a1a1a" stroke="#1a1a1a" stroke-width="0.06">8</text>
<text x="367.64" y="342.50" font-size="6.4" text-anchor="middle" font-weight="bold" font-style="normal" fill="#1a1a1a" stroke="#1a1a1a" stroke-width="0.06">13</text>
<text x="379.26" y="342.50" font-size="6.4" text-anchor="middle" font-weight="bold" font-style="normal" fill="#1a1a1a" stroke="#1a1a1a" stroke-width="0.06">15</text>
<text x="390.88" y="342.50" font-size="6.4" text-anchor="middle" font-weight="bold" font-style="normal" fill="#1a1a1a" stroke="#1a1a1a" stroke-width="0.06">22</text>
<text x="402.50" y="342.50" font-size="6.4" text-anchor="middle" font-weight="bold" font-style="normal" fill="#1a1a1a" stroke="#1a1a1a" stroke-width="0.06">29</text>
<text x="414.12" y="342.50" font-size="6.4" text-anchor="middle" font-weight="bold" font-style="normal" fill="#1a1a1a" stroke="#1a1a1a" stroke-width="0.06">48</text>
<polyline points="343.70,312.60 355.32,311.90 366.94,314.70 378.56,315.50 390.18,316.90 401.80,311.00 413.42,318.50" fill="none" stroke="#1a1a1a" stroke-width="0.8"/>
<line x1="366.94" y1="314.70" x2="366.94" y2="311.70" stroke="#5a5a5a" stroke-width="0.55"/>
<line x1="365.64" y1="311.70" x2="368.24" y2="311.70" stroke="#4a4a4a" stroke-width="0.55"/>
<line x1="378.56" y1="315.50" x2="378.56" y2="312.50" stroke="#5a5a5a" stroke-width="0.55"/>
<line x1="377.26" y1="312.50" x2="379.86" y2="312.50" stroke="#4a4a4a" stroke-width="0.55"/>
<path d="M343.70,311.25 L345.05,312.60 L343.70,313.95 L342.35,312.60 Z" fill="#111"/>
<path d="M355.32,310.55 L356.67,311.90 L355.32,313.25 L353.97,311.90 Z" fill="#111"/>
<path d="M366.94,313.35 L368.29,314.70 L366.94,316.05 L365.59,314.70 Z" fill="#111"/>
<path d="M378.56,314.15 L379.91,315.50 L378.56,316.85 L377.21,315.50 Z" fill="#111"/>
<path d="M390.18,315.55 L391.53,316.90 L390.18,318.25 L388.83,316.90 Z" fill="#111"/>
<path d="M401.80,309.65 L403.15,311.00 L401.80,312.35 L400.45,311.00 Z" fill="#111"/>
<path d="M413.42,317.15 L414.77,318.50 L413.42,319.85 L412.07,318.50 Z" fill="#111"/>
<polyline points="343.70,312.60 355.32,306.00 366.94,304.30 378.56,298.20 390.18,311.40 401.80,311.90 413.42,323.00" fill="none" stroke="#1a1a1a" stroke-width="0.8"/>
<circle cx="343.70" cy="312.60" r="1.75" fill="#111"/>
<circle cx="355.32" cy="306.00" r="1.75" fill="#111"/>
<circle cx="366.94" cy="304.30" r="1.75" fill="#111"/>
<circle cx="378.56" cy="298.20" r="1.75" fill="#111"/>
<circle cx="390.18" cy="311.40" r="1.75" fill="#111"/>
<circle cx="401.80" cy="311.90" r="1.75" fill="#111"/>
<circle cx="413.42" cy="323.00" r="1.75" fill="#111"/>
<polyline points="343.70,312.60 355.32,299.90 366.94,299.90 378.56,304.80 390.18,309.80 401.80,308.60 413.42,318.50" fill="none" stroke="#1a1a1a" stroke-width="0.8"/>
<path d="M343.70,310.70 L345.50,313.84 L341.89,313.84 Z" fill="#111"/>
<path d="M355.32,298.00 L357.12,301.13 L353.51,301.13 Z" fill="#111"/>
<path d="M366.94,298.00 L368.75,301.13 L365.13,301.13 Z" fill="#111"/>
<path d="M378.56,302.90 L380.37,306.04 L376.75,306.04 Z" fill="#111"/>
<path d="M390.18,307.90 L391.99,311.04 L388.38,311.04 Z" fill="#111"/>
<path d="M401.80,306.70 L403.60,309.84 L399.99,309.84 Z" fill="#111"/>
<path d="M413.42,316.60 L415.22,319.74 L411.61,319.74 Z" fill="#111"/>
<polyline points="343.70,312.60 355.32,293.80 366.94,286.70 378.56,295.40 390.18,310.50 401.80,309.80 413.42,313.60" fill="none" stroke="#1a1a1a" stroke-width="0.8"/>
<line x1="366.94" y1="286.70" x2="366.94" y2="282.70" stroke="#5a5a5a" stroke-width="0.55"/>
<line x1="365.64" y1="282.70" x2="368.24" y2="282.70" stroke="#4a4a4a" stroke-width="0.55"/>
<line x1="390.18" y1="310.50" x2="390.18" y2="306.50" stroke="#5a5a5a" stroke-width="0.55"/>
<line x1="388.88" y1="306.50" x2="391.48" y2="306.50" stroke="#4a4a4a" stroke-width="0.55"/>
<line x1="401.80" y1="309.80" x2="401.80" y2="305.80" stroke="#5a5a5a" stroke-width="0.55"/>
<line x1="400.50" y1="305.80" x2="403.10" y2="305.80" stroke="#4a4a4a" stroke-width="0.55"/>
<rect x="342.10" y="311.00" width="3.20" height="3.20" fill="#111"/>
<rect x="353.72" y="292.20" width="3.20" height="3.20" fill="#111"/>
<rect x="365.34" y="285.10" width="3.20" height="3.20" fill="#111"/>
<rect x="376.96" y="293.80" width="3.20" height="3.20" fill="#111"/>
<rect x="388.58" y="308.90" width="3.20" height="3.20" fill="#111"/>
<rect x="400.20" y="308.20" width="3.20" height="3.20" fill="#111"/>
<rect x="411.82" y="312.00" width="3.20" height="3.20" fill="#111"/>
<polygon points="354.80,280.70 355.51,282.42 357.37,282.57 355.96,283.78 356.39,285.58 354.80,284.61 353.21,285.58 353.64,283.78 352.23,282.57 354.09,282.42" fill="#111"/>
<line x1="434.90" y1="279.80" x2="434.90" y2="334.00" stroke="#444" stroke-width="0.65"/>
<line x1="434.90" y1="334.00" x2="515.40" y2="334.00" stroke="#444" stroke-width="0.65"/>
<line x1="433.70" y1="287.50" x2="434.90" y2="287.50" stroke="#444" stroke-width="0.45"/>
<text x="433.30" y="289.12" font-size="4.5" text-anchor="end" font-weight="normal" font-style="normal" fill="#333" stroke="#333" stroke-width="0.08">10</text>
<line x1="433.70" y1="311.25" x2="434.90" y2="311.25" stroke="#444" stroke-width="0.45"/>
<text x="433.30" y="312.87" font-size="4.5" text-anchor="end" font-weight="normal" font-style="normal" fill="#333" stroke="#333" stroke-width="0.08">1</text>
<line x1="433.70" y1="334.20" x2="434.90" y2="334.20" stroke="#444" stroke-width="0.45"/>
<text x="433.30" y="335.82" font-size="4.5" text-anchor="end" font-weight="normal" font-style="normal" fill="#333" stroke="#333" stroke-width="0.08">0.1</text>
<line x1="440.40" y1="334.00" x2="440.40" y2="335.20" stroke="#444" stroke-width="0.45"/>
<line x1="452.02" y1="334.00" x2="452.02" y2="335.20" stroke="#444" stroke-width="0.45"/>
<line x1="463.64" y1="334.00" x2="463.64" y2="335.20" stroke="#444" stroke-width="0.45"/>
<line x1="475.26" y1="334.00" x2="475.26" y2="335.20" stroke="#444" stroke-width="0.45"/>
<line x1="486.88" y1="334.00" x2="486.88" y2="335.20" stroke="#444" stroke-width="0.45"/>
<line x1="498.50" y1="334.00" x2="498.50" y2="335.20" stroke="#444" stroke-width="0.45"/>
<line x1="510.12" y1="334.00" x2="510.12" y2="335.20" stroke="#444" stroke-width="0.45"/>
<line x1="445.40" y1="334.30" x2="460.20" y2="334.30" stroke="#808080" stroke-width="2.0"/>
<text x="441.10" y="342.50" font-size="6.4" text-anchor="middle" font-weight="bold" font-style="normal" fill="#1a1a1a" stroke="#1a1a1a" stroke-width="0.06">-7</text>
<text x="452.72" y="342.50" font-size="6.4" text-anchor="middle" font-weight="bold" font-style="normal" fill="#1a1a1a" stroke="#1a1a1a" stroke-width="0.06">8</text>
<text x="464.34" y="342.50" font-size="6.4" text-anchor="middle" font-weight="bold" font-style="normal" fill="#1a1a1a" stroke="#1a1a1a" stroke-width="0.06">13</text>
<text x="475.96" y="342.50" font-size="6.4" text-anchor="middle" font-weight="bold" font-style="normal" fill="#1a1a1a" stroke="#1a1a1a" stroke-width="0.06">15</text>
<text x="487.58" y="342.50" font-size="6.4" text-anchor="middle" font-weight="bold" font-style="normal" fill="#1a1a1a" stroke="#1a1a1a" stroke-width="0.06">22</text>
<text x="499.20" y="342.50" font-size="6.4" text-anchor="middle" font-weight="bold" font-style="normal" fill="#1a1a1a" stroke="#1a1a1a" stroke-width="0.06">29</text>
<text x="510.82" y="342.50" font-size="6.4" text-anchor="middle" font-weight="bold" font-style="normal" fill="#1a1a1a" stroke="#1a1a1a" stroke-width="0.06">48</text>
<polyline points="440.40,310.90 452.02,306.50 463.64,315.50 475.26,315.20 486.88,315.20 498.50,306.00 510.12,316.50" fill="none" stroke="#1a1a1a" stroke-width="0.8"/>
<line x1="463.64" y1="315.50" x2="463.64" y2="311.50" stroke="#5a5a5a" stroke-width="0.55"/>
<line x1="462.34" y1="311.50" x2="464.94" y2="311.50" stroke="#4a4a4a" stroke-width="0.55"/>
<line x1="475.26" y1="315.20" x2="475.26" y2="311.20" stroke="#5a5a5a" stroke-width="0.55"/>
<line x1="473.96" y1="311.20" x2="476.56" y2="311.20" stroke="#4a4a4a" stroke-width="0.55"/>
<path d="M440.40,309.55 L441.75,310.90 L440.40,312.25 L439.05,310.90 Z" fill="#111"/>
<path d="M452.02,305.15 L453.37,306.50 L452.02,307.85 L450.67,306.50 Z" fill="#111"/>
<path d="M463.64,314.15 L464.99,315.50 L463.64,316.85 L462.29,315.50 Z" fill="#111"/>
<path d="M475.26,313.85 L476.61,315.20 L475.26,316.55 L473.91,315.20 Z" fill="#111"/>
<path d="M486.88,313.85 L488.23,315.20 L486.88,316.55 L485.53,315.20 Z" fill="#111"/>
<path d="M498.50,304.65 L499.85,306.00 L498.50,307.35 L497.15,306.00 Z" fill="#111"/>
<path d="M510.12,315.15 L511.47,316.50 L510.12,317.85 L508.77,316.50 Z" fill="#111"/>
<polyline points="440.40,310.90 452.02,306.50 463.64,304.80 475.26,296.50 486.88,309.80 498.50,303.70 510.12,319.20" fill="none" stroke="#1a1a1a" stroke-width="0.8"/>
<circle cx="440.40" cy="310.90" r="1.75" fill="#111"/>
<circle cx="452.02" cy="306.50" r="1.75" fill="#111"/>
<circle cx="463.64" cy="304.80" r="1.75" fill="#111"/>
<circle cx="475.26" cy="296.50" r="1.75" fill="#111"/>
<circle cx="486.88" cy="309.80" r="1.75" fill="#111"/>
<circle cx="498.50" cy="303.70" r="1.75" fill="#111"/>
<circle cx="510.12" cy="319.20" r="1.75" fill="#111"/>
<polyline points="440.40,310.90 452.02,301.00 463.64,302.70 475.26,307.60 486.88,308.10 498.50,306.00 510.12,316.00" fill="none" stroke="#1a1a1a" stroke-width="0.8"/>
<path d="M440.40,309.00 L442.20,312.13 L438.59,312.13 Z" fill="#111"/>
<path d="M452.02,299.10 L453.82,302.24 L450.21,302.24 Z" fill="#111"/>
<path d="M463.64,300.80 L465.44,303.94 L461.83,303.94 Z" fill="#111"/>
<path d="M475.26,305.70 L477.06,308.84 L473.45,308.84 Z" fill="#111"/>
<path d="M486.88,306.20 L488.69,309.34 L485.07,309.34 Z" fill="#111"/>
<path d="M498.50,304.10 L500.31,307.24 L496.69,307.24 Z" fill="#111"/>
<path d="M510.12,314.10 L511.93,317.24 L508.31,317.24 Z" fill="#111"/>
<polyline points="440.40,310.90 452.02,293.30 463.64,287.20 475.26,296.10 486.88,306.50 498.50,305.00 510.12,312.60" fill="none" stroke="#1a1a1a" stroke-width="0.8"/>
<line x1="463.64" y1="287.20" x2="463.64" y2="283.20" stroke="#5a5a5a" stroke-width="0.55"/>
<line x1="462.34" y1="283.20" x2="464.94" y2="283.20" stroke="#4a4a4a" stroke-width="0.55"/>
<line x1="475.26" y1="296.10" x2="475.26" y2="293.10" stroke="#5a5a5a" stroke-width="0.55"/>
<line x1="473.96" y1="293.10" x2="476.56" y2="293.10" stroke="#4a4a4a" stroke-width="0.55"/>
<line x1="486.88" y1="306.50" x2="486.88" y2="302.50" stroke="#5a5a5a" stroke-width="0.55"/>
<line x1="485.58" y1="302.50" x2="488.18" y2="302.50" stroke="#4a4a4a" stroke-width="0.55"/>
<line x1="498.50" y1="305.00" x2="498.50" y2="301.00" stroke="#5a5a5a" stroke-width="0.55"/>
<line x1="497.20" y1="301.00" x2="499.80" y2="301.00" stroke="#4a4a4a" stroke-width="0.55"/>
<line x1="510.12" y1="312.60" x2="510.12" y2="309.60" stroke="#5a5a5a" stroke-width="0.55"/>
<line x1="508.82" y1="309.60" x2="511.42" y2="309.60" stroke="#4a4a4a" stroke-width="0.55"/>
<rect x="438.80" y="309.30" width="3.20" height="3.20" fill="#111"/>
<rect x="450.42" y="291.70" width="3.20" height="3.20" fill="#111"/>
<rect x="462.04" y="285.60" width="3.20" height="3.20" fill="#111"/>
<rect x="473.66" y="294.50" width="3.20" height="3.20" fill="#111"/>
<rect x="485.28" y="304.90" width="3.20" height="3.20" fill="#111"/>
<rect x="496.90" y="303.40" width="3.20" height="3.20" fill="#111"/>
<rect x="508.52" y="311.00" width="3.20" height="3.20" fill="#111"/>
<rect x="92.10" y="208.40" width="23.40" height="26.10" fill="#fff" stroke="#444" stroke-width="0.7"/>
<line x1="95.40" y1="211.90" x2="102.60" y2="211.90" stroke="#222" stroke-width="0.7"/>
<path d="M98.90,210.39 L100.41,211.90 L98.90,213.41 L97.39,211.90 Z" fill="#111"/>
<text x="104.00" y="213.35" font-size="4.1" text-anchor="start" font-weight="normal" font-style="normal" fill="#222" stroke="#222" stroke-width="0.07">Sham</text>
<line x1="95.40" y1="217.80" x2="102.60" y2="217.80" stroke="#222" stroke-width="0.7"/>
<circle cx="98.90" cy="217.80" r="1.96" fill="#111"/>
<text x="104.00" y="219.25" font-size="4.1" text-anchor="start" font-weight="normal" font-style="normal" fill="#222" stroke="#222" stroke-width="0.07">10</text>
<line x1="95.40" y1="224.60" x2="102.60" y2="224.60" stroke="#222" stroke-width="0.7"/>
<path d="M98.90,222.47 L100.92,225.98 L96.88,225.98 Z" fill="#111"/>
<text x="104.00" y="226.05" font-size="4.1" text-anchor="start" font-weight="normal" font-style="normal" fill="#222" stroke="#222" stroke-width="0.07">20</text>
<line x1="95.40" y1="230.70" x2="102.60" y2="230.70" stroke="#222" stroke-width="0.7"/>
<rect x="97.11" y="228.91" width="3.58" height="3.58" fill="#111"/>
<text x="104.00" y="232.15" font-size="4.1" text-anchor="start" font-weight="normal" font-style="normal" fill="#222" stroke="#222" stroke-width="0.07">50</text>
<text x="17.00" y="228.80" font-size="8.0" text-anchor="start" font-weight="bold" font-style="normal" fill="#111" stroke="#111" stroke-width="0.08">CD4+</text>
<text x="17.20" y="327.10" font-size="7.7" text-anchor="start" font-weight="bold" font-style="normal" fill="#111" stroke="#111" stroke-width="0.08">CD8+</text>
<text x="18.80" y="276.50" font-size="9.3" text-anchor="middle" font-weight="normal" font-style="normal" fill="#1a1a1a" stroke="#1a1a1a" stroke-width="0.30" transform="rotate(-90 18.8 276.5)">Fold change in the</text>
<text x="30.30" y="274.40" font-size="9.5" text-anchor="middle" font-weight="normal" font-style="normal" fill="#1a1a1a" stroke="#1a1a1a" stroke-width="0.30" transform="rotate(-90 30.3 274.4)">absolute count</text>
<line x1="46.20" y1="349.20" x2="512.00" y2="349.20" stroke="#555" stroke-width="1.5"/>
<path d="M516.5,349.2 L511.0,346.9 L511.0,351.5 Z" fill="#444" stroke="none" stroke-width="0.7"/>
<text x="46.80" y="358.60" font-size="8.1" text-anchor="start" font-weight="normal" font-style="normal" fill="#1a1a1a" stroke="#1a1a1a" stroke-width="0.30">Days after IL-15 administration</text>
</svg>
</body></html>
